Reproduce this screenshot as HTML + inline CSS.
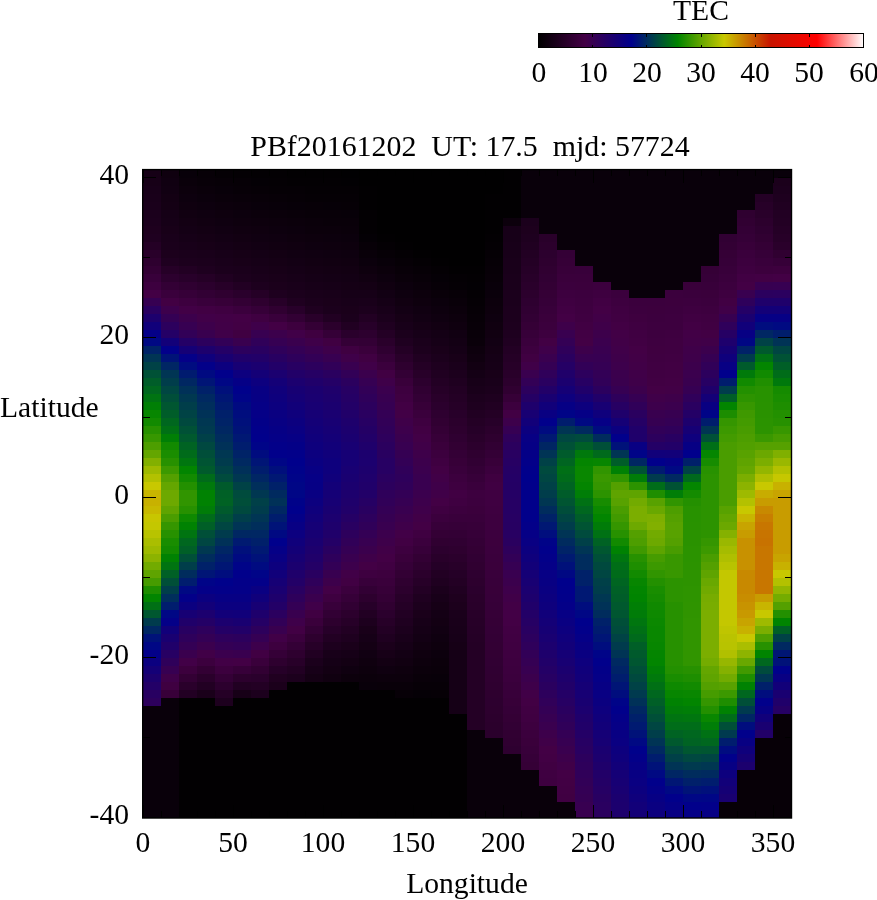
<!DOCTYPE html>
<html><head><meta charset="utf-8"><title>TEC</title>
<style>
html,body{margin:0;padding:0;background:#fff;}
body{width:877px;height:900px;overflow:hidden;position:relative;font-family:"Liberation Serif",serif;color:#000;}
svg{position:absolute;left:0;top:0;}
.t{will-change:transform;position:absolute;white-space:pre;font-size:29.6px;line-height:1;}
.c{transform:translateX(-50%);}
.r{transform:translateX(-100%);}
</style></head><body>
<svg width="877" height="900" viewBox="0 0 877 900" shape-rendering="crispEdges">
<defs><linearGradient id="cb" x1="0" x2="1" y1="0" y2="0"><stop offset="0.0000" stop-color="#000000"/><stop offset="0.1429" stop-color="#430045"/><stop offset="0.2857" stop-color="#00008c"/><stop offset="0.4286" stop-color="#008400"/><stop offset="0.5714" stop-color="#c8c800"/><stop offset="0.7143" stop-color="#c81400"/><stop offset="0.8571" stop-color="#ff0000"/><stop offset="1.0000" stop-color="#ffffff"/></linearGradient></defs>
<rect x="143" y="169.6" width="648" height="648.0" fill="#000"/>
<g>
<rect x="143" y="169.6" width="18.5" height="8.5" fill="#160016"/>
<rect x="143" y="177.6" width="18.5" height="8.5" fill="#170017"/>
<rect x="143" y="185.6" width="18.5" height="8.5" fill="#180019"/>
<rect x="143" y="193.6" width="18.5" height="8.5" fill="#19001a"/>
<rect x="143" y="201.6" width="18.5" height="8.5" fill="#1a001b"/>
<rect x="143" y="209.6" width="18.5" height="8.5" fill="#1b001c"/>
<rect x="143" y="217.6" width="18.5" height="8.5" fill="#1c001d"/>
<rect x="143" y="225.6" width="18.5" height="8.5" fill="#1e001e"/>
<rect x="143" y="233.6" width="18.5" height="8.5" fill="#1f0020"/>
<rect x="143" y="241.6" width="18.5" height="8.5" fill="#240025"/>
<rect x="143" y="249.6" width="18.5" height="8.5" fill="#29002a"/>
<rect x="143" y="257.6" width="18.5" height="8.5" fill="#2e002f"/>
<rect x="143" y="265.6" width="18.5" height="8.5" fill="#330034"/>
<rect x="143" y="273.6" width="18.5" height="8.5" fill="#38003a"/>
<rect x="143" y="281.6" width="18.5" height="8.5" fill="#3d003f"/>
<rect x="143" y="289.6" width="18.5" height="8.5" fill="#430045"/>
<rect x="143" y="297.6" width="18.5" height="8.5" fill="#360052"/>
<rect x="143" y="305.6" width="18.5" height="8.5" fill="#2a0060"/>
<rect x="143" y="313.6" width="18.5" height="8.5" fill="#1d006d"/>
<rect x="143" y="321.6" width="18.5" height="8.5" fill="#11007a"/>
<rect x="143" y="329.6" width="18.5" height="8.5" fill="#040088"/>
<rect x="143" y="337.6" width="18.5" height="8.5" fill="#000983"/>
<rect x="143" y="345.6" width="18.5" height="8.5" fill="#002367"/>
<rect x="143" y="353.6" width="18.5" height="8.5" fill="#003554"/>
<rect x="143" y="361.6" width="18.5" height="8.5" fill="#004246"/>
<rect x="143" y="369.6" width="18.5" height="8.5" fill="#005136"/>
<rect x="143" y="377.6" width="18.5" height="8.5" fill="#005d29"/>
<rect x="143" y="385.6" width="18.5" height="8.5" fill="#00671f"/>
<rect x="143" y="393.6" width="18.5" height="8.5" fill="#007312"/>
<rect x="143" y="401.6" width="18.5" height="8.5" fill="#007f05"/>
<rect x="143" y="409.6" width="18.5" height="8.5" fill="#078600"/>
<rect x="143" y="417.6" width="18.5" height="8.5" fill="#128a00"/>
<rect x="143" y="425.6" width="18.5" height="8.5" fill="#279100"/>
<rect x="143" y="433.6" width="18.5" height="8.5" fill="#379700"/>
<rect x="143" y="441.6" width="18.5" height="8.5" fill="#4d9e00"/>
<rect x="143" y="449.6" width="18.5" height="8.5" fill="#64a600"/>
<rect x="143" y="457.6" width="18.5" height="8.5" fill="#82b000"/>
<rect x="143" y="465.6" width="18.5" height="8.5" fill="#9eba00"/>
<rect x="143" y="473.6" width="18.5" height="8.5" fill="#b3c100"/>
<rect x="143" y="481.6" width="18.5" height="8.5" fill="#c8c800"/>
<rect x="143" y="489.6" width="18.5" height="8.5" fill="#c8b500"/>
<rect x="143" y="497.6" width="18.5" height="8.5" fill="#c8b100"/>
<rect x="143" y="505.6" width="18.5" height="8.5" fill="#c8b900"/>
<rect x="143" y="513.6" width="18.5" height="8.5" fill="#c8c600"/>
<rect x="143" y="521.6" width="18.5" height="8.5" fill="#c4c700"/>
<rect x="143" y="529.6" width="18.5" height="8.5" fill="#b8c300"/>
<rect x="143" y="537.6" width="18.5" height="8.5" fill="#aabe00"/>
<rect x="143" y="545.6" width="18.5" height="8.5" fill="#9eba00"/>
<rect x="143" y="553.6" width="18.5" height="8.5" fill="#8cb300"/>
<rect x="143" y="561.6" width="18.5" height="8.5" fill="#72ab00"/>
<rect x="143" y="569.6" width="18.5" height="8.5" fill="#5fa400"/>
<rect x="143" y="577.6" width="18.5" height="8.5" fill="#469c00"/>
<rect x="143" y="585.6" width="18.5" height="8.5" fill="#1e8e00"/>
<rect x="143" y="593.6" width="18.5" height="8.5" fill="#028500"/>
<rect x="143" y="601.6" width="18.5" height="8.5" fill="#007015"/>
<rect x="143" y="609.6" width="18.5" height="8.5" fill="#005730"/>
<rect x="143" y="617.6" width="18.5" height="8.5" fill="#003b4d"/>
<rect x="143" y="625.6" width="18.5" height="8.5" fill="#002762"/>
<rect x="143" y="633.6" width="18.5" height="8.5" fill="#001279"/>
<rect x="143" y="641.6" width="18.5" height="8.5" fill="#000785"/>
<rect x="143" y="649.6" width="18.5" height="8.5" fill="#030089"/>
<rect x="143" y="657.6" width="18.5" height="8.5" fill="#0b0080"/>
<rect x="143" y="665.6" width="18.5" height="8.5" fill="#140077"/>
<rect x="143" y="673.6" width="18.5" height="8.5" fill="#1c006e"/>
<rect x="143" y="681.6" width="18.5" height="8.5" fill="#230067"/>
<rect x="143" y="689.6" width="18.5" height="8.5" fill="#280061"/>
<rect x="143" y="697.6" width="18.5" height="8.5" fill="#2d005c"/>
<rect x="143" y="705.6" width="18.5" height="112.5" fill="#09000a"/>
<rect x="161" y="169.6" width="18.5" height="8.5" fill="#0f000f"/>
<rect x="161" y="177.6" width="18.5" height="8.5" fill="#100011"/>
<rect x="161" y="185.6" width="18.5" height="8.5" fill="#110012"/>
<rect x="161" y="193.6" width="18.5" height="8.5" fill="#130013"/>
<rect x="161" y="201.6" width="18.5" height="8.5" fill="#140014"/>
<rect x="161" y="209.6" width="18.5" height="8.5" fill="#150016"/>
<rect x="161" y="217.6" width="18.5" height="8.5" fill="#160017"/>
<rect x="161" y="225.6" width="18.5" height="8.5" fill="#180018"/>
<rect x="161" y="233.6" width="18.5" height="8.5" fill="#19001a"/>
<rect x="161" y="241.6" width="18.5" height="8.5" fill="#1a001b"/>
<rect x="161" y="249.6" width="18.5" height="8.5" fill="#1c001c"/>
<rect x="161" y="257.6" width="18.5" height="8.5" fill="#1f0020"/>
<rect x="161" y="265.6" width="18.5" height="8.5" fill="#260027"/>
<rect x="161" y="273.6" width="18.5" height="8.5" fill="#2c002e"/>
<rect x="161" y="281.6" width="18.5" height="8.5" fill="#330035"/>
<rect x="161" y="289.6" width="18.5" height="8.5" fill="#3a003c"/>
<rect x="161" y="297.6" width="18.5" height="8.5" fill="#420043"/>
<rect x="161" y="305.6" width="18.5" height="8.5" fill="#3d004c"/>
<rect x="161" y="313.6" width="18.5" height="8.5" fill="#340054"/>
<rect x="161" y="321.6" width="18.5" height="8.5" fill="#2c005d"/>
<rect x="161" y="329.6" width="18.5" height="8.5" fill="#240066"/>
<rect x="161" y="337.6" width="18.5" height="8.5" fill="#120079"/>
<rect x="161" y="345.6" width="18.5" height="8.5" fill="#02008a"/>
<rect x="161" y="353.6" width="18.5" height="8.5" fill="#001377"/>
<rect x="161" y="361.6" width="18.5" height="8.5" fill="#002664"/>
<rect x="161" y="369.6" width="18.5" height="8.5" fill="#003554"/>
<rect x="161" y="377.6" width="18.5" height="8.5" fill="#003d4b"/>
<rect x="161" y="385.6" width="18.5" height="8.5" fill="#004642"/>
<rect x="161" y="393.6" width="18.5" height="8.5" fill="#004e39"/>
<rect x="161" y="401.6" width="18.5" height="8.5" fill="#005631"/>
<rect x="161" y="409.6" width="18.5" height="8.5" fill="#005d29"/>
<rect x="161" y="417.6" width="18.5" height="8.5" fill="#00671f"/>
<rect x="161" y="425.6" width="18.5" height="8.5" fill="#007015"/>
<rect x="161" y="433.6" width="18.5" height="8.5" fill="#007f05"/>
<rect x="161" y="441.6" width="18.5" height="8.5" fill="#128a00"/>
<rect x="161" y="449.6" width="18.5" height="8.5" fill="#1a8d00"/>
<rect x="161" y="457.6" width="18.5" height="8.5" fill="#279100"/>
<rect x="161" y="465.6" width="18.5" height="8.5" fill="#3c9900"/>
<rect x="161" y="473.6" width="18.5" height="8.5" fill="#54a000"/>
<rect x="161" y="481.6" width="18.5" height="8.5" fill="#64a600"/>
<rect x="161" y="489.6" width="18.5" height="16.5" fill="#6da900"/>
<rect x="161" y="505.6" width="18.5" height="8.5" fill="#5fa400"/>
<rect x="161" y="513.6" width="18.5" height="8.5" fill="#4a9d00"/>
<rect x="161" y="521.6" width="18.5" height="8.5" fill="#359600"/>
<rect x="161" y="529.6" width="18.5" height="8.5" fill="#279100"/>
<rect x="161" y="537.6" width="18.5" height="8.5" fill="#198d00"/>
<rect x="161" y="545.6" width="18.5" height="8.5" fill="#128a00"/>
<rect x="161" y="553.6" width="18.5" height="8.5" fill="#008202"/>
<rect x="161" y="561.6" width="18.5" height="8.5" fill="#007411"/>
<rect x="161" y="569.6" width="18.5" height="8.5" fill="#006026"/>
<rect x="161" y="577.6" width="18.5" height="8.5" fill="#004f38"/>
<rect x="161" y="585.6" width="18.5" height="8.5" fill="#003e4a"/>
<rect x="161" y="593.6" width="18.5" height="8.5" fill="#002e5c"/>
<rect x="161" y="601.6" width="18.5" height="8.5" fill="#001d6e"/>
<rect x="161" y="609.6" width="18.5" height="8.5" fill="#000785"/>
<rect x="161" y="617.6" width="18.5" height="8.5" fill="#040088"/>
<rect x="161" y="625.6" width="18.5" height="8.5" fill="#11007a"/>
<rect x="161" y="633.6" width="18.5" height="8.5" fill="#190071"/>
<rect x="161" y="641.6" width="18.5" height="8.5" fill="#20006a"/>
<rect x="161" y="649.6" width="18.5" height="8.5" fill="#270063"/>
<rect x="161" y="657.6" width="18.5" height="8.5" fill="#2f005a"/>
<rect x="161" y="665.6" width="18.5" height="8.5" fill="#370052"/>
<rect x="161" y="673.6" width="18.5" height="8.5" fill="#3f0049"/>
<rect x="161" y="681.6" width="18.5" height="8.5" fill="#3f0041"/>
<rect x="161" y="689.6" width="18.5" height="8.5" fill="#380039"/>
<rect x="161" y="697.6" width="18.5" height="120.5" fill="#09000a"/>
<rect x="179" y="169.6" width="18.5" height="8.5" fill="#080009"/>
<rect x="179" y="177.6" width="18.5" height="8.5" fill="#0a000a"/>
<rect x="179" y="185.6" width="18.5" height="8.5" fill="#0c000c"/>
<rect x="179" y="193.6" width="18.5" height="8.5" fill="#0d000e"/>
<rect x="179" y="201.6" width="18.5" height="8.5" fill="#0f000f"/>
<rect x="179" y="209.6" width="18.5" height="8.5" fill="#110011"/>
<rect x="179" y="217.6" width="18.5" height="8.5" fill="#130013"/>
<rect x="179" y="225.6" width="18.5" height="8.5" fill="#140015"/>
<rect x="179" y="233.6" width="18.5" height="8.5" fill="#160017"/>
<rect x="179" y="241.6" width="18.5" height="8.5" fill="#180019"/>
<rect x="179" y="249.6" width="18.5" height="8.5" fill="#1a001b"/>
<rect x="179" y="257.6" width="18.5" height="8.5" fill="#1c001d"/>
<rect x="179" y="265.6" width="18.5" height="8.5" fill="#220023"/>
<rect x="179" y="273.6" width="18.5" height="8.5" fill="#28002a"/>
<rect x="179" y="281.6" width="18.5" height="8.5" fill="#2f0031"/>
<rect x="179" y="289.6" width="18.5" height="8.5" fill="#360038"/>
<rect x="179" y="297.6" width="18.5" height="8.5" fill="#3d003f"/>
<rect x="179" y="305.6" width="18.5" height="8.5" fill="#420046"/>
<rect x="179" y="313.6" width="18.5" height="8.5" fill="#3c004c"/>
<rect x="179" y="321.6" width="18.5" height="8.5" fill="#370052"/>
<rect x="179" y="329.6" width="18.5" height="8.5" fill="#320057"/>
<rect x="179" y="337.6" width="18.5" height="8.5" fill="#240066"/>
<rect x="179" y="345.6" width="18.5" height="8.5" fill="#150076"/>
<rect x="179" y="353.6" width="18.5" height="8.5" fill="#040088"/>
<rect x="179" y="361.6" width="18.5" height="8.5" fill="#000c80"/>
<rect x="179" y="369.6" width="18.5" height="8.5" fill="#001b6f"/>
<rect x="179" y="377.6" width="18.5" height="8.5" fill="#002762"/>
<rect x="179" y="385.6" width="18.5" height="8.5" fill="#003158"/>
<rect x="179" y="393.6" width="18.5" height="8.5" fill="#003850"/>
<rect x="179" y="401.6" width="18.5" height="8.5" fill="#003e4a"/>
<rect x="179" y="409.6" width="18.5" height="8.5" fill="#004345"/>
<rect x="179" y="417.6" width="18.5" height="8.5" fill="#00493e"/>
<rect x="179" y="425.6" width="18.5" height="8.5" fill="#005136"/>
<rect x="179" y="433.6" width="18.5" height="8.5" fill="#00592e"/>
<rect x="179" y="441.6" width="18.5" height="8.5" fill="#006323"/>
<rect x="179" y="449.6" width="18.5" height="8.5" fill="#006b1a"/>
<rect x="179" y="457.6" width="18.5" height="8.5" fill="#00760f"/>
<rect x="179" y="465.6" width="18.5" height="8.5" fill="#028500"/>
<rect x="179" y="473.6" width="18.5" height="8.5" fill="#128a00"/>
<rect x="179" y="481.6" width="18.5" height="8.5" fill="#239000"/>
<rect x="179" y="489.6" width="18.5" height="16.5" fill="#319500"/>
<rect x="179" y="505.6" width="18.5" height="8.5" fill="#279100"/>
<rect x="179" y="513.6" width="18.5" height="8.5" fill="#0e8900"/>
<rect x="179" y="521.6" width="18.5" height="8.5" fill="#008202"/>
<rect x="179" y="529.6" width="18.5" height="8.5" fill="#007411"/>
<rect x="179" y="537.6" width="18.5" height="8.5" fill="#00671f"/>
<rect x="179" y="545.6" width="18.5" height="8.5" fill="#005f27"/>
<rect x="179" y="553.6" width="18.5" height="8.5" fill="#004f38"/>
<rect x="179" y="561.6" width="18.5" height="8.5" fill="#003e4a"/>
<rect x="179" y="569.6" width="18.5" height="8.5" fill="#002c5d"/>
<rect x="179" y="577.6" width="18.5" height="8.5" fill="#001d6e"/>
<rect x="179" y="585.6" width="18.5" height="8.5" fill="#000983"/>
<rect x="179" y="593.6" width="18.5" height="8.5" fill="#030089"/>
<rect x="179" y="601.6" width="18.5" height="8.5" fill="#0b0080"/>
<rect x="179" y="609.6" width="18.5" height="8.5" fill="#170074"/>
<rect x="179" y="617.6" width="18.5" height="8.5" fill="#20006a"/>
<rect x="179" y="625.6" width="18.5" height="8.5" fill="#280061"/>
<rect x="179" y="633.6" width="18.5" height="8.5" fill="#2e005b"/>
<rect x="179" y="641.6" width="18.5" height="8.5" fill="#340055"/>
<rect x="179" y="649.6" width="18.5" height="8.5" fill="#3a004e"/>
<rect x="179" y="657.6" width="18.5" height="8.5" fill="#420047"/>
<rect x="179" y="665.6" width="18.5" height="8.5" fill="#3c003d"/>
<rect x="179" y="673.6" width="18.5" height="8.5" fill="#330034"/>
<rect x="179" y="681.6" width="18.5" height="8.5" fill="#2a002b"/>
<rect x="179" y="689.6" width="18.5" height="8.5" fill="#220023"/>
<rect x="179" y="697.6" width="18.5" height="120.5" fill="#020002"/>
<rect x="197" y="169.6" width="18.5" height="8.5" fill="#070007"/>
<rect x="197" y="177.6" width="18.5" height="8.5" fill="#080008"/>
<rect x="197" y="185.6" width="18.5" height="8.5" fill="#0a000a"/>
<rect x="197" y="193.6" width="18.5" height="8.5" fill="#0b000c"/>
<rect x="197" y="201.6" width="18.5" height="8.5" fill="#0d000e"/>
<rect x="197" y="209.6" width="18.5" height="8.5" fill="#0f0010"/>
<rect x="197" y="217.6" width="18.5" height="8.5" fill="#110011"/>
<rect x="197" y="225.6" width="18.5" height="8.5" fill="#130013"/>
<rect x="197" y="233.6" width="18.5" height="8.5" fill="#150015"/>
<rect x="197" y="241.6" width="18.5" height="8.5" fill="#170017"/>
<rect x="197" y="249.6" width="18.5" height="8.5" fill="#19001a"/>
<rect x="197" y="257.6" width="18.5" height="8.5" fill="#1b001c"/>
<rect x="197" y="265.6" width="18.5" height="8.5" fill="#1e001f"/>
<rect x="197" y="273.6" width="18.5" height="8.5" fill="#250026"/>
<rect x="197" y="281.6" width="18.5" height="8.5" fill="#2b002d"/>
<rect x="197" y="289.6" width="18.5" height="8.5" fill="#320034"/>
<rect x="197" y="297.6" width="18.5" height="8.5" fill="#39003b"/>
<rect x="197" y="305.6" width="18.5" height="8.5" fill="#410043"/>
<rect x="197" y="313.6" width="18.5" height="8.5" fill="#410048"/>
<rect x="197" y="321.6" width="18.5" height="8.5" fill="#3d004b"/>
<rect x="197" y="329.6" width="18.5" height="8.5" fill="#39004f"/>
<rect x="197" y="337.6" width="18.5" height="8.5" fill="#2c005d"/>
<rect x="197" y="345.6" width="18.5" height="8.5" fill="#1d006d"/>
<rect x="197" y="353.6" width="18.5" height="8.5" fill="#0f007c"/>
<rect x="197" y="361.6" width="18.5" height="8.5" fill="#030089"/>
<rect x="197" y="369.6" width="18.5" height="8.5" fill="#000a81"/>
<rect x="197" y="377.6" width="18.5" height="8.5" fill="#001576"/>
<rect x="197" y="385.6" width="18.5" height="8.5" fill="#002169"/>
<rect x="197" y="393.6" width="18.5" height="8.5" fill="#002961"/>
<rect x="197" y="401.6" width="18.5" height="8.5" fill="#002e5c"/>
<rect x="197" y="409.6" width="18.5" height="8.5" fill="#003257"/>
<rect x="197" y="417.6" width="18.5" height="8.5" fill="#003752"/>
<rect x="197" y="425.6" width="18.5" height="8.5" fill="#003a4f"/>
<rect x="197" y="433.6" width="18.5" height="8.5" fill="#004048"/>
<rect x="197" y="441.6" width="18.5" height="8.5" fill="#004840"/>
<rect x="197" y="449.6" width="18.5" height="8.5" fill="#004e39"/>
<rect x="197" y="457.6" width="18.5" height="8.5" fill="#005433"/>
<rect x="197" y="465.6" width="18.5" height="8.5" fill="#005a2c"/>
<rect x="197" y="473.6" width="18.5" height="8.5" fill="#006b1a"/>
<rect x="197" y="481.6" width="18.5" height="8.5" fill="#00790c"/>
<rect x="197" y="489.6" width="18.5" height="16.5" fill="#008202"/>
<rect x="197" y="505.6" width="18.5" height="8.5" fill="#007c08"/>
<rect x="197" y="513.6" width="18.5" height="8.5" fill="#006b1a"/>
<rect x="197" y="521.6" width="18.5" height="8.5" fill="#005f27"/>
<rect x="197" y="529.6" width="18.5" height="8.5" fill="#004f38"/>
<rect x="197" y="537.6" width="18.5" height="8.5" fill="#004642"/>
<rect x="197" y="545.6" width="18.5" height="8.5" fill="#003850"/>
<rect x="197" y="553.6" width="18.5" height="8.5" fill="#002c5d"/>
<rect x="197" y="561.6" width="18.5" height="8.5" fill="#002169"/>
<rect x="197" y="569.6" width="18.5" height="8.5" fill="#001576"/>
<rect x="197" y="577.6" width="18.5" height="8.5" fill="#000488"/>
<rect x="197" y="585.6" width="18.5" height="8.5" fill="#040088"/>
<rect x="197" y="593.6" width="18.5" height="8.5" fill="#0b0080"/>
<rect x="197" y="601.6" width="18.5" height="8.5" fill="#120079"/>
<rect x="197" y="609.6" width="18.5" height="8.5" fill="#1c006f"/>
<rect x="197" y="617.6" width="18.5" height="8.5" fill="#240066"/>
<rect x="197" y="625.6" width="18.5" height="8.5" fill="#2e005c"/>
<rect x="197" y="633.6" width="18.5" height="8.5" fill="#340055"/>
<rect x="197" y="641.6" width="18.5" height="8.5" fill="#3b004e"/>
<rect x="197" y="649.6" width="18.5" height="8.5" fill="#410047"/>
<rect x="197" y="657.6" width="18.5" height="8.5" fill="#3c003e"/>
<rect x="197" y="665.6" width="18.5" height="8.5" fill="#330034"/>
<rect x="197" y="673.6" width="18.5" height="8.5" fill="#2a002b"/>
<rect x="197" y="681.6" width="18.5" height="8.5" fill="#220023"/>
<rect x="197" y="689.6" width="18.5" height="8.5" fill="#1a001a"/>
<rect x="197" y="697.6" width="18.5" height="120.5" fill="#020002"/>
<rect x="215" y="169.6" width="18.5" height="8.5" fill="#050005"/>
<rect x="215" y="177.6" width="18.5" height="8.5" fill="#070007"/>
<rect x="215" y="185.6" width="18.5" height="8.5" fill="#080009"/>
<rect x="215" y="193.6" width="18.5" height="8.5" fill="#0a000a"/>
<rect x="215" y="201.6" width="18.5" height="8.5" fill="#0c000c"/>
<rect x="215" y="209.6" width="18.5" height="8.5" fill="#0e000e"/>
<rect x="215" y="217.6" width="18.5" height="8.5" fill="#0f0010"/>
<rect x="215" y="225.6" width="18.5" height="8.5" fill="#110012"/>
<rect x="215" y="233.6" width="18.5" height="8.5" fill="#130014"/>
<rect x="215" y="241.6" width="18.5" height="8.5" fill="#150016"/>
<rect x="215" y="249.6" width="18.5" height="8.5" fill="#170018"/>
<rect x="215" y="257.6" width="18.5" height="8.5" fill="#19001a"/>
<rect x="215" y="265.6" width="18.5" height="8.5" fill="#1b001c"/>
<rect x="215" y="273.6" width="18.5" height="8.5" fill="#200021"/>
<rect x="215" y="281.6" width="18.5" height="8.5" fill="#270028"/>
<rect x="215" y="289.6" width="18.5" height="8.5" fill="#2f0030"/>
<rect x="215" y="297.6" width="18.5" height="8.5" fill="#370038"/>
<rect x="215" y="305.6" width="18.5" height="8.5" fill="#3f0041"/>
<rect x="215" y="313.6" width="18.5" height="8.5" fill="#420046"/>
<rect x="215" y="321.6" width="18.5" height="8.5" fill="#410047"/>
<rect x="215" y="329.6" width="18.5" height="8.5" fill="#400049"/>
<rect x="215" y="337.6" width="18.5" height="8.5" fill="#320057"/>
<rect x="215" y="345.6" width="18.5" height="8.5" fill="#240066"/>
<rect x="215" y="353.6" width="18.5" height="8.5" fill="#190071"/>
<rect x="215" y="361.6" width="18.5" height="8.5" fill="#0c007f"/>
<rect x="215" y="369.6" width="18.5" height="8.5" fill="#01008b"/>
<rect x="215" y="377.6" width="18.5" height="8.5" fill="#000785"/>
<rect x="215" y="385.6" width="18.5" height="8.5" fill="#00107b"/>
<rect x="215" y="393.6" width="18.5" height="8.5" fill="#001674"/>
<rect x="215" y="401.6" width="18.5" height="8.5" fill="#001b6f"/>
<rect x="215" y="409.6" width="18.5" height="8.5" fill="#00206a"/>
<rect x="215" y="417.6" width="18.5" height="8.5" fill="#002367"/>
<rect x="215" y="425.6" width="18.5" height="8.5" fill="#002762"/>
<rect x="215" y="433.6" width="18.5" height="8.5" fill="#002c5d"/>
<rect x="215" y="441.6" width="18.5" height="8.5" fill="#003158"/>
<rect x="215" y="449.6" width="18.5" height="8.5" fill="#003752"/>
<rect x="215" y="457.6" width="18.5" height="8.5" fill="#003b4d"/>
<rect x="215" y="465.6" width="18.5" height="8.5" fill="#004246"/>
<rect x="215" y="473.6" width="18.5" height="8.5" fill="#004b3d"/>
<rect x="215" y="481.6" width="18.5" height="8.5" fill="#005a2c"/>
<rect x="215" y="489.6" width="18.5" height="8.5" fill="#006026"/>
<rect x="215" y="497.6" width="18.5" height="8.5" fill="#006224"/>
<rect x="215" y="505.6" width="18.5" height="8.5" fill="#005a2c"/>
<rect x="215" y="513.6" width="18.5" height="8.5" fill="#005136"/>
<rect x="215" y="521.6" width="18.5" height="8.5" fill="#004642"/>
<rect x="215" y="529.6" width="18.5" height="8.5" fill="#003b4d"/>
<rect x="215" y="537.6" width="18.5" height="8.5" fill="#003158"/>
<rect x="215" y="545.6" width="18.5" height="8.5" fill="#002664"/>
<rect x="215" y="553.6" width="18.5" height="8.5" fill="#001e6c"/>
<rect x="215" y="561.6" width="18.5" height="8.5" fill="#001674"/>
<rect x="215" y="569.6" width="18.5" height="8.5" fill="#000d7e"/>
<rect x="215" y="577.6" width="18.5" height="8.5" fill="#00018b"/>
<rect x="215" y="585.6" width="18.5" height="8.5" fill="#030089"/>
<rect x="215" y="593.6" width="18.5" height="8.5" fill="#070084"/>
<rect x="215" y="601.6" width="18.5" height="8.5" fill="#0b0080"/>
<rect x="215" y="609.6" width="18.5" height="8.5" fill="#120079"/>
<rect x="215" y="617.6" width="18.5" height="8.5" fill="#1c006f"/>
<rect x="215" y="625.6" width="18.5" height="8.5" fill="#240066"/>
<rect x="215" y="633.6" width="18.5" height="8.5" fill="#2e005c"/>
<rect x="215" y="641.6" width="18.5" height="8.5" fill="#340055"/>
<rect x="215" y="649.6" width="18.5" height="8.5" fill="#3b004e"/>
<rect x="215" y="657.6" width="18.5" height="8.5" fill="#420046"/>
<rect x="215" y="665.6" width="18.5" height="8.5" fill="#3c003e"/>
<rect x="215" y="673.6" width="18.5" height="8.5" fill="#340036"/>
<rect x="215" y="681.6" width="18.5" height="8.5" fill="#2c002e"/>
<rect x="215" y="689.6" width="18.5" height="8.5" fill="#250026"/>
<rect x="215" y="697.6" width="18.5" height="8.5" fill="#1d001e"/>
<rect x="215" y="705.6" width="18.5" height="112.5" fill="#020002"/>
<rect x="233" y="169.6" width="18.5" height="8.5" fill="#040004"/>
<rect x="233" y="177.6" width="18.5" height="8.5" fill="#060006"/>
<rect x="233" y="185.6" width="18.5" height="8.5" fill="#070007"/>
<rect x="233" y="193.6" width="18.5" height="8.5" fill="#090009"/>
<rect x="233" y="201.6" width="18.5" height="8.5" fill="#0b000b"/>
<rect x="233" y="209.6" width="18.5" height="8.5" fill="#0c000d"/>
<rect x="233" y="217.6" width="18.5" height="8.5" fill="#0e000e"/>
<rect x="233" y="225.6" width="18.5" height="8.5" fill="#100010"/>
<rect x="233" y="233.6" width="18.5" height="8.5" fill="#120012"/>
<rect x="233" y="241.6" width="18.5" height="8.5" fill="#140014"/>
<rect x="233" y="249.6" width="18.5" height="8.5" fill="#160016"/>
<rect x="233" y="257.6" width="18.5" height="8.5" fill="#180018"/>
<rect x="233" y="265.6" width="18.5" height="8.5" fill="#1a001b"/>
<rect x="233" y="273.6" width="18.5" height="8.5" fill="#1c001d"/>
<rect x="233" y="281.6" width="18.5" height="8.5" fill="#220023"/>
<rect x="233" y="289.6" width="18.5" height="8.5" fill="#2a002c"/>
<rect x="233" y="297.6" width="18.5" height="8.5" fill="#330034"/>
<rect x="233" y="305.6" width="18.5" height="8.5" fill="#3b003d"/>
<rect x="233" y="313.6" width="18.5" height="8.5" fill="#430045"/>
<rect x="233" y="321.6" width="18.5" height="8.5" fill="#420044"/>
<rect x="233" y="329.6" width="18.5" height="8.5" fill="#400042"/>
<rect x="233" y="337.6" width="18.5" height="8.5" fill="#39004f"/>
<rect x="233" y="345.6" width="18.5" height="8.5" fill="#2c005d"/>
<rect x="233" y="353.6" width="18.5" height="8.5" fill="#20006a"/>
<rect x="233" y="361.6" width="18.5" height="8.5" fill="#170074"/>
<rect x="233" y="369.6" width="18.5" height="8.5" fill="#0d007f"/>
<rect x="233" y="377.6" width="18.5" height="8.5" fill="#050086"/>
<rect x="233" y="385.6" width="18.5" height="8.5" fill="#00018b"/>
<rect x="233" y="393.6" width="18.5" height="8.5" fill="#000488"/>
<rect x="233" y="401.6" width="18.5" height="8.5" fill="#000a81"/>
<rect x="233" y="409.6" width="18.5" height="8.5" fill="#000d7e"/>
<rect x="233" y="417.6" width="18.5" height="8.5" fill="#00107b"/>
<rect x="233" y="425.6" width="18.5" height="8.5" fill="#001377"/>
<rect x="233" y="433.6" width="18.5" height="8.5" fill="#001873"/>
<rect x="233" y="441.6" width="18.5" height="8.5" fill="#001d6e"/>
<rect x="233" y="449.6" width="18.5" height="8.5" fill="#002367"/>
<rect x="233" y="457.6" width="18.5" height="8.5" fill="#002961"/>
<rect x="233" y="465.6" width="18.5" height="8.5" fill="#003059"/>
<rect x="233" y="473.6" width="18.5" height="8.5" fill="#003751"/>
<rect x="233" y="481.6" width="18.5" height="8.5" fill="#004246"/>
<rect x="233" y="489.6" width="18.5" height="8.5" fill="#004b3d"/>
<rect x="233" y="497.6" width="18.5" height="8.5" fill="#004e39"/>
<rect x="233" y="505.6" width="18.5" height="8.5" fill="#00493e"/>
<rect x="233" y="513.6" width="18.5" height="8.5" fill="#003e4a"/>
<rect x="233" y="521.6" width="18.5" height="8.5" fill="#003455"/>
<rect x="233" y="529.6" width="18.5" height="8.5" fill="#002762"/>
<rect x="233" y="537.6" width="18.5" height="8.5" fill="#001a71"/>
<rect x="233" y="545.6" width="18.5" height="8.5" fill="#00107b"/>
<rect x="233" y="553.6" width="18.5" height="8.5" fill="#000a81"/>
<rect x="233" y="561.6" width="18.5" height="8.5" fill="#000488"/>
<rect x="233" y="569.6" width="18.5" height="8.5" fill="#01008b"/>
<rect x="233" y="577.6" width="18.5" height="8.5" fill="#030089"/>
<rect x="233" y="585.6" width="18.5" height="8.5" fill="#040088"/>
<rect x="233" y="593.6" width="18.5" height="8.5" fill="#070084"/>
<rect x="233" y="601.6" width="18.5" height="8.5" fill="#0b0080"/>
<rect x="233" y="609.6" width="18.5" height="8.5" fill="#11007a"/>
<rect x="233" y="617.6" width="18.5" height="8.5" fill="#190071"/>
<rect x="233" y="625.6" width="18.5" height="8.5" fill="#220068"/>
<rect x="233" y="633.6" width="18.5" height="8.5" fill="#2c005d"/>
<rect x="233" y="641.6" width="18.5" height="8.5" fill="#320057"/>
<rect x="233" y="649.6" width="18.5" height="8.5" fill="#39004f"/>
<rect x="233" y="657.6" width="18.5" height="8.5" fill="#430045"/>
<rect x="233" y="665.6" width="18.5" height="8.5" fill="#370039"/>
<rect x="233" y="673.6" width="18.5" height="8.5" fill="#2c002d"/>
<rect x="233" y="681.6" width="18.5" height="8.5" fill="#210022"/>
<rect x="233" y="689.6" width="18.5" height="8.5" fill="#170017"/>
<rect x="233" y="697.6" width="18.5" height="120.5" fill="#020002"/>
<rect x="251" y="169.6" width="18.5" height="8.5" fill="#030003"/>
<rect x="251" y="177.6" width="18.5" height="8.5" fill="#040005"/>
<rect x="251" y="185.6" width="18.5" height="8.5" fill="#060006"/>
<rect x="251" y="193.6" width="18.5" height="8.5" fill="#080008"/>
<rect x="251" y="201.6" width="18.5" height="8.5" fill="#09000a"/>
<rect x="251" y="209.6" width="18.5" height="8.5" fill="#0b000b"/>
<rect x="251" y="217.6" width="18.5" height="8.5" fill="#0d000d"/>
<rect x="251" y="225.6" width="18.5" height="8.5" fill="#0f000f"/>
<rect x="251" y="233.6" width="18.5" height="8.5" fill="#100011"/>
<rect x="251" y="241.6" width="18.5" height="8.5" fill="#120013"/>
<rect x="251" y="249.6" width="18.5" height="8.5" fill="#140015"/>
<rect x="251" y="257.6" width="18.5" height="8.5" fill="#160017"/>
<rect x="251" y="265.6" width="18.5" height="8.5" fill="#180019"/>
<rect x="251" y="273.6" width="18.5" height="8.5" fill="#1a001b"/>
<rect x="251" y="281.6" width="18.5" height="8.5" fill="#1d001e"/>
<rect x="251" y="289.6" width="18.5" height="8.5" fill="#250026"/>
<rect x="251" y="297.6" width="18.5" height="8.5" fill="#2e002f"/>
<rect x="251" y="305.6" width="18.5" height="8.5" fill="#360038"/>
<rect x="251" y="313.6" width="18.5" height="8.5" fill="#3f0041"/>
<rect x="251" y="321.6" width="18.5" height="8.5" fill="#3f004a"/>
<rect x="251" y="329.6" width="18.5" height="8.5" fill="#380051"/>
<rect x="251" y="337.6" width="18.5" height="8.5" fill="#300059"/>
<rect x="251" y="345.6" width="18.5" height="8.5" fill="#290060"/>
<rect x="251" y="353.6" width="18.5" height="8.5" fill="#220068"/>
<rect x="251" y="361.6" width="18.5" height="8.5" fill="#1b0070"/>
<rect x="251" y="369.6" width="18.5" height="8.5" fill="#140077"/>
<rect x="251" y="377.6" width="18.5" height="8.5" fill="#0d007f"/>
<rect x="251" y="385.6" width="18.5" height="8.5" fill="#080083"/>
<rect x="251" y="393.6" width="18.5" height="8.5" fill="#070084"/>
<rect x="251" y="401.6" width="18.5" height="8.5" fill="#060086"/>
<rect x="251" y="409.6" width="18.5" height="8.5" fill="#050087"/>
<rect x="251" y="417.6" width="18.5" height="8.5" fill="#030088"/>
<rect x="251" y="425.6" width="18.5" height="8.5" fill="#02008a"/>
<rect x="251" y="433.6" width="18.5" height="8.5" fill="#01008b"/>
<rect x="251" y="441.6" width="18.5" height="8.5" fill="#000488"/>
<rect x="251" y="449.6" width="18.5" height="8.5" fill="#000c7f"/>
<rect x="251" y="457.6" width="18.5" height="8.5" fill="#001576"/>
<rect x="251" y="465.6" width="18.5" height="8.5" fill="#001d6d"/>
<rect x="251" y="473.6" width="18.5" height="8.5" fill="#002664"/>
<rect x="251" y="481.6" width="18.5" height="8.5" fill="#002f5b"/>
<rect x="251" y="489.6" width="18.5" height="8.5" fill="#003751"/>
<rect x="251" y="497.6" width="18.5" height="8.5" fill="#004048"/>
<rect x="251" y="505.6" width="18.5" height="8.5" fill="#003c4c"/>
<rect x="251" y="513.6" width="18.5" height="8.5" fill="#003554"/>
<rect x="251" y="521.6" width="18.5" height="8.5" fill="#002e5b"/>
<rect x="251" y="529.6" width="18.5" height="8.5" fill="#002763"/>
<rect x="251" y="537.6" width="18.5" height="8.5" fill="#00206a"/>
<rect x="251" y="545.6" width="18.5" height="8.5" fill="#001972"/>
<rect x="251" y="553.6" width="18.5" height="8.5" fill="#001279"/>
<rect x="251" y="561.6" width="18.5" height="8.5" fill="#000b81"/>
<rect x="251" y="569.6" width="18.5" height="8.5" fill="#000488"/>
<rect x="251" y="577.6" width="18.5" height="8.5" fill="#030089"/>
<rect x="251" y="585.6" width="18.5" height="8.5" fill="#0a0082"/>
<rect x="251" y="593.6" width="18.5" height="8.5" fill="#10007b"/>
<rect x="251" y="601.6" width="18.5" height="8.5" fill="#170074"/>
<rect x="251" y="609.6" width="18.5" height="8.5" fill="#1e006c"/>
<rect x="251" y="617.6" width="18.5" height="8.5" fill="#250065"/>
<rect x="251" y="625.6" width="18.5" height="8.5" fill="#2d005c"/>
<rect x="251" y="633.6" width="18.5" height="8.5" fill="#350054"/>
<rect x="251" y="641.6" width="18.5" height="8.5" fill="#3d004c"/>
<rect x="251" y="649.6" width="18.5" height="8.5" fill="#410043"/>
<rect x="251" y="657.6" width="18.5" height="8.5" fill="#3a003b"/>
<rect x="251" y="665.6" width="18.5" height="8.5" fill="#320033"/>
<rect x="251" y="673.6" width="18.5" height="8.5" fill="#2a002c"/>
<rect x="251" y="681.6" width="18.5" height="8.5" fill="#230024"/>
<rect x="251" y="689.6" width="18.5" height="8.5" fill="#1c001d"/>
<rect x="251" y="697.6" width="18.5" height="120.5" fill="#020002"/>
<rect x="269" y="169.6" width="18.5" height="8.5" fill="#030003"/>
<rect x="269" y="177.6" width="18.5" height="8.5" fill="#040004"/>
<rect x="269" y="185.6" width="18.5" height="8.5" fill="#050005"/>
<rect x="269" y="193.6" width="18.5" height="8.5" fill="#070007"/>
<rect x="269" y="201.6" width="18.5" height="8.5" fill="#080009"/>
<rect x="269" y="209.6" width="18.5" height="8.5" fill="#0a000a"/>
<rect x="269" y="217.6" width="18.5" height="8.5" fill="#0c000c"/>
<rect x="269" y="225.6" width="18.5" height="8.5" fill="#0d000e"/>
<rect x="269" y="233.6" width="18.5" height="8.5" fill="#0f0010"/>
<rect x="269" y="241.6" width="18.5" height="8.5" fill="#110011"/>
<rect x="269" y="249.6" width="18.5" height="8.5" fill="#130013"/>
<rect x="269" y="257.6" width="18.5" height="8.5" fill="#150015"/>
<rect x="269" y="265.6" width="18.5" height="8.5" fill="#170017"/>
<rect x="269" y="273.6" width="18.5" height="8.5" fill="#190019"/>
<rect x="269" y="281.6" width="18.5" height="8.5" fill="#1b001b"/>
<rect x="269" y="289.6" width="18.5" height="8.5" fill="#1e001f"/>
<rect x="269" y="297.6" width="18.5" height="8.5" fill="#270028"/>
<rect x="269" y="305.6" width="18.5" height="8.5" fill="#300031"/>
<rect x="269" y="313.6" width="18.5" height="8.5" fill="#39003b"/>
<rect x="269" y="321.6" width="18.5" height="8.5" fill="#430045"/>
<rect x="269" y="329.6" width="18.5" height="8.5" fill="#3c004c"/>
<rect x="269" y="337.6" width="18.5" height="8.5" fill="#360053"/>
<rect x="269" y="345.6" width="18.5" height="8.5" fill="#2f005a"/>
<rect x="269" y="353.6" width="18.5" height="8.5" fill="#280061"/>
<rect x="269" y="361.6" width="18.5" height="8.5" fill="#220068"/>
<rect x="269" y="369.6" width="18.5" height="8.5" fill="#1b0070"/>
<rect x="269" y="377.6" width="18.5" height="8.5" fill="#140077"/>
<rect x="269" y="385.6" width="18.5" height="8.5" fill="#10007b"/>
<rect x="269" y="393.6" width="18.5" height="8.5" fill="#0e007d"/>
<rect x="269" y="401.6" width="18.5" height="8.5" fill="#0c007f"/>
<rect x="269" y="409.6" width="18.5" height="8.5" fill="#0a0081"/>
<rect x="269" y="417.6" width="18.5" height="8.5" fill="#080083"/>
<rect x="269" y="425.6" width="18.5" height="8.5" fill="#060085"/>
<rect x="269" y="433.6" width="18.5" height="8.5" fill="#050087"/>
<rect x="269" y="441.6" width="18.5" height="8.5" fill="#030089"/>
<rect x="269" y="449.6" width="18.5" height="8.5" fill="#01008b"/>
<rect x="269" y="457.6" width="18.5" height="8.5" fill="#000686"/>
<rect x="269" y="465.6" width="18.5" height="8.5" fill="#000f7c"/>
<rect x="269" y="473.6" width="18.5" height="8.5" fill="#001873"/>
<rect x="269" y="481.6" width="18.5" height="8.5" fill="#002169"/>
<rect x="269" y="489.6" width="18.5" height="8.5" fill="#002a5f"/>
<rect x="269" y="497.6" width="18.5" height="8.5" fill="#003158"/>
<rect x="269" y="505.6" width="18.5" height="8.5" fill="#002762"/>
<rect x="269" y="513.6" width="18.5" height="8.5" fill="#001d6d"/>
<rect x="269" y="521.6" width="18.5" height="8.5" fill="#001378"/>
<rect x="269" y="529.6" width="18.5" height="8.5" fill="#000982"/>
<rect x="269" y="537.6" width="18.5" height="8.5" fill="#00008c"/>
<rect x="269" y="545.6" width="18.5" height="8.5" fill="#050087"/>
<rect x="269" y="553.6" width="18.5" height="8.5" fill="#090083"/>
<rect x="269" y="561.6" width="18.5" height="8.5" fill="#0d007e"/>
<rect x="269" y="569.6" width="18.5" height="8.5" fill="#11007a"/>
<rect x="269" y="577.6" width="18.5" height="8.5" fill="#160075"/>
<rect x="269" y="585.6" width="18.5" height="8.5" fill="#1a0071"/>
<rect x="269" y="593.6" width="18.5" height="8.5" fill="#1e006c"/>
<rect x="269" y="601.6" width="18.5" height="8.5" fill="#230067"/>
<rect x="269" y="609.6" width="18.5" height="8.5" fill="#2b005f"/>
<rect x="269" y="617.6" width="18.5" height="8.5" fill="#320057"/>
<rect x="269" y="625.6" width="18.5" height="8.5" fill="#39004f"/>
<rect x="269" y="633.6" width="18.5" height="8.5" fill="#410047"/>
<rect x="269" y="641.6" width="18.5" height="8.5" fill="#3d003f"/>
<rect x="269" y="649.6" width="18.5" height="8.5" fill="#350037"/>
<rect x="269" y="657.6" width="18.5" height="8.5" fill="#2e002f"/>
<rect x="269" y="665.6" width="18.5" height="8.5" fill="#260028"/>
<rect x="269" y="673.6" width="18.5" height="8.5" fill="#200020"/>
<rect x="269" y="681.6" width="18.5" height="8.5" fill="#1b001b"/>
<rect x="269" y="689.6" width="18.5" height="128.5" fill="#020002"/>
<rect x="287" y="169.6" width="18.5" height="8.5" fill="#020002"/>
<rect x="287" y="177.6" width="18.5" height="8.5" fill="#030003"/>
<rect x="287" y="185.6" width="18.5" height="8.5" fill="#050005"/>
<rect x="287" y="193.6" width="18.5" height="8.5" fill="#060006"/>
<rect x="287" y="201.6" width="18.5" height="8.5" fill="#070008"/>
<rect x="287" y="209.6" width="18.5" height="8.5" fill="#090009"/>
<rect x="287" y="217.6" width="18.5" height="8.5" fill="#0b000b"/>
<rect x="287" y="225.6" width="18.5" height="8.5" fill="#0c000d"/>
<rect x="287" y="233.6" width="18.5" height="8.5" fill="#0e000e"/>
<rect x="287" y="241.6" width="18.5" height="8.5" fill="#100010"/>
<rect x="287" y="249.6" width="18.5" height="8.5" fill="#110012"/>
<rect x="287" y="257.6" width="18.5" height="8.5" fill="#130014"/>
<rect x="287" y="265.6" width="18.5" height="8.5" fill="#150016"/>
<rect x="287" y="273.6" width="18.5" height="8.5" fill="#170018"/>
<rect x="287" y="281.6" width="18.5" height="8.5" fill="#19001a"/>
<rect x="287" y="289.6" width="18.5" height="8.5" fill="#1b001c"/>
<rect x="287" y="297.6" width="18.5" height="8.5" fill="#1f0020"/>
<rect x="287" y="305.6" width="18.5" height="8.5" fill="#28002a"/>
<rect x="287" y="313.6" width="18.5" height="8.5" fill="#320034"/>
<rect x="287" y="321.6" width="18.5" height="8.5" fill="#3d003e"/>
<rect x="287" y="329.6" width="18.5" height="8.5" fill="#410048"/>
<rect x="287" y="337.6" width="18.5" height="8.5" fill="#3a004e"/>
<rect x="287" y="345.6" width="18.5" height="8.5" fill="#340055"/>
<rect x="287" y="353.6" width="18.5" height="8.5" fill="#2e005b"/>
<rect x="287" y="361.6" width="18.5" height="8.5" fill="#280062"/>
<rect x="287" y="369.6" width="18.5" height="8.5" fill="#220068"/>
<rect x="287" y="377.6" width="18.5" height="8.5" fill="#1c006f"/>
<rect x="287" y="385.6" width="18.5" height="8.5" fill="#170073"/>
<rect x="287" y="393.6" width="18.5" height="8.5" fill="#150076"/>
<rect x="287" y="401.6" width="18.5" height="8.5" fill="#120079"/>
<rect x="287" y="409.6" width="18.5" height="8.5" fill="#0f007c"/>
<rect x="287" y="417.6" width="18.5" height="8.5" fill="#0c007f"/>
<rect x="287" y="425.6" width="18.5" height="8.5" fill="#0a0082"/>
<rect x="287" y="433.6" width="18.5" height="8.5" fill="#070085"/>
<rect x="287" y="441.6" width="18.5" height="8.5" fill="#040087"/>
<rect x="287" y="449.6" width="18.5" height="8.5" fill="#02008a"/>
<rect x="287" y="457.6" width="18.5" height="8.5" fill="#00008c"/>
<rect x="287" y="465.6" width="18.5" height="8.5" fill="#00028a"/>
<rect x="287" y="473.6" width="18.5" height="8.5" fill="#000488"/>
<rect x="287" y="481.6" width="18.5" height="16.5" fill="#000686"/>
<rect x="287" y="497.6" width="18.5" height="8.5" fill="#000289"/>
<rect x="287" y="505.6" width="18.5" height="8.5" fill="#00008c"/>
<rect x="287" y="513.6" width="18.5" height="8.5" fill="#040088"/>
<rect x="287" y="521.6" width="18.5" height="8.5" fill="#080084"/>
<rect x="287" y="529.6" width="18.5" height="8.5" fill="#0c0080"/>
<rect x="287" y="537.6" width="18.5" height="8.5" fill="#10007b"/>
<rect x="287" y="545.6" width="18.5" height="8.5" fill="#130077"/>
<rect x="287" y="553.6" width="18.5" height="8.5" fill="#170073"/>
<rect x="287" y="561.6" width="18.5" height="8.5" fill="#1b006f"/>
<rect x="287" y="569.6" width="18.5" height="8.5" fill="#1f006b"/>
<rect x="287" y="577.6" width="18.5" height="8.5" fill="#230067"/>
<rect x="287" y="585.6" width="18.5" height="8.5" fill="#290061"/>
<rect x="287" y="593.6" width="18.5" height="8.5" fill="#2e005b"/>
<rect x="287" y="601.6" width="18.5" height="8.5" fill="#340055"/>
<rect x="287" y="609.6" width="18.5" height="8.5" fill="#39004f"/>
<rect x="287" y="617.6" width="18.5" height="8.5" fill="#3f004a"/>
<rect x="287" y="625.6" width="18.5" height="8.5" fill="#420044"/>
<rect x="287" y="633.6" width="18.5" height="8.5" fill="#3b003d"/>
<rect x="287" y="641.6" width="18.5" height="8.5" fill="#340036"/>
<rect x="287" y="649.6" width="18.5" height="8.5" fill="#2e002f"/>
<rect x="287" y="657.6" width="18.5" height="8.5" fill="#280029"/>
<rect x="287" y="665.6" width="18.5" height="8.5" fill="#220023"/>
<rect x="287" y="673.6" width="18.5" height="8.5" fill="#1c001d"/>
<rect x="287" y="681.6" width="18.5" height="136.5" fill="#020002"/>
<rect x="305" y="169.6" width="18.5" height="8.5" fill="#020002"/>
<rect x="305" y="177.6" width="18.5" height="8.5" fill="#030003"/>
<rect x="305" y="185.6" width="18.5" height="8.5" fill="#040004"/>
<rect x="305" y="193.6" width="18.5" height="8.5" fill="#050005"/>
<rect x="305" y="201.6" width="18.5" height="8.5" fill="#070007"/>
<rect x="305" y="209.6" width="18.5" height="8.5" fill="#080008"/>
<rect x="305" y="217.6" width="18.5" height="8.5" fill="#0a000a"/>
<rect x="305" y="225.6" width="18.5" height="8.5" fill="#0b000b"/>
<rect x="305" y="233.6" width="18.5" height="8.5" fill="#0d000d"/>
<rect x="305" y="241.6" width="18.5" height="8.5" fill="#0e000f"/>
<rect x="305" y="249.6" width="18.5" height="8.5" fill="#100011"/>
<rect x="305" y="257.6" width="18.5" height="8.5" fill="#120012"/>
<rect x="305" y="265.6" width="18.5" height="8.5" fill="#140014"/>
<rect x="305" y="273.6" width="18.5" height="8.5" fill="#150016"/>
<rect x="305" y="281.6" width="18.5" height="8.5" fill="#170018"/>
<rect x="305" y="289.6" width="18.5" height="8.5" fill="#19001a"/>
<rect x="305" y="297.6" width="18.5" height="8.5" fill="#1b001c"/>
<rect x="305" y="305.6" width="18.5" height="8.5" fill="#1f0020"/>
<rect x="305" y="313.6" width="18.5" height="8.5" fill="#29002a"/>
<rect x="305" y="321.6" width="18.5" height="8.5" fill="#340035"/>
<rect x="305" y="329.6" width="18.5" height="8.5" fill="#3f0040"/>
<rect x="305" y="337.6" width="18.5" height="8.5" fill="#3f0049"/>
<rect x="305" y="345.6" width="18.5" height="8.5" fill="#390050"/>
<rect x="305" y="353.6" width="18.5" height="8.5" fill="#330056"/>
<rect x="305" y="361.6" width="18.5" height="8.5" fill="#2c005d"/>
<rect x="305" y="369.6" width="18.5" height="8.5" fill="#260064"/>
<rect x="305" y="377.6" width="18.5" height="8.5" fill="#20006a"/>
<rect x="305" y="385.6" width="18.5" height="8.5" fill="#1b006f"/>
<rect x="305" y="393.6" width="18.5" height="8.5" fill="#1a0071"/>
<rect x="305" y="401.6" width="18.5" height="8.5" fill="#180073"/>
<rect x="305" y="409.6" width="18.5" height="8.5" fill="#160075"/>
<rect x="305" y="417.6" width="18.5" height="8.5" fill="#140077"/>
<rect x="305" y="425.6" width="18.5" height="8.5" fill="#120079"/>
<rect x="305" y="433.6" width="18.5" height="8.5" fill="#10007b"/>
<rect x="305" y="441.6" width="18.5" height="8.5" fill="#0e007d"/>
<rect x="305" y="449.6" width="18.5" height="8.5" fill="#0c007f"/>
<rect x="305" y="457.6" width="18.5" height="8.5" fill="#0a0081"/>
<rect x="305" y="465.6" width="18.5" height="8.5" fill="#080084"/>
<rect x="305" y="473.6" width="18.5" height="8.5" fill="#060086"/>
<rect x="305" y="481.6" width="18.5" height="8.5" fill="#060085"/>
<rect x="305" y="489.6" width="18.5" height="8.5" fill="#090082"/>
<rect x="305" y="497.6" width="18.5" height="8.5" fill="#0c007f"/>
<rect x="305" y="505.6" width="18.5" height="8.5" fill="#0f007c"/>
<rect x="305" y="513.6" width="18.5" height="8.5" fill="#120079"/>
<rect x="305" y="521.6" width="18.5" height="8.5" fill="#150076"/>
<rect x="305" y="529.6" width="18.5" height="8.5" fill="#170073"/>
<rect x="305" y="537.6" width="18.5" height="8.5" fill="#1a0070"/>
<rect x="305" y="545.6" width="18.5" height="8.5" fill="#1d006d"/>
<rect x="305" y="553.6" width="18.5" height="8.5" fill="#20006a"/>
<rect x="305" y="561.6" width="18.5" height="8.5" fill="#240066"/>
<rect x="305" y="569.6" width="18.5" height="8.5" fill="#290060"/>
<rect x="305" y="577.6" width="18.5" height="8.5" fill="#2f005a"/>
<rect x="305" y="585.6" width="18.5" height="8.5" fill="#350054"/>
<rect x="305" y="593.6" width="18.5" height="8.5" fill="#3a004e"/>
<rect x="305" y="601.6" width="18.5" height="8.5" fill="#400049"/>
<rect x="305" y="609.6" width="18.5" height="8.5" fill="#400042"/>
<rect x="305" y="617.6" width="18.5" height="8.5" fill="#3a003b"/>
<rect x="305" y="625.6" width="18.5" height="8.5" fill="#330035"/>
<rect x="305" y="633.6" width="18.5" height="8.5" fill="#2d002e"/>
<rect x="305" y="641.6" width="18.5" height="8.5" fill="#270028"/>
<rect x="305" y="649.6" width="18.5" height="8.5" fill="#210022"/>
<rect x="305" y="657.6" width="18.5" height="8.5" fill="#1b001c"/>
<rect x="305" y="665.6" width="18.5" height="8.5" fill="#170018"/>
<rect x="305" y="673.6" width="18.5" height="8.5" fill="#140014"/>
<rect x="305" y="681.6" width="18.5" height="136.5" fill="#020002"/>
<rect x="323" y="169.6" width="18.5" height="8.5" fill="#020002"/>
<rect x="323" y="177.6" width="18.5" height="8.5" fill="#030003"/>
<rect x="323" y="185.6" width="18.5" height="8.5" fill="#040004"/>
<rect x="323" y="193.6" width="18.5" height="8.5" fill="#050005"/>
<rect x="323" y="201.6" width="18.5" height="8.5" fill="#060007"/>
<rect x="323" y="209.6" width="18.5" height="8.5" fill="#080008"/>
<rect x="323" y="217.6" width="18.5" height="8.5" fill="#090009"/>
<rect x="323" y="225.6" width="18.5" height="8.5" fill="#0b000b"/>
<rect x="323" y="233.6" width="18.5" height="8.5" fill="#0c000d"/>
<rect x="323" y="241.6" width="18.5" height="8.5" fill="#0e000e"/>
<rect x="323" y="249.6" width="18.5" height="8.5" fill="#0f0010"/>
<rect x="323" y="257.6" width="18.5" height="8.5" fill="#110011"/>
<rect x="323" y="265.6" width="18.5" height="8.5" fill="#130013"/>
<rect x="323" y="273.6" width="18.5" height="8.5" fill="#140015"/>
<rect x="323" y="281.6" width="18.5" height="8.5" fill="#160017"/>
<rect x="323" y="289.6" width="18.5" height="8.5" fill="#180019"/>
<rect x="323" y="297.6" width="18.5" height="8.5" fill="#1a001a"/>
<rect x="323" y="305.6" width="18.5" height="8.5" fill="#1b001c"/>
<rect x="323" y="313.6" width="18.5" height="8.5" fill="#210022"/>
<rect x="323" y="321.6" width="18.5" height="8.5" fill="#2b002c"/>
<rect x="323" y="329.6" width="18.5" height="8.5" fill="#350037"/>
<rect x="323" y="337.6" width="18.5" height="8.5" fill="#400042"/>
<rect x="323" y="345.6" width="18.5" height="8.5" fill="#3e004a"/>
<rect x="323" y="353.6" width="18.5" height="8.5" fill="#380051"/>
<rect x="323" y="361.6" width="18.5" height="8.5" fill="#310058"/>
<rect x="323" y="369.6" width="18.5" height="8.5" fill="#2a005f"/>
<rect x="323" y="377.6" width="18.5" height="8.5" fill="#240066"/>
<rect x="323" y="385.6" width="18.5" height="8.5" fill="#1f006b"/>
<rect x="323" y="393.6" width="18.5" height="8.5" fill="#1d006d"/>
<rect x="323" y="401.6" width="18.5" height="8.5" fill="#1b006f"/>
<rect x="323" y="409.6" width="18.5" height="8.5" fill="#1a0071"/>
<rect x="323" y="417.6" width="18.5" height="8.5" fill="#180073"/>
<rect x="323" y="425.6" width="18.5" height="8.5" fill="#160075"/>
<rect x="323" y="433.6" width="18.5" height="8.5" fill="#140077"/>
<rect x="323" y="441.6" width="18.5" height="8.5" fill="#120079"/>
<rect x="323" y="449.6" width="18.5" height="8.5" fill="#10007b"/>
<rect x="323" y="457.6" width="18.5" height="16.5" fill="#0e007d"/>
<rect x="323" y="473.6" width="18.5" height="8.5" fill="#10007b"/>
<rect x="323" y="481.6" width="18.5" height="8.5" fill="#130078"/>
<rect x="323" y="489.6" width="18.5" height="8.5" fill="#150076"/>
<rect x="323" y="497.6" width="18.5" height="8.5" fill="#170074"/>
<rect x="323" y="505.6" width="18.5" height="8.5" fill="#190071"/>
<rect x="323" y="513.6" width="18.5" height="8.5" fill="#1c006f"/>
<rect x="323" y="521.6" width="18.5" height="8.5" fill="#1e006c"/>
<rect x="323" y="529.6" width="18.5" height="8.5" fill="#20006a"/>
<rect x="323" y="537.6" width="18.5" height="8.5" fill="#240066"/>
<rect x="323" y="545.6" width="18.5" height="8.5" fill="#290060"/>
<rect x="323" y="553.6" width="18.5" height="8.5" fill="#2e005b"/>
<rect x="323" y="561.6" width="18.5" height="8.5" fill="#330056"/>
<rect x="323" y="569.6" width="18.5" height="8.5" fill="#380050"/>
<rect x="323" y="577.6" width="18.5" height="8.5" fill="#3d004b"/>
<rect x="323" y="585.6" width="18.5" height="8.5" fill="#430046"/>
<rect x="323" y="593.6" width="18.5" height="8.5" fill="#3e0040"/>
<rect x="323" y="601.6" width="18.5" height="8.5" fill="#38003a"/>
<rect x="323" y="609.6" width="18.5" height="8.5" fill="#320034"/>
<rect x="323" y="617.6" width="18.5" height="8.5" fill="#2d002e"/>
<rect x="323" y="625.6" width="18.5" height="8.5" fill="#270029"/>
<rect x="323" y="633.6" width="18.5" height="8.5" fill="#220023"/>
<rect x="323" y="641.6" width="18.5" height="8.5" fill="#1d001e"/>
<rect x="323" y="649.6" width="18.5" height="8.5" fill="#180019"/>
<rect x="323" y="657.6" width="18.5" height="8.5" fill="#150016"/>
<rect x="323" y="665.6" width="18.5" height="8.5" fill="#130013"/>
<rect x="323" y="673.6" width="18.5" height="8.5" fill="#100010"/>
<rect x="323" y="681.6" width="18.5" height="136.5" fill="#020002"/>
<rect x="341" y="169.6" width="18.5" height="8.5" fill="#010002"/>
<rect x="341" y="177.6" width="18.5" height="8.5" fill="#020003"/>
<rect x="341" y="185.6" width="18.5" height="8.5" fill="#040004"/>
<rect x="341" y="193.6" width="18.5" height="8.5" fill="#050005"/>
<rect x="341" y="201.6" width="18.5" height="8.5" fill="#060006"/>
<rect x="341" y="209.6" width="18.5" height="8.5" fill="#070008"/>
<rect x="341" y="217.6" width="18.5" height="8.5" fill="#090009"/>
<rect x="341" y="225.6" width="18.5" height="8.5" fill="#0a000a"/>
<rect x="341" y="233.6" width="18.5" height="8.5" fill="#0b000c"/>
<rect x="341" y="241.6" width="18.5" height="8.5" fill="#0d000d"/>
<rect x="341" y="249.6" width="18.5" height="8.5" fill="#0e000f"/>
<rect x="341" y="257.6" width="18.5" height="8.5" fill="#100010"/>
<rect x="341" y="265.6" width="18.5" height="8.5" fill="#120012"/>
<rect x="341" y="273.6" width="18.5" height="8.5" fill="#130014"/>
<rect x="341" y="281.6" width="18.5" height="8.5" fill="#150015"/>
<rect x="341" y="289.6" width="18.5" height="8.5" fill="#160017"/>
<rect x="341" y="297.6" width="18.5" height="8.5" fill="#180019"/>
<rect x="341" y="305.6" width="18.5" height="8.5" fill="#1a001a"/>
<rect x="341" y="313.6" width="18.5" height="8.5" fill="#1b001c"/>
<rect x="341" y="321.6" width="18.5" height="8.5" fill="#210022"/>
<rect x="341" y="329.6" width="18.5" height="8.5" fill="#2a002c"/>
<rect x="341" y="337.6" width="18.5" height="8.5" fill="#340036"/>
<rect x="341" y="345.6" width="18.5" height="8.5" fill="#3f0041"/>
<rect x="341" y="353.6" width="18.5" height="8.5" fill="#3f0049"/>
<rect x="341" y="361.6" width="18.5" height="8.5" fill="#390050"/>
<rect x="341" y="369.6" width="18.5" height="8.5" fill="#320057"/>
<rect x="341" y="377.6" width="18.5" height="8.5" fill="#2b005e"/>
<rect x="341" y="385.6" width="18.5" height="8.5" fill="#270063"/>
<rect x="341" y="393.6" width="18.5" height="8.5" fill="#250065"/>
<rect x="341" y="401.6" width="18.5" height="8.5" fill="#230067"/>
<rect x="341" y="409.6" width="18.5" height="8.5" fill="#210069"/>
<rect x="341" y="417.6" width="18.5" height="8.5" fill="#1e006c"/>
<rect x="341" y="425.6" width="18.5" height="8.5" fill="#1c006e"/>
<rect x="341" y="433.6" width="18.5" height="8.5" fill="#1a0070"/>
<rect x="341" y="441.6" width="18.5" height="8.5" fill="#180073"/>
<rect x="341" y="449.6" width="18.5" height="16.5" fill="#160075"/>
<rect x="341" y="465.6" width="18.5" height="8.5" fill="#180073"/>
<rect x="341" y="473.6" width="18.5" height="8.5" fill="#190071"/>
<rect x="341" y="481.6" width="18.5" height="8.5" fill="#1b006f"/>
<rect x="341" y="489.6" width="18.5" height="8.5" fill="#1d006d"/>
<rect x="341" y="497.6" width="18.5" height="8.5" fill="#1f006b"/>
<rect x="341" y="505.6" width="18.5" height="8.5" fill="#210069"/>
<rect x="341" y="513.6" width="18.5" height="8.5" fill="#250065"/>
<rect x="341" y="521.6" width="18.5" height="8.5" fill="#290061"/>
<rect x="341" y="529.6" width="18.5" height="8.5" fill="#2d005c"/>
<rect x="341" y="537.6" width="18.5" height="8.5" fill="#310058"/>
<rect x="341" y="545.6" width="18.5" height="8.5" fill="#350054"/>
<rect x="341" y="553.6" width="18.5" height="8.5" fill="#390050"/>
<rect x="341" y="561.6" width="18.5" height="8.5" fill="#3d004c"/>
<rect x="341" y="569.6" width="18.5" height="8.5" fill="#410047"/>
<rect x="341" y="577.6" width="18.5" height="8.5" fill="#410043"/>
<rect x="341" y="585.6" width="18.5" height="8.5" fill="#3b003d"/>
<rect x="341" y="593.6" width="18.5" height="8.5" fill="#360038"/>
<rect x="341" y="601.6" width="18.5" height="8.5" fill="#310033"/>
<rect x="341" y="609.6" width="18.5" height="8.5" fill="#2c002d"/>
<rect x="341" y="617.6" width="18.5" height="8.5" fill="#270028"/>
<rect x="341" y="625.6" width="18.5" height="8.5" fill="#220023"/>
<rect x="341" y="633.6" width="18.5" height="8.5" fill="#1e001f"/>
<rect x="341" y="641.6" width="18.5" height="8.5" fill="#1a001a"/>
<rect x="341" y="649.6" width="18.5" height="8.5" fill="#160017"/>
<rect x="341" y="657.6" width="18.5" height="8.5" fill="#130013"/>
<rect x="341" y="665.6" width="18.5" height="8.5" fill="#0f0010"/>
<rect x="341" y="673.6" width="18.5" height="8.5" fill="#0c000c"/>
<rect x="341" y="681.6" width="18.5" height="136.5" fill="#020002"/>
<rect x="359" y="169.6" width="18.5" height="16.5" fill="#010001"/>
<rect x="359" y="185.6" width="18.5" height="24.5" fill="#020002"/>
<rect x="359" y="209.6" width="18.5" height="24.5" fill="#030003"/>
<rect x="359" y="233.6" width="18.5" height="8.5" fill="#040005"/>
<rect x="359" y="241.6" width="18.5" height="8.5" fill="#070007"/>
<rect x="359" y="249.6" width="18.5" height="8.5" fill="#090009"/>
<rect x="359" y="257.6" width="18.5" height="8.5" fill="#0b000c"/>
<rect x="359" y="265.6" width="18.5" height="8.5" fill="#0e000e"/>
<rect x="359" y="273.6" width="18.5" height="8.5" fill="#110011"/>
<rect x="359" y="281.6" width="18.5" height="8.5" fill="#140014"/>
<rect x="359" y="289.6" width="18.5" height="8.5" fill="#160017"/>
<rect x="359" y="297.6" width="18.5" height="8.5" fill="#19001a"/>
<rect x="359" y="305.6" width="18.5" height="8.5" fill="#1c001d"/>
<rect x="359" y="313.6" width="18.5" height="8.5" fill="#220023"/>
<rect x="359" y="321.6" width="18.5" height="8.5" fill="#270029"/>
<rect x="359" y="329.6" width="18.5" height="8.5" fill="#2d002f"/>
<rect x="359" y="337.6" width="18.5" height="8.5" fill="#330035"/>
<rect x="359" y="345.6" width="18.5" height="8.5" fill="#3a003b"/>
<rect x="359" y="353.6" width="18.5" height="8.5" fill="#400042"/>
<rect x="359" y="361.6" width="18.5" height="8.5" fill="#400048"/>
<rect x="359" y="369.6" width="18.5" height="8.5" fill="#3b004d"/>
<rect x="359" y="377.6" width="18.5" height="8.5" fill="#360053"/>
<rect x="359" y="385.6" width="18.5" height="8.5" fill="#320057"/>
<rect x="359" y="393.6" width="18.5" height="8.5" fill="#2f005a"/>
<rect x="359" y="401.6" width="18.5" height="8.5" fill="#2c005d"/>
<rect x="359" y="409.6" width="18.5" height="8.5" fill="#2a0060"/>
<rect x="359" y="417.6" width="18.5" height="8.5" fill="#270063"/>
<rect x="359" y="425.6" width="18.5" height="8.5" fill="#240065"/>
<rect x="359" y="433.6" width="18.5" height="8.5" fill="#220068"/>
<rect x="359" y="441.6" width="18.5" height="8.5" fill="#1f006b"/>
<rect x="359" y="449.6" width="18.5" height="8.5" fill="#1c006e"/>
<rect x="359" y="457.6" width="18.5" height="8.5" fill="#1c006f"/>
<rect x="359" y="465.6" width="18.5" height="8.5" fill="#1d006d"/>
<rect x="359" y="473.6" width="18.5" height="8.5" fill="#1f006c"/>
<rect x="359" y="481.6" width="18.5" height="8.5" fill="#20006a"/>
<rect x="359" y="489.6" width="18.5" height="8.5" fill="#220068"/>
<rect x="359" y="497.6" width="18.5" height="8.5" fill="#260064"/>
<rect x="359" y="505.6" width="18.5" height="8.5" fill="#290060"/>
<rect x="359" y="513.6" width="18.5" height="8.5" fill="#2d005d"/>
<rect x="359" y="521.6" width="18.5" height="8.5" fill="#300059"/>
<rect x="359" y="529.6" width="18.5" height="8.5" fill="#340055"/>
<rect x="359" y="537.6" width="18.5" height="8.5" fill="#380051"/>
<rect x="359" y="545.6" width="18.5" height="8.5" fill="#3b004d"/>
<rect x="359" y="553.6" width="18.5" height="8.5" fill="#3f0049"/>
<rect x="359" y="561.6" width="18.5" height="8.5" fill="#430045"/>
<rect x="359" y="569.6" width="18.5" height="8.5" fill="#3e0040"/>
<rect x="359" y="577.6" width="18.5" height="8.5" fill="#38003a"/>
<rect x="359" y="585.6" width="18.5" height="8.5" fill="#320034"/>
<rect x="359" y="593.6" width="18.5" height="8.5" fill="#2d002e"/>
<rect x="359" y="601.6" width="18.5" height="8.5" fill="#270029"/>
<rect x="359" y="609.6" width="18.5" height="8.5" fill="#220023"/>
<rect x="359" y="617.6" width="18.5" height="8.5" fill="#1d001e"/>
<rect x="359" y="625.6" width="18.5" height="8.5" fill="#190019"/>
<rect x="359" y="633.6" width="18.5" height="8.5" fill="#160017"/>
<rect x="359" y="641.6" width="18.5" height="8.5" fill="#140014"/>
<rect x="359" y="649.6" width="18.5" height="8.5" fill="#110012"/>
<rect x="359" y="657.6" width="18.5" height="8.5" fill="#0f000f"/>
<rect x="359" y="665.6" width="18.5" height="8.5" fill="#0d000d"/>
<rect x="359" y="673.6" width="18.5" height="8.5" fill="#0b000b"/>
<rect x="359" y="681.6" width="18.5" height="8.5" fill="#09000a"/>
<rect x="359" y="689.6" width="18.5" height="128.5" fill="#020002"/>
<rect x="377" y="169.6" width="18.5" height="64.5" fill="#010001"/>
<rect x="377" y="233.6" width="18.5" height="8.5" fill="#020002"/>
<rect x="377" y="241.6" width="18.5" height="8.5" fill="#040004"/>
<rect x="377" y="249.6" width="18.5" height="8.5" fill="#060006"/>
<rect x="377" y="257.6" width="18.5" height="8.5" fill="#080009"/>
<rect x="377" y="265.6" width="18.5" height="8.5" fill="#0b000b"/>
<rect x="377" y="273.6" width="18.5" height="8.5" fill="#0d000e"/>
<rect x="377" y="281.6" width="18.5" height="8.5" fill="#100010"/>
<rect x="377" y="289.6" width="18.5" height="8.5" fill="#120013"/>
<rect x="377" y="297.6" width="18.5" height="8.5" fill="#150016"/>
<rect x="377" y="305.6" width="18.5" height="8.5" fill="#180019"/>
<rect x="377" y="313.6" width="18.5" height="8.5" fill="#1b001c"/>
<rect x="377" y="321.6" width="18.5" height="8.5" fill="#1f0020"/>
<rect x="377" y="329.6" width="18.5" height="8.5" fill="#240025"/>
<rect x="377" y="337.6" width="18.5" height="8.5" fill="#2a002b"/>
<rect x="377" y="345.6" width="18.5" height="8.5" fill="#2f0031"/>
<rect x="377" y="353.6" width="18.5" height="8.5" fill="#350037"/>
<rect x="377" y="361.6" width="18.5" height="8.5" fill="#3b003d"/>
<rect x="377" y="369.6" width="18.5" height="8.5" fill="#410043"/>
<rect x="377" y="377.6" width="18.5" height="8.5" fill="#3f0049"/>
<rect x="377" y="385.6" width="18.5" height="8.5" fill="#3b004e"/>
<rect x="377" y="393.6" width="18.5" height="8.5" fill="#380050"/>
<rect x="377" y="401.6" width="18.5" height="8.5" fill="#360052"/>
<rect x="377" y="409.6" width="18.5" height="8.5" fill="#340055"/>
<rect x="377" y="417.6" width="18.5" height="8.5" fill="#320057"/>
<rect x="377" y="425.6" width="18.5" height="8.5" fill="#300059"/>
<rect x="377" y="433.6" width="18.5" height="8.5" fill="#2e005c"/>
<rect x="377" y="441.6" width="18.5" height="8.5" fill="#2b005e"/>
<rect x="377" y="449.6" width="18.5" height="8.5" fill="#290060"/>
<rect x="377" y="457.6" width="18.5" height="16.5" fill="#270063"/>
<rect x="377" y="473.6" width="18.5" height="8.5" fill="#2a0060"/>
<rect x="377" y="481.6" width="18.5" height="8.5" fill="#2c005d"/>
<rect x="377" y="489.6" width="18.5" height="8.5" fill="#2f005a"/>
<rect x="377" y="497.6" width="18.5" height="8.5" fill="#310058"/>
<rect x="377" y="505.6" width="18.5" height="8.5" fill="#340055"/>
<rect x="377" y="513.6" width="18.5" height="8.5" fill="#360052"/>
<rect x="377" y="521.6" width="18.5" height="8.5" fill="#390050"/>
<rect x="377" y="529.6" width="18.5" height="8.5" fill="#3c004d"/>
<rect x="377" y="537.6" width="18.5" height="8.5" fill="#3e004a"/>
<rect x="377" y="545.6" width="18.5" height="8.5" fill="#410047"/>
<rect x="377" y="553.6" width="18.5" height="8.5" fill="#430045"/>
<rect x="377" y="561.6" width="18.5" height="8.5" fill="#400042"/>
<rect x="377" y="569.6" width="18.5" height="8.5" fill="#3d003e"/>
<rect x="377" y="577.6" width="18.5" height="8.5" fill="#3a003b"/>
<rect x="377" y="585.6" width="18.5" height="8.5" fill="#370038"/>
<rect x="377" y="593.6" width="18.5" height="8.5" fill="#340035"/>
<rect x="377" y="601.6" width="18.5" height="8.5" fill="#300031"/>
<rect x="377" y="609.6" width="18.5" height="8.5" fill="#2b002d"/>
<rect x="377" y="617.6" width="18.5" height="8.5" fill="#270028"/>
<rect x="377" y="625.6" width="18.5" height="8.5" fill="#230024"/>
<rect x="377" y="633.6" width="18.5" height="8.5" fill="#1f0020"/>
<rect x="377" y="641.6" width="18.5" height="8.5" fill="#1b001b"/>
<rect x="377" y="649.6" width="18.5" height="8.5" fill="#170017"/>
<rect x="377" y="657.6" width="18.5" height="8.5" fill="#130013"/>
<rect x="377" y="665.6" width="18.5" height="8.5" fill="#0f0010"/>
<rect x="377" y="673.6" width="18.5" height="8.5" fill="#0c000c"/>
<rect x="377" y="681.6" width="18.5" height="8.5" fill="#090009"/>
<rect x="377" y="689.6" width="18.5" height="128.5" fill="#020002"/>
<rect x="395" y="169.6" width="18.5" height="72.5" fill="#010001"/>
<rect x="395" y="241.6" width="18.5" height="8.5" fill="#020002"/>
<rect x="395" y="249.6" width="18.5" height="8.5" fill="#040004"/>
<rect x="395" y="257.6" width="18.5" height="8.5" fill="#060006"/>
<rect x="395" y="265.6" width="18.5" height="8.5" fill="#080008"/>
<rect x="395" y="273.6" width="18.5" height="8.5" fill="#0a000a"/>
<rect x="395" y="281.6" width="18.5" height="8.5" fill="#0c000d"/>
<rect x="395" y="289.6" width="18.5" height="8.5" fill="#0e000f"/>
<rect x="395" y="297.6" width="18.5" height="8.5" fill="#110011"/>
<rect x="395" y="305.6" width="18.5" height="8.5" fill="#130014"/>
<rect x="395" y="313.6" width="18.5" height="8.5" fill="#160016"/>
<rect x="395" y="321.6" width="18.5" height="8.5" fill="#180019"/>
<rect x="395" y="329.6" width="18.5" height="8.5" fill="#1b001c"/>
<rect x="395" y="337.6" width="18.5" height="8.5" fill="#1f0020"/>
<rect x="395" y="345.6" width="18.5" height="8.5" fill="#240025"/>
<rect x="395" y="353.6" width="18.5" height="8.5" fill="#29002a"/>
<rect x="395" y="361.6" width="18.5" height="8.5" fill="#2e002f"/>
<rect x="395" y="369.6" width="18.5" height="8.5" fill="#330035"/>
<rect x="395" y="377.6" width="18.5" height="8.5" fill="#39003a"/>
<rect x="395" y="385.6" width="18.5" height="8.5" fill="#3d003f"/>
<rect x="395" y="393.6" width="18.5" height="8.5" fill="#3f0041"/>
<rect x="395" y="401.6" width="18.5" height="8.5" fill="#420044"/>
<rect x="395" y="409.6" width="18.5" height="8.5" fill="#420046"/>
<rect x="395" y="417.6" width="18.5" height="8.5" fill="#3f0049"/>
<rect x="395" y="425.6" width="18.5" height="8.5" fill="#3d004c"/>
<rect x="395" y="433.6" width="18.5" height="8.5" fill="#3a004e"/>
<rect x="395" y="441.6" width="18.5" height="8.5" fill="#380051"/>
<rect x="395" y="449.6" width="18.5" height="8.5" fill="#350053"/>
<rect x="395" y="457.6" width="18.5" height="8.5" fill="#330056"/>
<rect x="395" y="465.6" width="18.5" height="8.5" fill="#300059"/>
<rect x="395" y="473.6" width="18.5" height="8.5" fill="#2e005b"/>
<rect x="395" y="481.6" width="18.5" height="8.5" fill="#300059"/>
<rect x="395" y="489.6" width="18.5" height="8.5" fill="#330056"/>
<rect x="395" y="497.6" width="18.5" height="8.5" fill="#360053"/>
<rect x="395" y="505.6" width="18.5" height="8.5" fill="#390050"/>
<rect x="395" y="513.6" width="18.5" height="8.5" fill="#3c004d"/>
<rect x="395" y="521.6" width="18.5" height="8.5" fill="#3f004a"/>
<rect x="395" y="529.6" width="18.5" height="8.5" fill="#420047"/>
<rect x="395" y="537.6" width="18.5" height="8.5" fill="#410043"/>
<rect x="395" y="545.6" width="18.5" height="8.5" fill="#3d003f"/>
<rect x="395" y="553.6" width="18.5" height="8.5" fill="#3a003b"/>
<rect x="395" y="561.6" width="18.5" height="8.5" fill="#360038"/>
<rect x="395" y="569.6" width="18.5" height="8.5" fill="#330034"/>
<rect x="395" y="577.6" width="18.5" height="8.5" fill="#2f0030"/>
<rect x="395" y="585.6" width="18.5" height="8.5" fill="#2c002d"/>
<rect x="395" y="593.6" width="18.5" height="8.5" fill="#280029"/>
<rect x="395" y="601.6" width="18.5" height="8.5" fill="#250026"/>
<rect x="395" y="609.6" width="18.5" height="8.5" fill="#220023"/>
<rect x="395" y="617.6" width="18.5" height="8.5" fill="#1f0020"/>
<rect x="395" y="625.6" width="18.5" height="8.5" fill="#1c001d"/>
<rect x="395" y="633.6" width="18.5" height="8.5" fill="#19001a"/>
<rect x="395" y="641.6" width="18.5" height="8.5" fill="#160017"/>
<rect x="395" y="649.6" width="18.5" height="8.5" fill="#130014"/>
<rect x="395" y="657.6" width="18.5" height="8.5" fill="#110011"/>
<rect x="395" y="665.6" width="18.5" height="8.5" fill="#0e000e"/>
<rect x="395" y="673.6" width="18.5" height="8.5" fill="#0c000c"/>
<rect x="395" y="681.6" width="18.5" height="8.5" fill="#090009"/>
<rect x="395" y="689.6" width="18.5" height="8.5" fill="#070007"/>
<rect x="395" y="697.6" width="18.5" height="120.5" fill="#020002"/>
<rect x="413" y="169.6" width="18.5" height="80.5" fill="#010001"/>
<rect x="413" y="249.6" width="18.5" height="8.5" fill="#020002"/>
<rect x="413" y="257.6" width="18.5" height="8.5" fill="#040004"/>
<rect x="413" y="265.6" width="18.5" height="8.5" fill="#060006"/>
<rect x="413" y="273.6" width="18.5" height="8.5" fill="#080008"/>
<rect x="413" y="281.6" width="18.5" height="8.5" fill="#0a000a"/>
<rect x="413" y="289.6" width="18.5" height="8.5" fill="#0c000c"/>
<rect x="413" y="297.6" width="18.5" height="8.5" fill="#0e000e"/>
<rect x="413" y="305.6" width="18.5" height="8.5" fill="#100011"/>
<rect x="413" y="313.6" width="18.5" height="8.5" fill="#120013"/>
<rect x="413" y="321.6" width="18.5" height="8.5" fill="#150015"/>
<rect x="413" y="329.6" width="18.5" height="8.5" fill="#170018"/>
<rect x="413" y="337.6" width="18.5" height="8.5" fill="#1a001b"/>
<rect x="413" y="345.6" width="18.5" height="8.5" fill="#1c001d"/>
<rect x="413" y="353.6" width="18.5" height="8.5" fill="#200021"/>
<rect x="413" y="361.6" width="18.5" height="8.5" fill="#240025"/>
<rect x="413" y="369.6" width="18.5" height="8.5" fill="#280029"/>
<rect x="413" y="377.6" width="18.5" height="8.5" fill="#2c002e"/>
<rect x="413" y="385.6" width="18.5" height="8.5" fill="#300032"/>
<rect x="413" y="393.6" width="18.5" height="8.5" fill="#330035"/>
<rect x="413" y="401.6" width="18.5" height="8.5" fill="#370038"/>
<rect x="413" y="409.6" width="18.5" height="8.5" fill="#3a003c"/>
<rect x="413" y="417.6" width="18.5" height="8.5" fill="#3e0040"/>
<rect x="413" y="425.6" width="18.5" height="8.5" fill="#410043"/>
<rect x="413" y="433.6" width="18.5" height="8.5" fill="#420046"/>
<rect x="413" y="441.6" width="18.5" height="8.5" fill="#400048"/>
<rect x="413" y="449.6" width="18.5" height="8.5" fill="#3e004a"/>
<rect x="413" y="457.6" width="18.5" height="8.5" fill="#3c004c"/>
<rect x="413" y="465.6" width="18.5" height="8.5" fill="#3b004e"/>
<rect x="413" y="473.6" width="18.5" height="16.5" fill="#390050"/>
<rect x="413" y="489.6" width="18.5" height="8.5" fill="#3b004e"/>
<rect x="413" y="497.6" width="18.5" height="8.5" fill="#3d004c"/>
<rect x="413" y="505.6" width="18.5" height="8.5" fill="#3f004a"/>
<rect x="413" y="513.6" width="18.5" height="8.5" fill="#410047"/>
<rect x="413" y="521.6" width="18.5" height="8.5" fill="#430045"/>
<rect x="413" y="529.6" width="18.5" height="8.5" fill="#3f0041"/>
<rect x="413" y="537.6" width="18.5" height="8.5" fill="#3b003d"/>
<rect x="413" y="545.6" width="18.5" height="8.5" fill="#370039"/>
<rect x="413" y="553.6" width="18.5" height="8.5" fill="#330034"/>
<rect x="413" y="561.6" width="18.5" height="8.5" fill="#2f0030"/>
<rect x="413" y="569.6" width="18.5" height="8.5" fill="#2b002c"/>
<rect x="413" y="577.6" width="18.5" height="8.5" fill="#270028"/>
<rect x="413" y="585.6" width="18.5" height="8.5" fill="#230024"/>
<rect x="413" y="593.6" width="18.5" height="8.5" fill="#1f0020"/>
<rect x="413" y="601.6" width="18.5" height="8.5" fill="#1c001d"/>
<rect x="413" y="609.6" width="18.5" height="8.5" fill="#1a001a"/>
<rect x="413" y="617.6" width="18.5" height="8.5" fill="#170018"/>
<rect x="413" y="625.6" width="18.5" height="8.5" fill="#150016"/>
<rect x="413" y="633.6" width="18.5" height="8.5" fill="#130014"/>
<rect x="413" y="641.6" width="18.5" height="8.5" fill="#110011"/>
<rect x="413" y="649.6" width="18.5" height="8.5" fill="#0f000f"/>
<rect x="413" y="657.6" width="18.5" height="8.5" fill="#0d000d"/>
<rect x="413" y="665.6" width="18.5" height="8.5" fill="#0b000b"/>
<rect x="413" y="673.6" width="18.5" height="8.5" fill="#090009"/>
<rect x="413" y="681.6" width="18.5" height="8.5" fill="#070007"/>
<rect x="413" y="689.6" width="18.5" height="8.5" fill="#050006"/>
<rect x="413" y="697.6" width="18.5" height="120.5" fill="#020002"/>
<rect x="431" y="169.6" width="18.5" height="88.5" fill="#010001"/>
<rect x="431" y="257.6" width="18.5" height="8.5" fill="#020002"/>
<rect x="431" y="265.6" width="18.5" height="8.5" fill="#040004"/>
<rect x="431" y="273.6" width="18.5" height="8.5" fill="#050006"/>
<rect x="431" y="281.6" width="18.5" height="8.5" fill="#070007"/>
<rect x="431" y="289.6" width="18.5" height="8.5" fill="#090009"/>
<rect x="431" y="297.6" width="18.5" height="8.5" fill="#0b000c"/>
<rect x="431" y="305.6" width="18.5" height="8.5" fill="#0d000e"/>
<rect x="431" y="313.6" width="18.5" height="8.5" fill="#0f0010"/>
<rect x="431" y="321.6" width="18.5" height="8.5" fill="#120012"/>
<rect x="431" y="329.6" width="18.5" height="8.5" fill="#140015"/>
<rect x="431" y="337.6" width="18.5" height="8.5" fill="#160017"/>
<rect x="431" y="345.6" width="18.5" height="8.5" fill="#190019"/>
<rect x="431" y="353.6" width="18.5" height="8.5" fill="#1b001c"/>
<rect x="431" y="361.6" width="18.5" height="8.5" fill="#1e001f"/>
<rect x="431" y="369.6" width="18.5" height="8.5" fill="#200021"/>
<rect x="431" y="377.6" width="18.5" height="8.5" fill="#230024"/>
<rect x="431" y="385.6" width="18.5" height="8.5" fill="#260027"/>
<rect x="431" y="393.6" width="18.5" height="8.5" fill="#29002a"/>
<rect x="431" y="401.6" width="18.5" height="8.5" fill="#2b002d"/>
<rect x="431" y="409.6" width="18.5" height="8.5" fill="#2e0030"/>
<rect x="431" y="417.6" width="18.5" height="8.5" fill="#310032"/>
<rect x="431" y="425.6" width="18.5" height="8.5" fill="#340035"/>
<rect x="431" y="433.6" width="18.5" height="8.5" fill="#370038"/>
<rect x="431" y="441.6" width="18.5" height="8.5" fill="#3a003b"/>
<rect x="431" y="449.6" width="18.5" height="8.5" fill="#3c003e"/>
<rect x="431" y="457.6" width="18.5" height="8.5" fill="#3f0041"/>
<rect x="431" y="465.6" width="18.5" height="8.5" fill="#420044"/>
<rect x="431" y="473.6" width="18.5" height="8.5" fill="#410047"/>
<rect x="431" y="481.6" width="18.5" height="8.5" fill="#3f0049"/>
<rect x="431" y="489.6" width="18.5" height="8.5" fill="#400048"/>
<rect x="431" y="497.6" width="18.5" height="8.5" fill="#430045"/>
<rect x="431" y="505.6" width="18.5" height="8.5" fill="#3f0041"/>
<rect x="431" y="513.6" width="18.5" height="8.5" fill="#3b003d"/>
<rect x="431" y="521.6" width="18.5" height="8.5" fill="#370039"/>
<rect x="431" y="529.6" width="18.5" height="8.5" fill="#340035"/>
<rect x="431" y="537.6" width="18.5" height="8.5" fill="#300031"/>
<rect x="431" y="545.6" width="18.5" height="8.5" fill="#2c002e"/>
<rect x="431" y="553.6" width="18.5" height="8.5" fill="#29002a"/>
<rect x="431" y="561.6" width="18.5" height="8.5" fill="#250027"/>
<rect x="431" y="569.6" width="18.5" height="8.5" fill="#220023"/>
<rect x="431" y="577.6" width="18.5" height="8.5" fill="#1f0020"/>
<rect x="431" y="585.6" width="18.5" height="8.5" fill="#1b001c"/>
<rect x="431" y="593.6" width="18.5" height="8.5" fill="#180019"/>
<rect x="431" y="601.6" width="18.5" height="8.5" fill="#160016"/>
<rect x="431" y="609.6" width="18.5" height="8.5" fill="#140015"/>
<rect x="431" y="617.6" width="18.5" height="8.5" fill="#130013"/>
<rect x="431" y="625.6" width="18.5" height="8.5" fill="#110012"/>
<rect x="431" y="633.6" width="18.5" height="8.5" fill="#0f0010"/>
<rect x="431" y="641.6" width="18.5" height="8.5" fill="#0e000e"/>
<rect x="431" y="649.6" width="18.5" height="8.5" fill="#0c000d"/>
<rect x="431" y="657.6" width="18.5" height="8.5" fill="#0b000b"/>
<rect x="431" y="665.6" width="18.5" height="8.5" fill="#0a000a"/>
<rect x="431" y="673.6" width="18.5" height="8.5" fill="#080009"/>
<rect x="431" y="681.6" width="18.5" height="8.5" fill="#070007"/>
<rect x="431" y="689.6" width="18.5" height="8.5" fill="#060006"/>
<rect x="431" y="697.6" width="18.5" height="120.5" fill="#020002"/>
<rect x="449" y="169.6" width="18.5" height="96.5" fill="#010001"/>
<rect x="449" y="265.6" width="18.5" height="8.5" fill="#020002"/>
<rect x="449" y="273.6" width="18.5" height="8.5" fill="#040004"/>
<rect x="449" y="281.6" width="18.5" height="8.5" fill="#050005"/>
<rect x="449" y="289.6" width="18.5" height="8.5" fill="#070007"/>
<rect x="449" y="297.6" width="18.5" height="8.5" fill="#090009"/>
<rect x="449" y="305.6" width="18.5" height="8.5" fill="#0b000b"/>
<rect x="449" y="313.6" width="18.5" height="8.5" fill="#0d000d"/>
<rect x="449" y="321.6" width="18.5" height="8.5" fill="#0f000f"/>
<rect x="449" y="329.6" width="18.5" height="8.5" fill="#110012"/>
<rect x="449" y="337.6" width="18.5" height="8.5" fill="#130014"/>
<rect x="449" y="345.6" width="18.5" height="8.5" fill="#150016"/>
<rect x="449" y="353.6" width="18.5" height="8.5" fill="#180018"/>
<rect x="449" y="361.6" width="18.5" height="8.5" fill="#1a001b"/>
<rect x="449" y="369.6" width="18.5" height="8.5" fill="#1c001d"/>
<rect x="449" y="377.6" width="18.5" height="8.5" fill="#1f0020"/>
<rect x="449" y="385.6" width="18.5" height="8.5" fill="#220023"/>
<rect x="449" y="393.6" width="18.5" height="8.5" fill="#240025"/>
<rect x="449" y="401.6" width="18.5" height="8.5" fill="#260027"/>
<rect x="449" y="409.6" width="18.5" height="8.5" fill="#28002a"/>
<rect x="449" y="417.6" width="18.5" height="8.5" fill="#2b002c"/>
<rect x="449" y="425.6" width="18.5" height="8.5" fill="#2d002e"/>
<rect x="449" y="433.6" width="18.5" height="8.5" fill="#2f0031"/>
<rect x="449" y="441.6" width="18.5" height="8.5" fill="#320033"/>
<rect x="449" y="449.6" width="18.5" height="8.5" fill="#340036"/>
<rect x="449" y="457.6" width="18.5" height="8.5" fill="#370038"/>
<rect x="449" y="465.6" width="18.5" height="8.5" fill="#39003b"/>
<rect x="449" y="473.6" width="18.5" height="8.5" fill="#3c003e"/>
<rect x="449" y="481.6" width="18.5" height="8.5" fill="#3e0040"/>
<rect x="449" y="489.6" width="18.5" height="8.5" fill="#410043"/>
<rect x="449" y="497.6" width="18.5" height="8.5" fill="#3f0041"/>
<rect x="449" y="505.6" width="18.5" height="8.5" fill="#3c003e"/>
<rect x="449" y="513.6" width="18.5" height="8.5" fill="#39003b"/>
<rect x="449" y="521.6" width="18.5" height="8.5" fill="#360038"/>
<rect x="449" y="529.6" width="18.5" height="8.5" fill="#330035"/>
<rect x="449" y="537.6" width="18.5" height="8.5" fill="#300032"/>
<rect x="449" y="545.6" width="18.5" height="8.5" fill="#2e002f"/>
<rect x="449" y="553.6" width="18.5" height="8.5" fill="#2b002c"/>
<rect x="449" y="561.6" width="18.5" height="8.5" fill="#280029"/>
<rect x="449" y="569.6" width="18.5" height="8.5" fill="#250027"/>
<rect x="449" y="577.6" width="18.5" height="8.5" fill="#230024"/>
<rect x="449" y="585.6" width="18.5" height="8.5" fill="#200021"/>
<rect x="449" y="593.6" width="18.5" height="8.5" fill="#1e001e"/>
<rect x="449" y="601.6" width="18.5" height="8.5" fill="#1c001c"/>
<rect x="449" y="609.6" width="18.5" height="8.5" fill="#1a001b"/>
<rect x="449" y="617.6" width="18.5" height="8.5" fill="#19001a"/>
<rect x="449" y="625.6" width="18.5" height="8.5" fill="#180019"/>
<rect x="449" y="633.6" width="18.5" height="8.5" fill="#170018"/>
<rect x="449" y="641.6" width="18.5" height="8.5" fill="#160016"/>
<rect x="449" y="649.6" width="18.5" height="64.5" fill="#150016"/>
<rect x="449" y="713.6" width="18.5" height="104.5" fill="#020002"/>
<rect x="467" y="169.6" width="18.5" height="96.5" fill="#010001"/>
<rect x="467" y="265.6" width="18.5" height="8.5" fill="#020002"/>
<rect x="467" y="273.6" width="18.5" height="8.5" fill="#030003"/>
<rect x="467" y="281.6" width="18.5" height="8.5" fill="#030004"/>
<rect x="467" y="289.6" width="18.5" height="8.5" fill="#040004"/>
<rect x="467" y="297.6" width="18.5" height="8.5" fill="#050005"/>
<rect x="467" y="305.6" width="18.5" height="8.5" fill="#060006"/>
<rect x="467" y="313.6" width="18.5" height="8.5" fill="#070007"/>
<rect x="467" y="321.6" width="18.5" height="8.5" fill="#080008"/>
<rect x="467" y="329.6" width="18.5" height="8.5" fill="#090009"/>
<rect x="467" y="337.6" width="18.5" height="8.5" fill="#0a000a"/>
<rect x="467" y="345.6" width="18.5" height="8.5" fill="#0d000d"/>
<rect x="467" y="353.6" width="18.5" height="8.5" fill="#0f000f"/>
<rect x="467" y="361.6" width="18.5" height="8.5" fill="#120012"/>
<rect x="467" y="369.6" width="18.5" height="8.5" fill="#140015"/>
<rect x="467" y="377.6" width="18.5" height="8.5" fill="#170018"/>
<rect x="467" y="385.6" width="18.5" height="8.5" fill="#19001a"/>
<rect x="467" y="393.6" width="18.5" height="8.5" fill="#1c001d"/>
<rect x="467" y="401.6" width="18.5" height="8.5" fill="#1e001f"/>
<rect x="467" y="409.6" width="18.5" height="8.5" fill="#210022"/>
<rect x="467" y="417.6" width="18.5" height="8.5" fill="#240025"/>
<rect x="467" y="425.6" width="18.5" height="8.5" fill="#260028"/>
<rect x="467" y="433.6" width="18.5" height="8.5" fill="#29002a"/>
<rect x="467" y="441.6" width="18.5" height="8.5" fill="#2c002d"/>
<rect x="467" y="449.6" width="18.5" height="8.5" fill="#2f0030"/>
<rect x="467" y="457.6" width="18.5" height="8.5" fill="#310033"/>
<rect x="467" y="465.6" width="18.5" height="8.5" fill="#340036"/>
<rect x="467" y="473.6" width="18.5" height="8.5" fill="#370039"/>
<rect x="467" y="481.6" width="18.5" height="8.5" fill="#3a003c"/>
<rect x="467" y="489.6" width="18.5" height="8.5" fill="#3d003f"/>
<rect x="467" y="497.6" width="18.5" height="8.5" fill="#3c003e"/>
<rect x="467" y="505.6" width="18.5" height="8.5" fill="#3b003c"/>
<rect x="467" y="513.6" width="18.5" height="8.5" fill="#39003b"/>
<rect x="467" y="521.6" width="18.5" height="8.5" fill="#370039"/>
<rect x="467" y="529.6" width="18.5" height="8.5" fill="#360038"/>
<rect x="467" y="537.6" width="18.5" height="8.5" fill="#340036"/>
<rect x="467" y="545.6" width="18.5" height="8.5" fill="#330034"/>
<rect x="467" y="553.6" width="18.5" height="8.5" fill="#310033"/>
<rect x="467" y="561.6" width="18.5" height="8.5" fill="#300031"/>
<rect x="467" y="569.6" width="18.5" height="8.5" fill="#2e0030"/>
<rect x="467" y="577.6" width="18.5" height="8.5" fill="#2d002e"/>
<rect x="467" y="585.6" width="18.5" height="8.5" fill="#2b002d"/>
<rect x="467" y="593.6" width="18.5" height="8.5" fill="#2a002b"/>
<rect x="467" y="601.6" width="18.5" height="8.5" fill="#29002a"/>
<rect x="467" y="609.6" width="18.5" height="8.5" fill="#280029"/>
<rect x="467" y="617.6" width="18.5" height="8.5" fill="#270028"/>
<rect x="467" y="625.6" width="18.5" height="8.5" fill="#260027"/>
<rect x="467" y="633.6" width="18.5" height="8.5" fill="#250026"/>
<rect x="467" y="641.6" width="18.5" height="88.5" fill="#240025"/>
<rect x="467" y="729.6" width="18.5" height="88.5" fill="#09000a"/>
<rect x="485" y="169.6" width="18.5" height="24.5" fill="#010001"/>
<rect x="485" y="193.6" width="18.5" height="40.5" fill="#020002"/>
<rect x="485" y="233.6" width="18.5" height="8.5" fill="#030003"/>
<rect x="485" y="241.6" width="18.5" height="8.5" fill="#040004"/>
<rect x="485" y="249.6" width="18.5" height="8.5" fill="#050005"/>
<rect x="485" y="257.6" width="18.5" height="8.5" fill="#060006"/>
<rect x="485" y="265.6" width="18.5" height="8.5" fill="#070007"/>
<rect x="485" y="273.6" width="18.5" height="8.5" fill="#080008"/>
<rect x="485" y="281.6" width="18.5" height="8.5" fill="#09000a"/>
<rect x="485" y="289.6" width="18.5" height="8.5" fill="#0a000b"/>
<rect x="485" y="297.6" width="18.5" height="8.5" fill="#0c000c"/>
<rect x="485" y="305.6" width="18.5" height="8.5" fill="#0d000d"/>
<rect x="485" y="313.6" width="18.5" height="8.5" fill="#0e000f"/>
<rect x="485" y="321.6" width="18.5" height="8.5" fill="#100010"/>
<rect x="485" y="329.6" width="18.5" height="8.5" fill="#110011"/>
<rect x="485" y="337.6" width="18.5" height="8.5" fill="#120013"/>
<rect x="485" y="345.6" width="18.5" height="8.5" fill="#140014"/>
<rect x="485" y="353.6" width="18.5" height="8.5" fill="#150016"/>
<rect x="485" y="361.6" width="18.5" height="8.5" fill="#160017"/>
<rect x="485" y="369.6" width="18.5" height="8.5" fill="#180018"/>
<rect x="485" y="377.6" width="18.5" height="8.5" fill="#19001a"/>
<rect x="485" y="385.6" width="18.5" height="8.5" fill="#1b001c"/>
<rect x="485" y="393.6" width="18.5" height="8.5" fill="#1e001f"/>
<rect x="485" y="401.6" width="18.5" height="8.5" fill="#210022"/>
<rect x="485" y="409.6" width="18.5" height="8.5" fill="#240025"/>
<rect x="485" y="417.6" width="18.5" height="8.5" fill="#270029"/>
<rect x="485" y="425.6" width="18.5" height="8.5" fill="#2b002c"/>
<rect x="485" y="433.6" width="18.5" height="8.5" fill="#2e002f"/>
<rect x="485" y="441.6" width="18.5" height="8.5" fill="#310033"/>
<rect x="485" y="449.6" width="18.5" height="8.5" fill="#340036"/>
<rect x="485" y="457.6" width="18.5" height="8.5" fill="#380039"/>
<rect x="485" y="465.6" width="18.5" height="8.5" fill="#3b003d"/>
<rect x="485" y="473.6" width="18.5" height="8.5" fill="#3f0040"/>
<rect x="485" y="481.6" width="18.5" height="8.5" fill="#400042"/>
<rect x="485" y="489.6" width="18.5" height="16.5" fill="#3f0041"/>
<rect x="485" y="505.6" width="18.5" height="8.5" fill="#3e0040"/>
<rect x="485" y="513.6" width="18.5" height="16.5" fill="#3d003f"/>
<rect x="485" y="529.6" width="18.5" height="8.5" fill="#3c003e"/>
<rect x="485" y="537.6" width="18.5" height="8.5" fill="#3c003d"/>
<rect x="485" y="545.6" width="18.5" height="8.5" fill="#3b003d"/>
<rect x="485" y="553.6" width="18.5" height="8.5" fill="#3a003c"/>
<rect x="485" y="561.6" width="18.5" height="8.5" fill="#3a003b"/>
<rect x="485" y="569.6" width="18.5" height="8.5" fill="#39003b"/>
<rect x="485" y="577.6" width="18.5" height="8.5" fill="#38003a"/>
<rect x="485" y="585.6" width="18.5" height="8.5" fill="#380039"/>
<rect x="485" y="593.6" width="18.5" height="8.5" fill="#370039"/>
<rect x="485" y="601.6" width="18.5" height="8.5" fill="#360038"/>
<rect x="485" y="609.6" width="18.5" height="8.5" fill="#360037"/>
<rect x="485" y="617.6" width="18.5" height="8.5" fill="#350036"/>
<rect x="485" y="625.6" width="18.5" height="8.5" fill="#340036"/>
<rect x="485" y="633.6" width="18.5" height="8.5" fill="#330035"/>
<rect x="485" y="641.6" width="18.5" height="8.5" fill="#330034"/>
<rect x="485" y="649.6" width="18.5" height="8.5" fill="#320033"/>
<rect x="485" y="657.6" width="18.5" height="8.5" fill="#310033"/>
<rect x="485" y="665.6" width="18.5" height="8.5" fill="#300032"/>
<rect x="485" y="673.6" width="18.5" height="8.5" fill="#300031"/>
<rect x="485" y="681.6" width="18.5" height="8.5" fill="#2f0030"/>
<rect x="485" y="689.6" width="18.5" height="8.5" fill="#2e002f"/>
<rect x="485" y="697.6" width="18.5" height="8.5" fill="#2d002f"/>
<rect x="485" y="705.6" width="18.5" height="8.5" fill="#2d002e"/>
<rect x="485" y="713.6" width="18.5" height="8.5" fill="#2c002d"/>
<rect x="485" y="721.6" width="18.5" height="8.5" fill="#2b002c"/>
<rect x="485" y="729.6" width="18.5" height="8.5" fill="#2a002c"/>
<rect x="485" y="737.6" width="18.5" height="80.5" fill="#09000a"/>
<rect x="503" y="169.6" width="18.5" height="48.5" fill="#020002"/>
<rect x="503" y="217.6" width="18.5" height="8.5" fill="#0c000c"/>
<rect x="503" y="225.6" width="18.5" height="16.5" fill="#170018"/>
<rect x="503" y="241.6" width="18.5" height="16.5" fill="#180019"/>
<rect x="503" y="257.6" width="18.5" height="16.5" fill="#19001a"/>
<rect x="503" y="273.6" width="18.5" height="16.5" fill="#1a001b"/>
<rect x="503" y="289.6" width="18.5" height="16.5" fill="#1b001c"/>
<rect x="503" y="305.6" width="18.5" height="16.5" fill="#1c001d"/>
<rect x="503" y="321.6" width="18.5" height="8.5" fill="#1d001e"/>
<rect x="503" y="329.6" width="18.5" height="8.5" fill="#1e001f"/>
<rect x="503" y="337.6" width="18.5" height="8.5" fill="#200021"/>
<rect x="503" y="345.6" width="18.5" height="8.5" fill="#230024"/>
<rect x="503" y="353.6" width="18.5" height="8.5" fill="#250026"/>
<rect x="503" y="361.6" width="18.5" height="8.5" fill="#270028"/>
<rect x="503" y="369.6" width="18.5" height="8.5" fill="#29002a"/>
<rect x="503" y="377.6" width="18.5" height="8.5" fill="#2c002d"/>
<rect x="503" y="385.6" width="18.5" height="8.5" fill="#300031"/>
<rect x="503" y="393.6" width="18.5" height="8.5" fill="#360037"/>
<rect x="503" y="401.6" width="18.5" height="8.5" fill="#3c003e"/>
<rect x="503" y="409.6" width="18.5" height="8.5" fill="#420044"/>
<rect x="503" y="417.6" width="18.5" height="8.5" fill="#3d004b"/>
<rect x="503" y="425.6" width="18.5" height="8.5" fill="#360053"/>
<rect x="503" y="433.6" width="18.5" height="8.5" fill="#2f005a"/>
<rect x="503" y="441.6" width="18.5" height="8.5" fill="#2b005e"/>
<rect x="503" y="449.6" width="18.5" height="8.5" fill="#290061"/>
<rect x="503" y="457.6" width="18.5" height="8.5" fill="#270063"/>
<rect x="503" y="465.6" width="18.5" height="8.5" fill="#250065"/>
<rect x="503" y="473.6" width="18.5" height="8.5" fill="#240066"/>
<rect x="503" y="481.6" width="18.5" height="8.5" fill="#240065"/>
<rect x="503" y="489.6" width="18.5" height="8.5" fill="#250065"/>
<rect x="503" y="497.6" width="18.5" height="16.5" fill="#260064"/>
<rect x="503" y="513.6" width="18.5" height="8.5" fill="#270063"/>
<rect x="503" y="521.6" width="18.5" height="8.5" fill="#270062"/>
<rect x="503" y="529.6" width="18.5" height="8.5" fill="#280062"/>
<rect x="503" y="537.6" width="18.5" height="8.5" fill="#2a005f"/>
<rect x="503" y="545.6" width="18.5" height="8.5" fill="#2e005b"/>
<rect x="503" y="553.6" width="18.5" height="8.5" fill="#320057"/>
<rect x="503" y="561.6" width="18.5" height="8.5" fill="#360053"/>
<rect x="503" y="569.6" width="18.5" height="8.5" fill="#390050"/>
<rect x="503" y="577.6" width="18.5" height="8.5" fill="#3b004d"/>
<rect x="503" y="585.6" width="18.5" height="8.5" fill="#3e004b"/>
<rect x="503" y="593.6" width="18.5" height="8.5" fill="#400048"/>
<rect x="503" y="601.6" width="18.5" height="8.5" fill="#420046"/>
<rect x="503" y="609.6" width="18.5" height="8.5" fill="#430046"/>
<rect x="503" y="617.6" width="18.5" height="8.5" fill="#430045"/>
<rect x="503" y="625.6" width="18.5" height="8.5" fill="#410043"/>
<rect x="503" y="633.6" width="18.5" height="8.5" fill="#400042"/>
<rect x="503" y="641.6" width="18.5" height="8.5" fill="#3f0041"/>
<rect x="503" y="649.6" width="18.5" height="8.5" fill="#3e0040"/>
<rect x="503" y="657.6" width="18.5" height="8.5" fill="#3d003f"/>
<rect x="503" y="665.6" width="18.5" height="8.5" fill="#3c003e"/>
<rect x="503" y="673.6" width="18.5" height="8.5" fill="#3b003d"/>
<rect x="503" y="681.6" width="18.5" height="8.5" fill="#39003b"/>
<rect x="503" y="689.6" width="18.5" height="8.5" fill="#38003a"/>
<rect x="503" y="697.6" width="18.5" height="8.5" fill="#370038"/>
<rect x="503" y="705.6" width="18.5" height="8.5" fill="#350037"/>
<rect x="503" y="713.6" width="18.5" height="8.5" fill="#340035"/>
<rect x="503" y="721.6" width="18.5" height="8.5" fill="#320034"/>
<rect x="503" y="729.6" width="18.5" height="8.5" fill="#310032"/>
<rect x="503" y="737.6" width="18.5" height="8.5" fill="#300031"/>
<rect x="503" y="745.6" width="18.5" height="8.5" fill="#2e0030"/>
<rect x="503" y="753.6" width="18.5" height="64.5" fill="#09000a"/>
<rect x="521" y="169.6" width="18.5" height="48.5" fill="#09000a"/>
<rect x="521" y="217.6" width="18.5" height="8.5" fill="#1b001c"/>
<rect x="521" y="225.6" width="18.5" height="8.5" fill="#1d001d"/>
<rect x="521" y="233.6" width="18.5" height="8.5" fill="#1e001f"/>
<rect x="521" y="241.6" width="18.5" height="8.5" fill="#200021"/>
<rect x="521" y="249.6" width="18.5" height="8.5" fill="#220023"/>
<rect x="521" y="257.6" width="18.5" height="8.5" fill="#240025"/>
<rect x="521" y="265.6" width="18.5" height="8.5" fill="#260027"/>
<rect x="521" y="273.6" width="18.5" height="8.5" fill="#280029"/>
<rect x="521" y="281.6" width="18.5" height="8.5" fill="#2a002b"/>
<rect x="521" y="289.6" width="18.5" height="8.5" fill="#2c002d"/>
<rect x="521" y="297.6" width="18.5" height="8.5" fill="#2e0030"/>
<rect x="521" y="305.6" width="18.5" height="8.5" fill="#300032"/>
<rect x="521" y="313.6" width="18.5" height="8.5" fill="#320034"/>
<rect x="521" y="321.6" width="18.5" height="8.5" fill="#350036"/>
<rect x="521" y="329.6" width="18.5" height="8.5" fill="#370039"/>
<rect x="521" y="337.6" width="18.5" height="8.5" fill="#3a003c"/>
<rect x="521" y="345.6" width="18.5" height="8.5" fill="#3d003f"/>
<rect x="521" y="353.6" width="18.5" height="8.5" fill="#400042"/>
<rect x="521" y="361.6" width="18.5" height="8.5" fill="#400048"/>
<rect x="521" y="369.6" width="18.5" height="8.5" fill="#3a004f"/>
<rect x="521" y="377.6" width="18.5" height="8.5" fill="#330056"/>
<rect x="521" y="385.6" width="18.5" height="8.5" fill="#2c005d"/>
<rect x="521" y="393.6" width="18.5" height="8.5" fill="#250064"/>
<rect x="521" y="401.6" width="18.5" height="8.5" fill="#1e006c"/>
<rect x="521" y="409.6" width="18.5" height="8.5" fill="#180073"/>
<rect x="521" y="417.6" width="18.5" height="8.5" fill="#120079"/>
<rect x="521" y="425.6" width="18.5" height="8.5" fill="#0c007f"/>
<rect x="521" y="433.6" width="18.5" height="8.5" fill="#080084"/>
<rect x="521" y="441.6" width="18.5" height="8.5" fill="#060085"/>
<rect x="521" y="449.6" width="18.5" height="8.5" fill="#040087"/>
<rect x="521" y="457.6" width="18.5" height="8.5" fill="#030089"/>
<rect x="521" y="465.6" width="18.5" height="8.5" fill="#01008b"/>
<rect x="521" y="473.6" width="18.5" height="8.5" fill="#00008c"/>
<rect x="521" y="481.6" width="18.5" height="40.5" fill="#01008b"/>
<rect x="521" y="521.6" width="18.5" height="8.5" fill="#030089"/>
<rect x="521" y="529.6" width="18.5" height="8.5" fill="#060086"/>
<rect x="521" y="537.6" width="18.5" height="8.5" fill="#090083"/>
<rect x="521" y="545.6" width="18.5" height="8.5" fill="#0c007f"/>
<rect x="521" y="553.6" width="18.5" height="8.5" fill="#0f007c"/>
<rect x="521" y="561.6" width="18.5" height="8.5" fill="#120079"/>
<rect x="521" y="569.6" width="18.5" height="8.5" fill="#150076"/>
<rect x="521" y="577.6" width="18.5" height="8.5" fill="#180073"/>
<rect x="521" y="585.6" width="18.5" height="8.5" fill="#1b0070"/>
<rect x="521" y="593.6" width="18.5" height="8.5" fill="#1d006d"/>
<rect x="521" y="601.6" width="18.5" height="8.5" fill="#20006a"/>
<rect x="521" y="609.6" width="18.5" height="8.5" fill="#230067"/>
<rect x="521" y="617.6" width="18.5" height="8.5" fill="#260064"/>
<rect x="521" y="625.6" width="18.5" height="8.5" fill="#290061"/>
<rect x="521" y="633.6" width="18.5" height="8.5" fill="#2c005e"/>
<rect x="521" y="641.6" width="18.5" height="8.5" fill="#2f005b"/>
<rect x="521" y="649.6" width="18.5" height="8.5" fill="#320057"/>
<rect x="521" y="657.6" width="18.5" height="8.5" fill="#350054"/>
<rect x="521" y="665.6" width="18.5" height="8.5" fill="#380051"/>
<rect x="521" y="673.6" width="18.5" height="8.5" fill="#3b004d"/>
<rect x="521" y="681.6" width="18.5" height="8.5" fill="#3e004a"/>
<rect x="521" y="689.6" width="18.5" height="8.5" fill="#410047"/>
<rect x="521" y="697.6" width="18.5" height="8.5" fill="#420044"/>
<rect x="521" y="705.6" width="18.5" height="8.5" fill="#400042"/>
<rect x="521" y="713.6" width="18.5" height="8.5" fill="#3f0041"/>
<rect x="521" y="721.6" width="18.5" height="8.5" fill="#3d003f"/>
<rect x="521" y="729.6" width="18.5" height="8.5" fill="#3b003d"/>
<rect x="521" y="737.6" width="18.5" height="8.5" fill="#3a003b"/>
<rect x="521" y="745.6" width="18.5" height="8.5" fill="#38003a"/>
<rect x="521" y="753.6" width="18.5" height="8.5" fill="#360038"/>
<rect x="521" y="761.6" width="18.5" height="8.5" fill="#350036"/>
<rect x="521" y="769.6" width="18.5" height="48.5" fill="#09000a"/>
<rect x="539" y="169.6" width="18.5" height="64.5" fill="#09000a"/>
<rect x="539" y="233.6" width="18.5" height="8.5" fill="#29002a"/>
<rect x="539" y="241.6" width="18.5" height="8.5" fill="#2b002c"/>
<rect x="539" y="249.6" width="18.5" height="8.5" fill="#2c002e"/>
<rect x="539" y="257.6" width="18.5" height="8.5" fill="#2e002f"/>
<rect x="539" y="265.6" width="18.5" height="8.5" fill="#300031"/>
<rect x="539" y="273.6" width="18.5" height="8.5" fill="#310033"/>
<rect x="539" y="281.6" width="18.5" height="8.5" fill="#330034"/>
<rect x="539" y="289.6" width="18.5" height="8.5" fill="#350036"/>
<rect x="539" y="297.6" width="18.5" height="8.5" fill="#360038"/>
<rect x="539" y="305.6" width="18.5" height="8.5" fill="#38003a"/>
<rect x="539" y="313.6" width="18.5" height="8.5" fill="#3a003b"/>
<rect x="539" y="321.6" width="18.5" height="8.5" fill="#3b003d"/>
<rect x="539" y="329.6" width="18.5" height="8.5" fill="#3d003f"/>
<rect x="539" y="337.6" width="18.5" height="8.5" fill="#420044"/>
<rect x="539" y="345.6" width="18.5" height="8.5" fill="#3f004a"/>
<rect x="539" y="353.6" width="18.5" height="8.5" fill="#3a004f"/>
<rect x="539" y="361.6" width="18.5" height="8.5" fill="#350054"/>
<rect x="539" y="369.6" width="18.5" height="8.5" fill="#30005a"/>
<rect x="539" y="377.6" width="18.5" height="8.5" fill="#2a0060"/>
<rect x="539" y="385.6" width="18.5" height="8.5" fill="#220068"/>
<rect x="539" y="393.6" width="18.5" height="8.5" fill="#190071"/>
<rect x="539" y="401.6" width="18.5" height="8.5" fill="#11007a"/>
<rect x="539" y="409.6" width="18.5" height="8.5" fill="#090082"/>
<rect x="539" y="417.6" width="18.5" height="8.5" fill="#01008b"/>
<rect x="539" y="425.6" width="18.5" height="8.5" fill="#000b80"/>
<rect x="539" y="433.6" width="18.5" height="8.5" fill="#001972"/>
<rect x="539" y="441.6" width="18.5" height="8.5" fill="#002663"/>
<rect x="539" y="449.6" width="18.5" height="8.5" fill="#003455"/>
<rect x="539" y="457.6" width="18.5" height="8.5" fill="#004147"/>
<rect x="539" y="465.6" width="18.5" height="8.5" fill="#004a3e"/>
<rect x="539" y="473.6" width="18.5" height="8.5" fill="#004642"/>
<rect x="539" y="481.6" width="18.5" height="8.5" fill="#004147"/>
<rect x="539" y="489.6" width="18.5" height="8.5" fill="#003d4b"/>
<rect x="539" y="497.6" width="18.5" height="8.5" fill="#003652"/>
<rect x="539" y="505.6" width="18.5" height="8.5" fill="#002c5d"/>
<rect x="539" y="513.6" width="18.5" height="8.5" fill="#002268"/>
<rect x="539" y="521.6" width="18.5" height="8.5" fill="#001873"/>
<rect x="539" y="529.6" width="18.5" height="8.5" fill="#000e7e"/>
<rect x="539" y="537.6" width="18.5" height="8.5" fill="#000388"/>
<rect x="539" y="545.6" width="18.5" height="8.5" fill="#01008b"/>
<rect x="539" y="553.6" width="18.5" height="8.5" fill="#030089"/>
<rect x="539" y="561.6" width="18.5" height="8.5" fill="#050087"/>
<rect x="539" y="569.6" width="18.5" height="8.5" fill="#070085"/>
<rect x="539" y="577.6" width="18.5" height="8.5" fill="#080083"/>
<rect x="539" y="585.6" width="18.5" height="8.5" fill="#0a0081"/>
<rect x="539" y="593.6" width="18.5" height="8.5" fill="#0c007f"/>
<rect x="539" y="601.6" width="18.5" height="8.5" fill="#0e007d"/>
<rect x="539" y="609.6" width="18.5" height="8.5" fill="#11007a"/>
<rect x="539" y="617.6" width="18.5" height="8.5" fill="#140077"/>
<rect x="539" y="625.6" width="18.5" height="8.5" fill="#160074"/>
<rect x="539" y="633.6" width="18.5" height="8.5" fill="#190072"/>
<rect x="539" y="641.6" width="18.5" height="8.5" fill="#1c006f"/>
<rect x="539" y="649.6" width="18.5" height="8.5" fill="#1e006c"/>
<rect x="539" y="657.6" width="18.5" height="8.5" fill="#210069"/>
<rect x="539" y="665.6" width="18.5" height="8.5" fill="#240066"/>
<rect x="539" y="673.6" width="18.5" height="8.5" fill="#270063"/>
<rect x="539" y="681.6" width="18.5" height="8.5" fill="#2a005f"/>
<rect x="539" y="689.6" width="18.5" height="8.5" fill="#2d005c"/>
<rect x="539" y="697.6" width="18.5" height="8.5" fill="#310059"/>
<rect x="539" y="705.6" width="18.5" height="8.5" fill="#340055"/>
<rect x="539" y="713.6" width="18.5" height="8.5" fill="#370052"/>
<rect x="539" y="721.6" width="18.5" height="8.5" fill="#3a004f"/>
<rect x="539" y="729.6" width="18.5" height="8.5" fill="#3d004b"/>
<rect x="539" y="737.6" width="18.5" height="8.5" fill="#400048"/>
<rect x="539" y="745.6" width="18.5" height="8.5" fill="#430045"/>
<rect x="539" y="753.6" width="18.5" height="8.5" fill="#420044"/>
<rect x="539" y="761.6" width="18.5" height="8.5" fill="#400042"/>
<rect x="539" y="769.6" width="18.5" height="8.5" fill="#3f0041"/>
<rect x="539" y="777.6" width="18.5" height="8.5" fill="#3e0040"/>
<rect x="539" y="785.6" width="18.5" height="32.5" fill="#09000a"/>
<rect x="557" y="169.6" width="18.5" height="80.5" fill="#09000a"/>
<rect x="557" y="249.6" width="18.5" height="8.5" fill="#340036"/>
<rect x="557" y="257.6" width="18.5" height="8.5" fill="#360037"/>
<rect x="557" y="265.6" width="18.5" height="8.5" fill="#380039"/>
<rect x="557" y="273.6" width="18.5" height="8.5" fill="#3a003b"/>
<rect x="557" y="281.6" width="18.5" height="8.5" fill="#3b003d"/>
<rect x="557" y="289.6" width="18.5" height="8.5" fill="#3d003f"/>
<rect x="557" y="297.6" width="18.5" height="8.5" fill="#3f0041"/>
<rect x="557" y="305.6" width="18.5" height="8.5" fill="#410043"/>
<rect x="557" y="313.6" width="18.5" height="8.5" fill="#430045"/>
<rect x="557" y="321.6" width="18.5" height="8.5" fill="#3e004a"/>
<rect x="557" y="329.6" width="18.5" height="8.5" fill="#390050"/>
<rect x="557" y="337.6" width="18.5" height="8.5" fill="#340055"/>
<rect x="557" y="345.6" width="18.5" height="8.5" fill="#2f005a"/>
<rect x="557" y="353.6" width="18.5" height="8.5" fill="#2a005f"/>
<rect x="557" y="361.6" width="18.5" height="8.5" fill="#250065"/>
<rect x="557" y="369.6" width="18.5" height="8.5" fill="#20006a"/>
<rect x="557" y="377.6" width="18.5" height="8.5" fill="#1b006f"/>
<rect x="557" y="385.6" width="18.5" height="8.5" fill="#150076"/>
<rect x="557" y="393.6" width="18.5" height="8.5" fill="#0e007e"/>
<rect x="557" y="401.6" width="18.5" height="8.5" fill="#060085"/>
<rect x="557" y="409.6" width="18.5" height="8.5" fill="#000487"/>
<rect x="557" y="417.6" width="18.5" height="8.5" fill="#001d6d"/>
<rect x="557" y="425.6" width="18.5" height="8.5" fill="#003553"/>
<rect x="557" y="433.6" width="18.5" height="8.5" fill="#004741"/>
<rect x="557" y="441.6" width="18.5" height="8.5" fill="#005136"/>
<rect x="557" y="449.6" width="18.5" height="8.5" fill="#005b2c"/>
<rect x="557" y="457.6" width="18.5" height="8.5" fill="#006521"/>
<rect x="557" y="465.6" width="18.5" height="8.5" fill="#006f16"/>
<rect x="557" y="473.6" width="18.5" height="8.5" fill="#006b1a"/>
<rect x="557" y="481.6" width="18.5" height="8.5" fill="#006422"/>
<rect x="557" y="489.6" width="18.5" height="8.5" fill="#005c2a"/>
<rect x="557" y="497.6" width="18.5" height="8.5" fill="#005532"/>
<rect x="557" y="505.6" width="18.5" height="8.5" fill="#004d3a"/>
<rect x="557" y="513.6" width="18.5" height="8.5" fill="#004542"/>
<rect x="557" y="521.6" width="18.5" height="8.5" fill="#003d4b"/>
<rect x="557" y="529.6" width="18.5" height="8.5" fill="#003455"/>
<rect x="557" y="537.6" width="18.5" height="8.5" fill="#002b5e"/>
<rect x="557" y="545.6" width="18.5" height="8.5" fill="#002367"/>
<rect x="557" y="553.6" width="18.5" height="8.5" fill="#001a71"/>
<rect x="557" y="561.6" width="18.5" height="8.5" fill="#00117a"/>
<rect x="557" y="569.6" width="18.5" height="8.5" fill="#000883"/>
<rect x="557" y="577.6" width="18.5" height="8.5" fill="#00008c"/>
<rect x="557" y="585.6" width="18.5" height="8.5" fill="#01008b"/>
<rect x="557" y="593.6" width="18.5" height="8.5" fill="#02008a"/>
<rect x="557" y="601.6" width="18.5" height="8.5" fill="#040088"/>
<rect x="557" y="609.6" width="18.5" height="8.5" fill="#070085"/>
<rect x="557" y="617.6" width="18.5" height="8.5" fill="#0a0082"/>
<rect x="557" y="625.6" width="18.5" height="8.5" fill="#0d007f"/>
<rect x="557" y="633.6" width="18.5" height="8.5" fill="#10007c"/>
<rect x="557" y="641.6" width="18.5" height="8.5" fill="#120079"/>
<rect x="557" y="649.6" width="18.5" height="8.5" fill="#150076"/>
<rect x="557" y="657.6" width="18.5" height="8.5" fill="#180073"/>
<rect x="557" y="665.6" width="18.5" height="8.5" fill="#1b006f"/>
<rect x="557" y="673.6" width="18.5" height="8.5" fill="#1e006c"/>
<rect x="557" y="681.6" width="18.5" height="8.5" fill="#210069"/>
<rect x="557" y="689.6" width="18.5" height="8.5" fill="#240066"/>
<rect x="557" y="697.6" width="18.5" height="8.5" fill="#270063"/>
<rect x="557" y="705.6" width="18.5" height="8.5" fill="#2a005f"/>
<rect x="557" y="713.6" width="18.5" height="8.5" fill="#2d005c"/>
<rect x="557" y="721.6" width="18.5" height="8.5" fill="#300059"/>
<rect x="557" y="729.6" width="18.5" height="8.5" fill="#340055"/>
<rect x="557" y="737.6" width="18.5" height="8.5" fill="#370052"/>
<rect x="557" y="745.6" width="18.5" height="8.5" fill="#3a004f"/>
<rect x="557" y="753.6" width="18.5" height="8.5" fill="#3d004b"/>
<rect x="557" y="761.6" width="18.5" height="8.5" fill="#400048"/>
<rect x="557" y="769.6" width="18.5" height="8.5" fill="#430045"/>
<rect x="557" y="777.6" width="18.5" height="8.5" fill="#420044"/>
<rect x="557" y="785.6" width="18.5" height="8.5" fill="#410043"/>
<rect x="557" y="793.6" width="18.5" height="8.5" fill="#400042"/>
<rect x="557" y="801.6" width="18.5" height="16.5" fill="#09000a"/>
<rect x="575" y="169.6" width="18.5" height="96.5" fill="#09000a"/>
<rect x="575" y="265.6" width="18.5" height="8.5" fill="#38003a"/>
<rect x="575" y="273.6" width="18.5" height="8.5" fill="#3a003b"/>
<rect x="575" y="281.6" width="18.5" height="8.5" fill="#3b003c"/>
<rect x="575" y="289.6" width="18.5" height="8.5" fill="#3c003e"/>
<rect x="575" y="297.6" width="18.5" height="8.5" fill="#3d003f"/>
<rect x="575" y="305.6" width="18.5" height="8.5" fill="#3e0040"/>
<rect x="575" y="313.6" width="18.5" height="8.5" fill="#3f0041"/>
<rect x="575" y="321.6" width="18.5" height="8.5" fill="#410043"/>
<rect x="575" y="329.6" width="18.5" height="8.5" fill="#420044"/>
<rect x="575" y="337.6" width="18.5" height="8.5" fill="#430045"/>
<rect x="575" y="345.6" width="18.5" height="8.5" fill="#3d004b"/>
<rect x="575" y="353.6" width="18.5" height="8.5" fill="#380051"/>
<rect x="575" y="361.6" width="18.5" height="8.5" fill="#320057"/>
<rect x="575" y="369.6" width="18.5" height="8.5" fill="#2d005d"/>
<rect x="575" y="377.6" width="18.5" height="8.5" fill="#270063"/>
<rect x="575" y="385.6" width="18.5" height="8.5" fill="#20006a"/>
<rect x="575" y="393.6" width="18.5" height="8.5" fill="#170074"/>
<rect x="575" y="401.6" width="18.5" height="8.5" fill="#0d007e"/>
<rect x="575" y="409.6" width="18.5" height="8.5" fill="#050086"/>
<rect x="575" y="417.6" width="18.5" height="8.5" fill="#000982"/>
<rect x="575" y="425.6" width="18.5" height="8.5" fill="#002a5f"/>
<rect x="575" y="433.6" width="18.5" height="8.5" fill="#004b3d"/>
<rect x="575" y="441.6" width="18.5" height="8.5" fill="#005f27"/>
<rect x="575" y="449.6" width="18.5" height="8.5" fill="#00790c"/>
<rect x="575" y="457.6" width="18.5" height="8.5" fill="#048500"/>
<rect x="575" y="465.6" width="18.5" height="16.5" fill="#098700"/>
<rect x="575" y="481.6" width="18.5" height="8.5" fill="#048500"/>
<rect x="575" y="489.6" width="18.5" height="8.5" fill="#007e07"/>
<rect x="575" y="497.6" width="18.5" height="8.5" fill="#007114"/>
<rect x="575" y="505.6" width="18.5" height="8.5" fill="#00671f"/>
<rect x="575" y="513.6" width="18.5" height="8.5" fill="#005d29"/>
<rect x="575" y="521.6" width="18.5" height="8.5" fill="#005433"/>
<rect x="575" y="529.6" width="18.5" height="8.5" fill="#004b3d"/>
<rect x="575" y="537.6" width="18.5" height="8.5" fill="#004048"/>
<rect x="575" y="545.6" width="18.5" height="8.5" fill="#003554"/>
<rect x="575" y="553.6" width="18.5" height="16.5" fill="#002c5d"/>
<rect x="575" y="569.6" width="18.5" height="16.5" fill="#002169"/>
<rect x="575" y="585.6" width="18.5" height="16.5" fill="#001873"/>
<rect x="575" y="601.6" width="18.5" height="8.5" fill="#000d7e"/>
<rect x="575" y="609.6" width="18.5" height="8.5" fill="#000785"/>
<rect x="575" y="617.6" width="18.5" height="8.5" fill="#00008c"/>
<rect x="575" y="625.6" width="18.5" height="8.5" fill="#02008a"/>
<rect x="575" y="633.6" width="18.5" height="8.5" fill="#050087"/>
<rect x="575" y="641.6" width="18.5" height="8.5" fill="#080083"/>
<rect x="575" y="649.6" width="18.5" height="8.5" fill="#0a0081"/>
<rect x="575" y="657.6" width="18.5" height="8.5" fill="#0e007e"/>
<rect x="575" y="665.6" width="18.5" height="8.5" fill="#10007b"/>
<rect x="575" y="673.6" width="18.5" height="8.5" fill="#120079"/>
<rect x="575" y="681.6" width="18.5" height="8.5" fill="#150076"/>
<rect x="575" y="689.6" width="18.5" height="8.5" fill="#170074"/>
<rect x="575" y="697.6" width="18.5" height="8.5" fill="#190071"/>
<rect x="575" y="705.6" width="18.5" height="8.5" fill="#1c006f"/>
<rect x="575" y="713.6" width="18.5" height="8.5" fill="#1f006b"/>
<rect x="575" y="721.6" width="18.5" height="8.5" fill="#210069"/>
<rect x="575" y="729.6" width="18.5" height="8.5" fill="#240066"/>
<rect x="575" y="737.6" width="18.5" height="8.5" fill="#270063"/>
<rect x="575" y="745.6" width="18.5" height="8.5" fill="#290061"/>
<rect x="575" y="753.6" width="18.5" height="8.5" fill="#2c005d"/>
<rect x="575" y="761.6" width="18.5" height="8.5" fill="#2e005b"/>
<rect x="575" y="769.6" width="18.5" height="8.5" fill="#300059"/>
<rect x="575" y="777.6" width="18.5" height="8.5" fill="#320057"/>
<rect x="575" y="785.6" width="18.5" height="8.5" fill="#340055"/>
<rect x="575" y="793.6" width="18.5" height="8.5" fill="#350053"/>
<rect x="575" y="801.6" width="18.5" height="8.5" fill="#380051"/>
<rect x="575" y="809.6" width="18.5" height="8.5" fill="#39004f"/>
<rect x="593" y="169.6" width="18.5" height="112.5" fill="#09000a"/>
<rect x="593" y="281.6" width="18.5" height="8.5" fill="#3c003e"/>
<rect x="593" y="289.6" width="18.5" height="8.5" fill="#3e0040"/>
<rect x="593" y="297.6" width="18.5" height="8.5" fill="#410043"/>
<rect x="593" y="305.6" width="18.5" height="8.5" fill="#430045"/>
<rect x="593" y="313.6" width="18.5" height="8.5" fill="#410047"/>
<rect x="593" y="321.6" width="18.5" height="8.5" fill="#3f0049"/>
<rect x="593" y="329.6" width="18.5" height="8.5" fill="#3d004b"/>
<rect x="593" y="337.6" width="18.5" height="8.5" fill="#3b004e"/>
<rect x="593" y="345.6" width="18.5" height="8.5" fill="#390050"/>
<rect x="593" y="353.6" width="18.5" height="8.5" fill="#370052"/>
<rect x="593" y="361.6" width="18.5" height="8.5" fill="#350054"/>
<rect x="593" y="369.6" width="18.5" height="8.5" fill="#330056"/>
<rect x="593" y="377.6" width="18.5" height="8.5" fill="#310058"/>
<rect x="593" y="385.6" width="18.5" height="8.5" fill="#2b005e"/>
<rect x="593" y="393.6" width="18.5" height="8.5" fill="#210069"/>
<rect x="593" y="401.6" width="18.5" height="8.5" fill="#180073"/>
<rect x="593" y="409.6" width="18.5" height="8.5" fill="#0f007c"/>
<rect x="593" y="417.6" width="18.5" height="8.5" fill="#060086"/>
<rect x="593" y="425.6" width="18.5" height="8.5" fill="#000c7f"/>
<rect x="593" y="433.6" width="18.5" height="8.5" fill="#002c5d"/>
<rect x="593" y="441.6" width="18.5" height="8.5" fill="#004f38"/>
<rect x="593" y="449.6" width="18.5" height="8.5" fill="#006a1c"/>
<rect x="593" y="457.6" width="18.5" height="8.5" fill="#078600"/>
<rect x="593" y="465.6" width="18.5" height="8.5" fill="#319500"/>
<rect x="593" y="473.6" width="18.5" height="8.5" fill="#3a9800"/>
<rect x="593" y="481.6" width="18.5" height="8.5" fill="#359600"/>
<rect x="593" y="489.6" width="18.5" height="8.5" fill="#2c9300"/>
<rect x="593" y="497.6" width="18.5" height="8.5" fill="#178c00"/>
<rect x="593" y="505.6" width="18.5" height="8.5" fill="#0b8800"/>
<rect x="593" y="513.6" width="18.5" height="8.5" fill="#028500"/>
<rect x="593" y="521.6" width="18.5" height="8.5" fill="#007c08"/>
<rect x="593" y="529.6" width="18.5" height="8.5" fill="#007114"/>
<rect x="593" y="537.6" width="18.5" height="8.5" fill="#006224"/>
<rect x="593" y="545.6" width="18.5" height="8.5" fill="#005730"/>
<rect x="593" y="553.6" width="18.5" height="8.5" fill="#004f38"/>
<rect x="593" y="561.6" width="18.5" height="8.5" fill="#00493e"/>
<rect x="593" y="569.6" width="18.5" height="8.5" fill="#004642"/>
<rect x="593" y="577.6" width="18.5" height="8.5" fill="#004048"/>
<rect x="593" y="585.6" width="18.5" height="8.5" fill="#003d4b"/>
<rect x="593" y="593.6" width="18.5" height="8.5" fill="#003752"/>
<rect x="593" y="601.6" width="18.5" height="8.5" fill="#003257"/>
<rect x="593" y="609.6" width="18.5" height="8.5" fill="#002c5d"/>
<rect x="593" y="617.6" width="18.5" height="8.5" fill="#002169"/>
<rect x="593" y="625.6" width="18.5" height="8.5" fill="#001b6f"/>
<rect x="593" y="633.6" width="18.5" height="8.5" fill="#001576"/>
<rect x="593" y="641.6" width="18.5" height="8.5" fill="#000d7e"/>
<rect x="593" y="649.6" width="18.5" height="8.5" fill="#000488"/>
<rect x="593" y="657.6" width="18.5" height="8.5" fill="#01008b"/>
<rect x="593" y="665.6" width="18.5" height="8.5" fill="#030088"/>
<rect x="593" y="673.6" width="18.5" height="8.5" fill="#050087"/>
<rect x="593" y="681.6" width="18.5" height="8.5" fill="#070084"/>
<rect x="593" y="689.6" width="18.5" height="8.5" fill="#090083"/>
<rect x="593" y="697.6" width="18.5" height="8.5" fill="#0b0080"/>
<rect x="593" y="705.6" width="18.5" height="8.5" fill="#0e007e"/>
<rect x="593" y="713.6" width="18.5" height="8.5" fill="#10007b"/>
<rect x="593" y="721.6" width="18.5" height="8.5" fill="#120079"/>
<rect x="593" y="729.6" width="18.5" height="8.5" fill="#150076"/>
<rect x="593" y="737.6" width="18.5" height="8.5" fill="#170074"/>
<rect x="593" y="745.6" width="18.5" height="8.5" fill="#1a0070"/>
<rect x="593" y="753.6" width="18.5" height="8.5" fill="#1c006e"/>
<rect x="593" y="761.6" width="18.5" height="8.5" fill="#1f006b"/>
<rect x="593" y="769.6" width="18.5" height="8.5" fill="#220068"/>
<rect x="593" y="777.6" width="18.5" height="8.5" fill="#240066"/>
<rect x="593" y="785.6" width="18.5" height="8.5" fill="#260064"/>
<rect x="593" y="793.6" width="18.5" height="8.5" fill="#280061"/>
<rect x="593" y="801.6" width="18.5" height="8.5" fill="#2a0060"/>
<rect x="593" y="809.6" width="18.5" height="8.5" fill="#2b005e"/>
<rect x="611" y="169.6" width="18.5" height="120.5" fill="#09000a"/>
<rect x="611" y="289.6" width="18.5" height="8.5" fill="#3b003d"/>
<rect x="611" y="297.6" width="18.5" height="8.5" fill="#3d003f"/>
<rect x="611" y="305.6" width="18.5" height="8.5" fill="#3f0041"/>
<rect x="611" y="313.6" width="18.5" height="8.5" fill="#400042"/>
<rect x="611" y="321.6" width="18.5" height="8.5" fill="#420044"/>
<rect x="611" y="329.6" width="18.5" height="8.5" fill="#420046"/>
<rect x="611" y="337.6" width="18.5" height="8.5" fill="#410047"/>
<rect x="611" y="345.6" width="18.5" height="8.5" fill="#400049"/>
<rect x="611" y="353.6" width="18.5" height="8.5" fill="#3e004a"/>
<rect x="611" y="361.6" width="18.5" height="8.5" fill="#3d004c"/>
<rect x="611" y="369.6" width="18.5" height="8.5" fill="#3b004d"/>
<rect x="611" y="377.6" width="18.5" height="8.5" fill="#3a004e"/>
<rect x="611" y="385.6" width="18.5" height="8.5" fill="#360053"/>
<rect x="611" y="393.6" width="18.5" height="8.5" fill="#2e005b"/>
<rect x="611" y="401.6" width="18.5" height="8.5" fill="#270063"/>
<rect x="611" y="409.6" width="18.5" height="8.5" fill="#1f006b"/>
<rect x="611" y="417.6" width="18.5" height="8.5" fill="#150076"/>
<rect x="611" y="425.6" width="18.5" height="8.5" fill="#0b0080"/>
<rect x="611" y="433.6" width="18.5" height="8.5" fill="#01008b"/>
<rect x="611" y="441.6" width="18.5" height="8.5" fill="#001279"/>
<rect x="611" y="449.6" width="18.5" height="8.5" fill="#003554"/>
<rect x="611" y="457.6" width="18.5" height="8.5" fill="#005d29"/>
<rect x="611" y="465.6" width="18.5" height="8.5" fill="#008104"/>
<rect x="611" y="473.6" width="18.5" height="8.5" fill="#319500"/>
<rect x="611" y="481.6" width="18.5" height="8.5" fill="#54a000"/>
<rect x="611" y="489.6" width="18.5" height="8.5" fill="#5fa400"/>
<rect x="611" y="497.6" width="18.5" height="8.5" fill="#58a200"/>
<rect x="611" y="505.6" width="18.5" height="8.5" fill="#4a9d00"/>
<rect x="611" y="513.6" width="18.5" height="8.5" fill="#419a00"/>
<rect x="611" y="521.6" width="18.5" height="8.5" fill="#359600"/>
<rect x="611" y="529.6" width="18.5" height="8.5" fill="#279100"/>
<rect x="611" y="537.6" width="18.5" height="8.5" fill="#128a00"/>
<rect x="611" y="545.6" width="18.5" height="8.5" fill="#008202"/>
<rect x="611" y="553.6" width="18.5" height="8.5" fill="#00760f"/>
<rect x="611" y="561.6" width="18.5" height="8.5" fill="#006e17"/>
<rect x="611" y="569.6" width="18.5" height="8.5" fill="#006b1a"/>
<rect x="611" y="577.6" width="18.5" height="8.5" fill="#006521"/>
<rect x="611" y="585.6" width="18.5" height="8.5" fill="#006026"/>
<rect x="611" y="593.6" width="18.5" height="8.5" fill="#005d29"/>
<rect x="611" y="601.6" width="18.5" height="8.5" fill="#00592e"/>
<rect x="611" y="609.6" width="18.5" height="8.5" fill="#005631"/>
<rect x="611" y="617.6" width="18.5" height="8.5" fill="#004f38"/>
<rect x="611" y="625.6" width="18.5" height="8.5" fill="#004b3d"/>
<rect x="611" y="633.6" width="18.5" height="8.5" fill="#004345"/>
<rect x="611" y="641.6" width="18.5" height="8.5" fill="#003b4d"/>
<rect x="611" y="649.6" width="18.5" height="8.5" fill="#003455"/>
<rect x="611" y="657.6" width="18.5" height="8.5" fill="#002961"/>
<rect x="611" y="665.6" width="18.5" height="8.5" fill="#002367"/>
<rect x="611" y="673.6" width="18.5" height="8.5" fill="#001d6e"/>
<rect x="611" y="681.6" width="18.5" height="8.5" fill="#001576"/>
<rect x="611" y="689.6" width="18.5" height="8.5" fill="#000d7e"/>
<rect x="611" y="697.6" width="18.5" height="8.5" fill="#000488"/>
<rect x="611" y="705.6" width="18.5" height="8.5" fill="#01008b"/>
<rect x="611" y="713.6" width="18.5" height="8.5" fill="#040088"/>
<rect x="611" y="721.6" width="18.5" height="8.5" fill="#060086"/>
<rect x="611" y="729.6" width="18.5" height="8.5" fill="#080083"/>
<rect x="611" y="737.6" width="18.5" height="8.5" fill="#0a0082"/>
<rect x="611" y="745.6" width="18.5" height="8.5" fill="#0d007e"/>
<rect x="611" y="753.6" width="18.5" height="8.5" fill="#0f007c"/>
<rect x="611" y="761.6" width="18.5" height="8.5" fill="#120079"/>
<rect x="611" y="769.6" width="18.5" height="8.5" fill="#150076"/>
<rect x="611" y="777.6" width="18.5" height="8.5" fill="#170074"/>
<rect x="611" y="785.6" width="18.5" height="8.5" fill="#190072"/>
<rect x="611" y="793.6" width="18.5" height="8.5" fill="#1b006f"/>
<rect x="611" y="801.6" width="18.5" height="8.5" fill="#1c006e"/>
<rect x="611" y="809.6" width="18.5" height="8.5" fill="#1e006c"/>
<rect x="629" y="169.6" width="18.5" height="128.5" fill="#09000a"/>
<rect x="629" y="297.6" width="18.5" height="8.5" fill="#3b003d"/>
<rect x="629" y="305.6" width="18.5" height="8.5" fill="#3c003e"/>
<rect x="629" y="313.6" width="18.5" height="8.5" fill="#3e003f"/>
<rect x="629" y="321.6" width="18.5" height="8.5" fill="#3f0041"/>
<rect x="629" y="329.6" width="18.5" height="8.5" fill="#400042"/>
<rect x="629" y="337.6" width="18.5" height="8.5" fill="#410043"/>
<rect x="629" y="345.6" width="18.5" height="8.5" fill="#430045"/>
<rect x="629" y="353.6" width="18.5" height="8.5" fill="#420046"/>
<rect x="629" y="361.6" width="18.5" height="8.5" fill="#410047"/>
<rect x="629" y="369.6" width="18.5" height="8.5" fill="#400048"/>
<rect x="629" y="377.6" width="18.5" height="8.5" fill="#3f0049"/>
<rect x="629" y="385.6" width="18.5" height="8.5" fill="#3c004c"/>
<rect x="629" y="393.6" width="18.5" height="8.5" fill="#360053"/>
<rect x="629" y="401.6" width="18.5" height="8.5" fill="#300059"/>
<rect x="629" y="409.6" width="18.5" height="8.5" fill="#2a005f"/>
<rect x="629" y="417.6" width="18.5" height="8.5" fill="#250065"/>
<rect x="629" y="425.6" width="18.5" height="8.5" fill="#20006a"/>
<rect x="629" y="433.6" width="18.5" height="8.5" fill="#1f006b"/>
<rect x="629" y="441.6" width="18.5" height="8.5" fill="#090083"/>
<rect x="629" y="449.6" width="18.5" height="8.5" fill="#000488"/>
<rect x="629" y="457.6" width="18.5" height="8.5" fill="#002762"/>
<rect x="629" y="465.6" width="18.5" height="8.5" fill="#005234"/>
<rect x="629" y="473.6" width="18.5" height="8.5" fill="#007c08"/>
<rect x="629" y="481.6" width="18.5" height="8.5" fill="#2c9300"/>
<rect x="629" y="489.6" width="18.5" height="8.5" fill="#5fa400"/>
<rect x="629" y="497.6" width="18.5" height="8.5" fill="#72ab00"/>
<rect x="629" y="505.6" width="18.5" height="16.5" fill="#7bae00"/>
<rect x="629" y="521.6" width="18.5" height="8.5" fill="#6da900"/>
<rect x="629" y="529.6" width="18.5" height="8.5" fill="#54a000"/>
<rect x="629" y="537.6" width="18.5" height="8.5" fill="#4d9e00"/>
<rect x="629" y="545.6" width="18.5" height="8.5" fill="#3f9900"/>
<rect x="629" y="553.6" width="18.5" height="8.5" fill="#279100"/>
<rect x="629" y="561.6" width="18.5" height="8.5" fill="#1e8e00"/>
<rect x="629" y="569.6" width="18.5" height="8.5" fill="#128a00"/>
<rect x="629" y="577.6" width="18.5" height="8.5" fill="#078600"/>
<rect x="629" y="585.6" width="18.5" height="8.5" fill="#028500"/>
<rect x="629" y="593.6" width="18.5" height="8.5" fill="#008400"/>
<rect x="629" y="601.6" width="18.5" height="8.5" fill="#007f05"/>
<rect x="629" y="609.6" width="18.5" height="8.5" fill="#007c08"/>
<rect x="629" y="617.6" width="18.5" height="8.5" fill="#00760f"/>
<rect x="629" y="625.6" width="18.5" height="8.5" fill="#007015"/>
<rect x="629" y="633.6" width="18.5" height="8.5" fill="#006a1c"/>
<rect x="629" y="641.6" width="18.5" height="8.5" fill="#005f27"/>
<rect x="629" y="649.6" width="18.5" height="8.5" fill="#005a2c"/>
<rect x="629" y="657.6" width="18.5" height="8.5" fill="#005631"/>
<rect x="629" y="665.6" width="18.5" height="8.5" fill="#004f38"/>
<rect x="629" y="673.6" width="18.5" height="8.5" fill="#00493e"/>
<rect x="629" y="681.6" width="18.5" height="8.5" fill="#004246"/>
<rect x="629" y="689.6" width="18.5" height="8.5" fill="#003a4f"/>
<rect x="629" y="697.6" width="18.5" height="8.5" fill="#003158"/>
<rect x="629" y="705.6" width="18.5" height="8.5" fill="#002762"/>
<rect x="629" y="713.6" width="18.5" height="8.5" fill="#00206a"/>
<rect x="629" y="721.6" width="18.5" height="8.5" fill="#001a71"/>
<rect x="629" y="729.6" width="18.5" height="8.5" fill="#001279"/>
<rect x="629" y="737.6" width="18.5" height="8.5" fill="#000983"/>
<rect x="629" y="745.6" width="18.5" height="8.5" fill="#00018b"/>
<rect x="629" y="753.6" width="18.5" height="8.5" fill="#030089"/>
<rect x="629" y="761.6" width="18.5" height="8.5" fill="#060086"/>
<rect x="629" y="769.6" width="18.5" height="8.5" fill="#080083"/>
<rect x="629" y="777.6" width="18.5" height="8.5" fill="#0a0082"/>
<rect x="629" y="785.6" width="18.5" height="8.5" fill="#0c007f"/>
<rect x="629" y="793.6" width="18.5" height="8.5" fill="#0f007c"/>
<rect x="629" y="801.6" width="18.5" height="8.5" fill="#120079"/>
<rect x="629" y="809.6" width="18.5" height="8.5" fill="#140077"/>
<rect x="647" y="169.6" width="18.5" height="128.5" fill="#09000a"/>
<rect x="647" y="297.6" width="18.5" height="8.5" fill="#3b003d"/>
<rect x="647" y="305.6" width="18.5" height="8.5" fill="#3c003d"/>
<rect x="647" y="313.6" width="18.5" height="8.5" fill="#3c003e"/>
<rect x="647" y="321.6" width="18.5" height="16.5" fill="#3d003f"/>
<rect x="647" y="337.6" width="18.5" height="8.5" fill="#3e0040"/>
<rect x="647" y="345.6" width="18.5" height="8.5" fill="#3f0040"/>
<rect x="647" y="353.6" width="18.5" height="8.5" fill="#3f0041"/>
<rect x="647" y="361.6" width="18.5" height="16.5" fill="#400042"/>
<rect x="647" y="377.6" width="18.5" height="8.5" fill="#410043"/>
<rect x="647" y="385.6" width="18.5" height="8.5" fill="#430045"/>
<rect x="647" y="393.6" width="18.5" height="8.5" fill="#400049"/>
<rect x="647" y="401.6" width="18.5" height="8.5" fill="#3d004c"/>
<rect x="647" y="409.6" width="18.5" height="8.5" fill="#39004f"/>
<rect x="647" y="417.6" width="18.5" height="8.5" fill="#360052"/>
<rect x="647" y="425.6" width="18.5" height="8.5" fill="#310058"/>
<rect x="647" y="433.6" width="18.5" height="8.5" fill="#2c005d"/>
<rect x="647" y="441.6" width="18.5" height="8.5" fill="#240066"/>
<rect x="647" y="449.6" width="18.5" height="8.5" fill="#11007a"/>
<rect x="647" y="457.6" width="18.5" height="8.5" fill="#01008b"/>
<rect x="647" y="465.6" width="18.5" height="8.5" fill="#001b6f"/>
<rect x="647" y="473.6" width="18.5" height="8.5" fill="#003b4d"/>
<rect x="647" y="481.6" width="18.5" height="8.5" fill="#006d19"/>
<rect x="647" y="489.6" width="18.5" height="8.5" fill="#1e8e00"/>
<rect x="647" y="497.6" width="18.5" height="8.5" fill="#58a200"/>
<rect x="647" y="505.6" width="18.5" height="8.5" fill="#69a800"/>
<rect x="647" y="513.6" width="18.5" height="8.5" fill="#7eaf00"/>
<rect x="647" y="521.6" width="18.5" height="8.5" fill="#82b000"/>
<rect x="647" y="529.6" width="18.5" height="8.5" fill="#72ab00"/>
<rect x="647" y="537.6" width="18.5" height="8.5" fill="#6da900"/>
<rect x="647" y="545.6" width="18.5" height="8.5" fill="#5da400"/>
<rect x="647" y="553.6" width="18.5" height="8.5" fill="#469c00"/>
<rect x="647" y="561.6" width="18.5" height="8.5" fill="#3c9900"/>
<rect x="647" y="569.6" width="18.5" height="8.5" fill="#319500"/>
<rect x="647" y="577.6" width="18.5" height="8.5" fill="#239000"/>
<rect x="647" y="585.6" width="18.5" height="8.5" fill="#198d00"/>
<rect x="647" y="593.6" width="18.5" height="8.5" fill="#158b00"/>
<rect x="647" y="601.6" width="18.5" height="8.5" fill="#108900"/>
<rect x="647" y="609.6" width="18.5" height="8.5" fill="#0e8900"/>
<rect x="647" y="617.6" width="18.5" height="8.5" fill="#0b8800"/>
<rect x="647" y="625.6" width="18.5" height="16.5" fill="#098700"/>
<rect x="647" y="641.6" width="18.5" height="8.5" fill="#078600"/>
<rect x="647" y="649.6" width="18.5" height="8.5" fill="#048500"/>
<rect x="647" y="657.6" width="18.5" height="8.5" fill="#028500"/>
<rect x="647" y="665.6" width="18.5" height="8.5" fill="#007f05"/>
<rect x="647" y="673.6" width="18.5" height="8.5" fill="#00790c"/>
<rect x="647" y="681.6" width="18.5" height="8.5" fill="#007015"/>
<rect x="647" y="689.6" width="18.5" height="8.5" fill="#00671f"/>
<rect x="647" y="697.6" width="18.5" height="8.5" fill="#005f27"/>
<rect x="647" y="705.6" width="18.5" height="8.5" fill="#005730"/>
<rect x="647" y="713.6" width="18.5" height="8.5" fill="#004f38"/>
<rect x="647" y="721.6" width="18.5" height="8.5" fill="#004642"/>
<rect x="647" y="729.6" width="18.5" height="8.5" fill="#003e4a"/>
<rect x="647" y="737.6" width="18.5" height="8.5" fill="#003455"/>
<rect x="647" y="745.6" width="18.5" height="8.5" fill="#002961"/>
<rect x="647" y="753.6" width="18.5" height="8.5" fill="#001d6e"/>
<rect x="647" y="761.6" width="18.5" height="8.5" fill="#001279"/>
<rect x="647" y="769.6" width="18.5" height="8.5" fill="#000983"/>
<rect x="647" y="777.6" width="18.5" height="8.5" fill="#01008b"/>
<rect x="647" y="785.6" width="18.5" height="8.5" fill="#040088"/>
<rect x="647" y="793.6" width="18.5" height="8.5" fill="#070084"/>
<rect x="647" y="801.6" width="18.5" height="8.5" fill="#0a0081"/>
<rect x="647" y="809.6" width="18.5" height="8.5" fill="#0e007e"/>
<rect x="665" y="169.6" width="18.5" height="120.5" fill="#09000a"/>
<rect x="665" y="289.6" width="18.5" height="8.5" fill="#3b003d"/>
<rect x="665" y="297.6" width="18.5" height="8.5" fill="#3c003d"/>
<rect x="665" y="305.6" width="18.5" height="8.5" fill="#3c003e"/>
<rect x="665" y="313.6" width="18.5" height="16.5" fill="#3d003f"/>
<rect x="665" y="329.6" width="18.5" height="8.5" fill="#3e0040"/>
<rect x="665" y="337.6" width="18.5" height="16.5" fill="#3f0041"/>
<rect x="665" y="353.6" width="18.5" height="8.5" fill="#400042"/>
<rect x="665" y="361.6" width="18.5" height="16.5" fill="#410043"/>
<rect x="665" y="377.6" width="18.5" height="8.5" fill="#420044"/>
<rect x="665" y="385.6" width="18.5" height="8.5" fill="#420046"/>
<rect x="665" y="393.6" width="18.5" height="8.5" fill="#3e004a"/>
<rect x="665" y="401.6" width="18.5" height="8.5" fill="#3b004e"/>
<rect x="665" y="409.6" width="18.5" height="8.5" fill="#370051"/>
<rect x="665" y="417.6" width="18.5" height="8.5" fill="#340055"/>
<rect x="665" y="425.6" width="18.5" height="8.5" fill="#2f005a"/>
<rect x="665" y="433.6" width="18.5" height="8.5" fill="#280061"/>
<rect x="665" y="441.6" width="18.5" height="8.5" fill="#220068"/>
<rect x="665" y="449.6" width="18.5" height="8.5" fill="#120079"/>
<rect x="665" y="457.6" width="18.5" height="8.5" fill="#050087"/>
<rect x="665" y="465.6" width="18.5" height="8.5" fill="#000983"/>
<rect x="665" y="473.6" width="18.5" height="8.5" fill="#002961"/>
<rect x="665" y="481.6" width="18.5" height="8.5" fill="#005234"/>
<rect x="665" y="489.6" width="18.5" height="8.5" fill="#007e07"/>
<rect x="665" y="497.6" width="18.5" height="8.5" fill="#319500"/>
<rect x="665" y="505.6" width="18.5" height="8.5" fill="#4d9e00"/>
<rect x="665" y="513.6" width="18.5" height="8.5" fill="#54a000"/>
<rect x="665" y="521.6" width="18.5" height="16.5" fill="#58a200"/>
<rect x="665" y="537.6" width="18.5" height="8.5" fill="#54a000"/>
<rect x="665" y="545.6" width="18.5" height="8.5" fill="#489c00"/>
<rect x="665" y="553.6" width="18.5" height="24.5" fill="#389700"/>
<rect x="665" y="577.6" width="18.5" height="24.5" fill="#2c9300"/>
<rect x="665" y="601.6" width="18.5" height="64.5" fill="#279100"/>
<rect x="665" y="665.6" width="18.5" height="8.5" fill="#239000"/>
<rect x="665" y="673.6" width="18.5" height="8.5" fill="#198d00"/>
<rect x="665" y="681.6" width="18.5" height="8.5" fill="#0e8900"/>
<rect x="665" y="689.6" width="18.5" height="8.5" fill="#078600"/>
<rect x="665" y="697.6" width="18.5" height="8.5" fill="#008202"/>
<rect x="665" y="705.6" width="18.5" height="8.5" fill="#007c08"/>
<rect x="665" y="713.6" width="18.5" height="8.5" fill="#007411"/>
<rect x="665" y="721.6" width="18.5" height="8.5" fill="#006d19"/>
<rect x="665" y="729.6" width="18.5" height="8.5" fill="#006323"/>
<rect x="665" y="737.6" width="18.5" height="8.5" fill="#00592e"/>
<rect x="665" y="745.6" width="18.5" height="8.5" fill="#004b3d"/>
<rect x="665" y="753.6" width="18.5" height="8.5" fill="#004048"/>
<rect x="665" y="761.6" width="18.5" height="8.5" fill="#003455"/>
<rect x="665" y="769.6" width="18.5" height="8.5" fill="#002664"/>
<rect x="665" y="777.6" width="18.5" height="8.5" fill="#001674"/>
<rect x="665" y="785.6" width="18.5" height="8.5" fill="#000983"/>
<rect x="665" y="793.6" width="18.5" height="8.5" fill="#01008b"/>
<rect x="665" y="801.6" width="18.5" height="8.5" fill="#050087"/>
<rect x="665" y="809.6" width="18.5" height="8.5" fill="#090083"/>
<rect x="683" y="169.6" width="18.5" height="112.5" fill="#09000a"/>
<rect x="683" y="281.6" width="18.5" height="8.5" fill="#39003a"/>
<rect x="683" y="289.6" width="18.5" height="8.5" fill="#3a003c"/>
<rect x="683" y="297.6" width="18.5" height="8.5" fill="#3c003e"/>
<rect x="683" y="305.6" width="18.5" height="8.5" fill="#3e0040"/>
<rect x="683" y="313.6" width="18.5" height="8.5" fill="#400042"/>
<rect x="683" y="321.6" width="18.5" height="8.5" fill="#420044"/>
<rect x="683" y="329.6" width="18.5" height="8.5" fill="#420046"/>
<rect x="683" y="337.6" width="18.5" height="8.5" fill="#410047"/>
<rect x="683" y="345.6" width="18.5" height="8.5" fill="#3f0049"/>
<rect x="683" y="353.6" width="18.5" height="8.5" fill="#3e004a"/>
<rect x="683" y="361.6" width="18.5" height="8.5" fill="#3c004c"/>
<rect x="683" y="369.6" width="18.5" height="8.5" fill="#3b004e"/>
<rect x="683" y="377.6" width="18.5" height="8.5" fill="#39004f"/>
<rect x="683" y="385.6" width="18.5" height="8.5" fill="#360053"/>
<rect x="683" y="393.6" width="18.5" height="8.5" fill="#30005a"/>
<rect x="683" y="401.6" width="18.5" height="8.5" fill="#2a0060"/>
<rect x="683" y="409.6" width="18.5" height="8.5" fill="#240066"/>
<rect x="683" y="417.6" width="18.5" height="8.5" fill="#1d006d"/>
<rect x="683" y="425.6" width="18.5" height="8.5" fill="#160075"/>
<rect x="683" y="433.6" width="18.5" height="8.5" fill="#0f007d"/>
<rect x="683" y="441.6" width="18.5" height="8.5" fill="#070084"/>
<rect x="683" y="449.6" width="18.5" height="8.5" fill="#00008c"/>
<rect x="683" y="457.6" width="18.5" height="8.5" fill="#00206a"/>
<rect x="683" y="465.6" width="18.5" height="8.5" fill="#004246"/>
<rect x="683" y="473.6" width="18.5" height="8.5" fill="#00691d"/>
<rect x="683" y="481.6" width="18.5" height="8.5" fill="#048600"/>
<rect x="683" y="489.6" width="18.5" height="8.5" fill="#148b00"/>
<rect x="683" y="497.6" width="18.5" height="8.5" fill="#249000"/>
<rect x="683" y="505.6" width="18.5" height="16.5" fill="#289200"/>
<rect x="683" y="521.6" width="18.5" height="8.5" fill="#299200"/>
<rect x="683" y="529.6" width="18.5" height="16.5" fill="#2a9200"/>
<rect x="683" y="545.6" width="18.5" height="16.5" fill="#2b9300"/>
<rect x="683" y="561.6" width="18.5" height="8.5" fill="#2c9300"/>
<rect x="683" y="569.6" width="18.5" height="16.5" fill="#2d9300"/>
<rect x="683" y="585.6" width="18.5" height="16.5" fill="#2e9400"/>
<rect x="683" y="601.6" width="18.5" height="8.5" fill="#2f9400"/>
<rect x="683" y="609.6" width="18.5" height="8.5" fill="#309400"/>
<rect x="683" y="617.6" width="18.5" height="48.5" fill="#319500"/>
<rect x="683" y="665.6" width="18.5" height="8.5" fill="#279100"/>
<rect x="683" y="673.6" width="18.5" height="8.5" fill="#1e8e00"/>
<rect x="683" y="681.6" width="18.5" height="8.5" fill="#128a00"/>
<rect x="683" y="689.6" width="18.5" height="8.5" fill="#098700"/>
<rect x="683" y="697.6" width="18.5" height="8.5" fill="#028500"/>
<rect x="683" y="705.6" width="18.5" height="8.5" fill="#007e07"/>
<rect x="683" y="713.6" width="18.5" height="8.5" fill="#00760f"/>
<rect x="683" y="721.6" width="18.5" height="8.5" fill="#006d19"/>
<rect x="683" y="729.6" width="18.5" height="8.5" fill="#00671f"/>
<rect x="683" y="737.6" width="18.5" height="8.5" fill="#006323"/>
<rect x="683" y="745.6" width="18.5" height="8.5" fill="#005730"/>
<rect x="683" y="753.6" width="18.5" height="8.5" fill="#004840"/>
<rect x="683" y="761.6" width="18.5" height="8.5" fill="#003a4f"/>
<rect x="683" y="769.6" width="18.5" height="8.5" fill="#002c5d"/>
<rect x="683" y="777.6" width="18.5" height="8.5" fill="#00206a"/>
<rect x="683" y="785.6" width="18.5" height="8.5" fill="#001377"/>
<rect x="683" y="793.6" width="18.5" height="8.5" fill="#000785"/>
<rect x="683" y="801.6" width="18.5" height="8.5" fill="#01008b"/>
<rect x="683" y="809.6" width="18.5" height="8.5" fill="#050087"/>
<rect x="701" y="169.6" width="18.5" height="96.5" fill="#09000a"/>
<rect x="701" y="265.6" width="18.5" height="8.5" fill="#350036"/>
<rect x="701" y="273.6" width="18.5" height="8.5" fill="#360038"/>
<rect x="701" y="281.6" width="18.5" height="8.5" fill="#38003a"/>
<rect x="701" y="289.6" width="18.5" height="8.5" fill="#3a003b"/>
<rect x="701" y="297.6" width="18.5" height="8.5" fill="#3b003d"/>
<rect x="701" y="305.6" width="18.5" height="8.5" fill="#3d003f"/>
<rect x="701" y="313.6" width="18.5" height="8.5" fill="#3f0041"/>
<rect x="701" y="321.6" width="18.5" height="8.5" fill="#400042"/>
<rect x="701" y="329.6" width="18.5" height="8.5" fill="#420044"/>
<rect x="701" y="337.6" width="18.5" height="8.5" fill="#400048"/>
<rect x="701" y="345.6" width="18.5" height="8.5" fill="#3b004d"/>
<rect x="701" y="353.6" width="18.5" height="8.5" fill="#360053"/>
<rect x="701" y="361.6" width="18.5" height="8.5" fill="#310058"/>
<rect x="701" y="369.6" width="18.5" height="8.5" fill="#2c005d"/>
<rect x="701" y="377.6" width="18.5" height="8.5" fill="#270063"/>
<rect x="701" y="385.6" width="18.5" height="8.5" fill="#1f006b"/>
<rect x="701" y="393.6" width="18.5" height="8.5" fill="#140077"/>
<rect x="701" y="401.6" width="18.5" height="8.5" fill="#090082"/>
<rect x="701" y="409.6" width="18.5" height="8.5" fill="#000487"/>
<rect x="701" y="417.6" width="18.5" height="8.5" fill="#001d6d"/>
<rect x="701" y="425.6" width="18.5" height="8.5" fill="#003553"/>
<rect x="701" y="433.6" width="18.5" height="8.5" fill="#005137"/>
<rect x="701" y="441.6" width="18.5" height="8.5" fill="#006f17"/>
<rect x="701" y="449.6" width="18.5" height="8.5" fill="#058600"/>
<rect x="701" y="457.6" width="18.5" height="8.5" fill="#178c00"/>
<rect x="701" y="465.6" width="18.5" height="8.5" fill="#289200"/>
<rect x="701" y="473.6" width="18.5" height="56.5" fill="#2c9300"/>
<rect x="701" y="529.6" width="18.5" height="8.5" fill="#2d9300"/>
<rect x="701" y="537.6" width="18.5" height="8.5" fill="#359600"/>
<rect x="701" y="545.6" width="18.5" height="8.5" fill="#3c9900"/>
<rect x="701" y="553.6" width="18.5" height="8.5" fill="#4a9d00"/>
<rect x="701" y="561.6" width="18.5" height="8.5" fill="#54a000"/>
<rect x="701" y="569.6" width="18.5" height="8.5" fill="#5fa400"/>
<rect x="701" y="577.6" width="18.5" height="8.5" fill="#69a800"/>
<rect x="701" y="585.6" width="18.5" height="8.5" fill="#70aa00"/>
<rect x="701" y="593.6" width="18.5" height="8.5" fill="#77ac00"/>
<rect x="701" y="601.6" width="18.5" height="8.5" fill="#79ad00"/>
<rect x="701" y="609.6" width="18.5" height="48.5" fill="#7bae00"/>
<rect x="701" y="657.6" width="18.5" height="8.5" fill="#74ac00"/>
<rect x="701" y="665.6" width="18.5" height="8.5" fill="#64a600"/>
<rect x="701" y="673.6" width="18.5" height="8.5" fill="#5fa400"/>
<rect x="701" y="681.6" width="18.5" height="8.5" fill="#54a000"/>
<rect x="701" y="689.6" width="18.5" height="8.5" fill="#469c00"/>
<rect x="701" y="697.6" width="18.5" height="8.5" fill="#359600"/>
<rect x="701" y="705.6" width="18.5" height="8.5" fill="#239000"/>
<rect x="701" y="713.6" width="18.5" height="8.5" fill="#098700"/>
<rect x="701" y="721.6" width="18.5" height="8.5" fill="#007e07"/>
<rect x="701" y="729.6" width="18.5" height="8.5" fill="#007114"/>
<rect x="701" y="737.6" width="18.5" height="8.5" fill="#00671f"/>
<rect x="701" y="745.6" width="18.5" height="8.5" fill="#005631"/>
<rect x="701" y="753.6" width="18.5" height="8.5" fill="#004543"/>
<rect x="701" y="761.6" width="18.5" height="8.5" fill="#003752"/>
<rect x="701" y="769.6" width="18.5" height="8.5" fill="#002a5f"/>
<rect x="701" y="777.6" width="18.5" height="8.5" fill="#001d6e"/>
<rect x="701" y="785.6" width="18.5" height="8.5" fill="#00107b"/>
<rect x="701" y="793.6" width="18.5" height="8.5" fill="#000686"/>
<rect x="701" y="801.6" width="18.5" height="8.5" fill="#02008a"/>
<rect x="701" y="809.6" width="18.5" height="8.5" fill="#070084"/>
<rect x="719" y="169.6" width="18.5" height="64.5" fill="#09000a"/>
<rect x="719" y="233.6" width="18.5" height="8.5" fill="#310033"/>
<rect x="719" y="241.6" width="18.5" height="8.5" fill="#330034"/>
<rect x="719" y="249.6" width="18.5" height="8.5" fill="#350036"/>
<rect x="719" y="257.6" width="18.5" height="8.5" fill="#360038"/>
<rect x="719" y="265.6" width="18.5" height="8.5" fill="#38003a"/>
<rect x="719" y="273.6" width="18.5" height="8.5" fill="#3a003c"/>
<rect x="719" y="281.6" width="18.5" height="8.5" fill="#3c003e"/>
<rect x="719" y="289.6" width="18.5" height="8.5" fill="#3e0040"/>
<rect x="719" y="297.6" width="18.5" height="8.5" fill="#410043"/>
<rect x="719" y="305.6" width="18.5" height="8.5" fill="#400048"/>
<rect x="719" y="313.6" width="18.5" height="8.5" fill="#370051"/>
<rect x="719" y="321.6" width="18.5" height="8.5" fill="#2f005b"/>
<rect x="719" y="329.6" width="18.5" height="8.5" fill="#260064"/>
<rect x="719" y="337.6" width="18.5" height="8.5" fill="#1e006d"/>
<rect x="719" y="345.6" width="18.5" height="8.5" fill="#160074"/>
<rect x="719" y="353.6" width="18.5" height="8.5" fill="#0f007c"/>
<rect x="719" y="361.6" width="18.5" height="8.5" fill="#080084"/>
<rect x="719" y="369.6" width="18.5" height="8.5" fill="#00008c"/>
<rect x="719" y="377.6" width="18.5" height="8.5" fill="#001d6d"/>
<rect x="719" y="385.6" width="18.5" height="8.5" fill="#003d4c"/>
<rect x="719" y="393.6" width="18.5" height="8.5" fill="#005e28"/>
<rect x="719" y="401.6" width="18.5" height="8.5" fill="#028500"/>
<rect x="719" y="409.6" width="18.5" height="8.5" fill="#1c8d00"/>
<rect x="719" y="417.6" width="18.5" height="8.5" fill="#359600"/>
<rect x="719" y="425.6" width="18.5" height="8.5" fill="#3c9900"/>
<rect x="719" y="433.6" width="18.5" height="8.5" fill="#439b00"/>
<rect x="719" y="441.6" width="18.5" height="64.5" fill="#4a9d00"/>
<rect x="719" y="505.6" width="18.5" height="8.5" fill="#58a200"/>
<rect x="719" y="513.6" width="18.5" height="8.5" fill="#62a500"/>
<rect x="719" y="521.6" width="18.5" height="8.5" fill="#6ba800"/>
<rect x="719" y="529.6" width="18.5" height="8.5" fill="#85b100"/>
<rect x="719" y="537.6" width="18.5" height="8.5" fill="#9ab800"/>
<rect x="719" y="545.6" width="18.5" height="8.5" fill="#a5bc00"/>
<rect x="719" y="553.6" width="18.5" height="8.5" fill="#afbf00"/>
<rect x="719" y="561.6" width="18.5" height="8.5" fill="#b8c300"/>
<rect x="719" y="569.6" width="18.5" height="56.5" fill="#c4c700"/>
<rect x="719" y="625.6" width="18.5" height="8.5" fill="#bfc500"/>
<rect x="719" y="633.6" width="18.5" height="8.5" fill="#bac300"/>
<rect x="719" y="641.6" width="18.5" height="8.5" fill="#b8c300"/>
<rect x="719" y="649.6" width="18.5" height="8.5" fill="#b1c000"/>
<rect x="719" y="657.6" width="18.5" height="8.5" fill="#97b700"/>
<rect x="719" y="665.6" width="18.5" height="8.5" fill="#85b100"/>
<rect x="719" y="673.6" width="18.5" height="8.5" fill="#72ab00"/>
<rect x="719" y="681.6" width="18.5" height="8.5" fill="#58a200"/>
<rect x="719" y="689.6" width="18.5" height="8.5" fill="#3c9900"/>
<rect x="719" y="697.6" width="18.5" height="8.5" fill="#1e8e00"/>
<rect x="719" y="705.6" width="18.5" height="8.5" fill="#008202"/>
<rect x="719" y="713.6" width="18.5" height="8.5" fill="#006d19"/>
<rect x="719" y="721.6" width="18.5" height="8.5" fill="#004f38"/>
<rect x="719" y="729.6" width="18.5" height="8.5" fill="#003a4f"/>
<rect x="719" y="737.6" width="18.5" height="8.5" fill="#001d6e"/>
<rect x="719" y="745.6" width="18.5" height="8.5" fill="#000c80"/>
<rect x="719" y="753.6" width="18.5" height="8.5" fill="#01008b"/>
<rect x="719" y="761.6" width="18.5" height="8.5" fill="#070084"/>
<rect x="719" y="769.6" width="18.5" height="8.5" fill="#0d007e"/>
<rect x="719" y="777.6" width="18.5" height="8.5" fill="#120079"/>
<rect x="719" y="785.6" width="18.5" height="8.5" fill="#150075"/>
<rect x="719" y="793.6" width="18.5" height="8.5" fill="#190071"/>
<rect x="719" y="801.6" width="18.5" height="16.5" fill="#070007"/>
<rect x="737" y="169.6" width="18.5" height="40.5" fill="#09000a"/>
<rect x="737" y="209.6" width="18.5" height="8.5" fill="#2f0030"/>
<rect x="737" y="217.6" width="18.5" height="8.5" fill="#310032"/>
<rect x="737" y="225.6" width="18.5" height="8.5" fill="#330035"/>
<rect x="737" y="233.6" width="18.5" height="8.5" fill="#350037"/>
<rect x="737" y="241.6" width="18.5" height="8.5" fill="#380039"/>
<rect x="737" y="249.6" width="18.5" height="8.5" fill="#3a003c"/>
<rect x="737" y="257.6" width="18.5" height="8.5" fill="#3c003e"/>
<rect x="737" y="265.6" width="18.5" height="8.5" fill="#3e0040"/>
<rect x="737" y="273.6" width="18.5" height="8.5" fill="#410043"/>
<rect x="737" y="281.6" width="18.5" height="8.5" fill="#430045"/>
<rect x="737" y="289.6" width="18.5" height="8.5" fill="#390050"/>
<rect x="737" y="297.6" width="18.5" height="8.5" fill="#2e005b"/>
<rect x="737" y="305.6" width="18.5" height="8.5" fill="#240066"/>
<rect x="737" y="313.6" width="18.5" height="8.5" fill="#1a0070"/>
<rect x="737" y="321.6" width="18.5" height="8.5" fill="#11007a"/>
<rect x="737" y="329.6" width="18.5" height="8.5" fill="#070084"/>
<rect x="737" y="337.6" width="18.5" height="8.5" fill="#000784"/>
<rect x="737" y="345.6" width="18.5" height="8.5" fill="#002268"/>
<rect x="737" y="353.6" width="18.5" height="8.5" fill="#003c4c"/>
<rect x="737" y="361.6" width="18.5" height="8.5" fill="#005b2c"/>
<rect x="737" y="369.6" width="18.5" height="8.5" fill="#007a0a"/>
<rect x="737" y="377.6" width="18.5" height="8.5" fill="#118a00"/>
<rect x="737" y="385.6" width="18.5" height="8.5" fill="#239000"/>
<rect x="737" y="393.6" width="18.5" height="8.5" fill="#2d9300"/>
<rect x="737" y="401.6" width="18.5" height="8.5" fill="#379700"/>
<rect x="737" y="409.6" width="18.5" height="8.5" fill="#3f9900"/>
<rect x="737" y="417.6" width="18.5" height="8.5" fill="#439b00"/>
<rect x="737" y="425.6" width="18.5" height="8.5" fill="#489c00"/>
<rect x="737" y="433.6" width="18.5" height="8.5" fill="#4d9e00"/>
<rect x="737" y="441.6" width="18.5" height="8.5" fill="#51a000"/>
<rect x="737" y="449.6" width="18.5" height="8.5" fill="#58a200"/>
<rect x="737" y="457.6" width="18.5" height="8.5" fill="#5fa400"/>
<rect x="737" y="465.6" width="18.5" height="8.5" fill="#66a700"/>
<rect x="737" y="473.6" width="18.5" height="8.5" fill="#7bae00"/>
<rect x="737" y="481.6" width="18.5" height="8.5" fill="#8cb300"/>
<rect x="737" y="489.6" width="18.5" height="8.5" fill="#9eba00"/>
<rect x="737" y="497.6" width="18.5" height="8.5" fill="#b3c100"/>
<rect x="737" y="505.6" width="18.5" height="8.5" fill="#c8c800"/>
<rect x="737" y="513.6" width="18.5" height="8.5" fill="#c8b500"/>
<rect x="737" y="521.6" width="18.5" height="8.5" fill="#c8a400"/>
<rect x="737" y="529.6" width="18.5" height="8.5" fill="#c89c00"/>
<rect x="737" y="537.6" width="18.5" height="32.5" fill="#c89100"/>
<rect x="737" y="569.6" width="18.5" height="24.5" fill="#c88900"/>
<rect x="737" y="593.6" width="18.5" height="8.5" fill="#c88d00"/>
<rect x="737" y="601.6" width="18.5" height="8.5" fill="#c89300"/>
<rect x="737" y="609.6" width="18.5" height="8.5" fill="#c89900"/>
<rect x="737" y="617.6" width="18.5" height="8.5" fill="#c8a400"/>
<rect x="737" y="625.6" width="18.5" height="8.5" fill="#c8b100"/>
<rect x="737" y="633.6" width="18.5" height="8.5" fill="#c8c800"/>
<rect x="737" y="641.6" width="18.5" height="8.5" fill="#aabe00"/>
<rect x="737" y="649.6" width="18.5" height="8.5" fill="#8eb400"/>
<rect x="737" y="657.6" width="18.5" height="8.5" fill="#69a800"/>
<rect x="737" y="665.6" width="18.5" height="8.5" fill="#419a00"/>
<rect x="737" y="673.6" width="18.5" height="8.5" fill="#1e8e00"/>
<rect x="737" y="681.6" width="18.5" height="8.5" fill="#008202"/>
<rect x="737" y="689.6" width="18.5" height="8.5" fill="#00671f"/>
<rect x="737" y="697.6" width="18.5" height="8.5" fill="#004f38"/>
<rect x="737" y="705.6" width="18.5" height="8.5" fill="#003a4f"/>
<rect x="737" y="713.6" width="18.5" height="8.5" fill="#002664"/>
<rect x="737" y="721.6" width="18.5" height="8.5" fill="#000d7e"/>
<rect x="737" y="729.6" width="18.5" height="8.5" fill="#01008b"/>
<rect x="737" y="737.6" width="18.5" height="8.5" fill="#080083"/>
<rect x="737" y="745.6" width="18.5" height="8.5" fill="#0f007c"/>
<rect x="737" y="753.6" width="18.5" height="8.5" fill="#150075"/>
<rect x="737" y="761.6" width="18.5" height="8.5" fill="#1c006e"/>
<rect x="737" y="769.6" width="18.5" height="48.5" fill="#070007"/>
<rect x="755" y="169.6" width="18.5" height="24.5" fill="#09000a"/>
<rect x="755" y="193.6" width="18.5" height="8.5" fill="#240025"/>
<rect x="755" y="201.6" width="18.5" height="8.5" fill="#270028"/>
<rect x="755" y="209.6" width="18.5" height="8.5" fill="#29002a"/>
<rect x="755" y="217.6" width="18.5" height="8.5" fill="#2c002d"/>
<rect x="755" y="225.6" width="18.5" height="8.5" fill="#2e0030"/>
<rect x="755" y="233.6" width="18.5" height="8.5" fill="#310032"/>
<rect x="755" y="241.6" width="18.5" height="8.5" fill="#340035"/>
<rect x="755" y="249.6" width="18.5" height="8.5" fill="#360038"/>
<rect x="755" y="257.6" width="18.5" height="8.5" fill="#39003b"/>
<rect x="755" y="265.6" width="18.5" height="8.5" fill="#3c003d"/>
<rect x="755" y="273.6" width="18.5" height="8.5" fill="#420044"/>
<rect x="755" y="281.6" width="18.5" height="8.5" fill="#370051"/>
<rect x="755" y="289.6" width="18.5" height="8.5" fill="#2b005e"/>
<rect x="755" y="297.6" width="18.5" height="8.5" fill="#1f006b"/>
<rect x="755" y="305.6" width="18.5" height="8.5" fill="#130078"/>
<rect x="755" y="313.6" width="18.5" height="8.5" fill="#060085"/>
<rect x="755" y="321.6" width="18.5" height="8.5" fill="#000d7f"/>
<rect x="755" y="329.6" width="18.5" height="8.5" fill="#002763"/>
<rect x="755" y="337.6" width="18.5" height="8.5" fill="#004246"/>
<rect x="755" y="345.6" width="18.5" height="8.5" fill="#00592d"/>
<rect x="755" y="353.6" width="18.5" height="8.5" fill="#007114"/>
<rect x="755" y="361.6" width="18.5" height="8.5" fill="#038500"/>
<rect x="755" y="369.6" width="18.5" height="8.5" fill="#118a00"/>
<rect x="755" y="377.6" width="18.5" height="8.5" fill="#208f00"/>
<rect x="755" y="385.6" width="18.5" height="16.5" fill="#289200"/>
<rect x="755" y="401.6" width="18.5" height="8.5" fill="#299200"/>
<rect x="755" y="409.6" width="18.5" height="8.5" fill="#2a9200"/>
<rect x="755" y="417.6" width="18.5" height="8.5" fill="#2b9300"/>
<rect x="755" y="425.6" width="18.5" height="8.5" fill="#2c9300"/>
<rect x="755" y="433.6" width="18.5" height="8.5" fill="#3a9800"/>
<rect x="755" y="441.6" width="18.5" height="8.5" fill="#56a100"/>
<rect x="755" y="449.6" width="18.5" height="8.5" fill="#6ba800"/>
<rect x="755" y="457.6" width="18.5" height="8.5" fill="#7bae00"/>
<rect x="755" y="465.6" width="18.5" height="8.5" fill="#93b600"/>
<rect x="755" y="473.6" width="18.5" height="8.5" fill="#afbf00"/>
<rect x="755" y="481.6" width="18.5" height="8.5" fill="#c8c800"/>
<rect x="755" y="489.6" width="18.5" height="8.5" fill="#c8ac00"/>
<rect x="755" y="497.6" width="18.5" height="8.5" fill="#c89c00"/>
<rect x="755" y="505.6" width="18.5" height="8.5" fill="#c88900"/>
<rect x="755" y="513.6" width="18.5" height="8.5" fill="#c87e00"/>
<rect x="755" y="521.6" width="18.5" height="8.5" fill="#c87600"/>
<rect x="755" y="529.6" width="18.5" height="8.5" fill="#c87400"/>
<rect x="755" y="537.6" width="18.5" height="8.5" fill="#c87200"/>
<rect x="755" y="545.6" width="18.5" height="48.5" fill="#c87600"/>
<rect x="755" y="593.6" width="18.5" height="8.5" fill="#c89c00"/>
<rect x="755" y="601.6" width="18.5" height="8.5" fill="#c8b500"/>
<rect x="755" y="609.6" width="18.5" height="8.5" fill="#c8c800"/>
<rect x="755" y="617.6" width="18.5" height="8.5" fill="#9eba00"/>
<rect x="755" y="625.6" width="18.5" height="8.5" fill="#7bae00"/>
<rect x="755" y="633.6" width="18.5" height="8.5" fill="#4f9f00"/>
<rect x="755" y="641.6" width="18.5" height="8.5" fill="#279100"/>
<rect x="755" y="649.6" width="18.5" height="8.5" fill="#008400"/>
<rect x="755" y="657.6" width="18.5" height="8.5" fill="#00671f"/>
<rect x="755" y="665.6" width="18.5" height="8.5" fill="#004b3d"/>
<rect x="755" y="673.6" width="18.5" height="8.5" fill="#003752"/>
<rect x="755" y="681.6" width="18.5" height="8.5" fill="#00206a"/>
<rect x="755" y="689.6" width="18.5" height="8.5" fill="#000d7e"/>
<rect x="755" y="697.6" width="18.5" height="8.5" fill="#01008b"/>
<rect x="755" y="705.6" width="18.5" height="8.5" fill="#070084"/>
<rect x="755" y="713.6" width="18.5" height="8.5" fill="#11007a"/>
<rect x="755" y="721.6" width="18.5" height="8.5" fill="#190071"/>
<rect x="755" y="729.6" width="18.5" height="8.5" fill="#220068"/>
<rect x="755" y="737.6" width="18.5" height="80.5" fill="#070007"/>
<rect x="773" y="169.6" width="18" height="8.5" fill="#09000a"/>
<rect x="773" y="177.6" width="18" height="8.5" fill="#1b001b"/>
<rect x="773" y="185.6" width="18" height="8.5" fill="#1c001d"/>
<rect x="773" y="193.6" width="18" height="8.5" fill="#1e001f"/>
<rect x="773" y="201.6" width="18" height="8.5" fill="#200021"/>
<rect x="773" y="209.6" width="18" height="8.5" fill="#220023"/>
<rect x="773" y="217.6" width="18" height="8.5" fill="#230024"/>
<rect x="773" y="225.6" width="18" height="8.5" fill="#250026"/>
<rect x="773" y="233.6" width="18" height="8.5" fill="#270028"/>
<rect x="773" y="241.6" width="18" height="8.5" fill="#2a002b"/>
<rect x="773" y="249.6" width="18" height="8.5" fill="#300031"/>
<rect x="773" y="257.6" width="18" height="8.5" fill="#360038"/>
<rect x="773" y="265.6" width="18" height="8.5" fill="#3d003e"/>
<rect x="773" y="273.6" width="18" height="8.5" fill="#430045"/>
<rect x="773" y="281.6" width="18" height="8.5" fill="#370052"/>
<rect x="773" y="289.6" width="18" height="8.5" fill="#2b005f"/>
<rect x="773" y="297.6" width="18" height="8.5" fill="#1f006b"/>
<rect x="773" y="305.6" width="18" height="8.5" fill="#130078"/>
<rect x="773" y="313.6" width="18" height="8.5" fill="#060085"/>
<rect x="773" y="321.6" width="18" height="8.5" fill="#000a82"/>
<rect x="773" y="329.6" width="18" height="8.5" fill="#001e6c"/>
<rect x="773" y="337.6" width="18" height="8.5" fill="#003356"/>
<rect x="773" y="345.6" width="18" height="8.5" fill="#004542"/>
<rect x="773" y="353.6" width="18" height="8.5" fill="#005235"/>
<rect x="773" y="361.6" width="18" height="8.5" fill="#005f27"/>
<rect x="773" y="369.6" width="18" height="8.5" fill="#006c19"/>
<rect x="773" y="377.6" width="18" height="8.5" fill="#00790c"/>
<rect x="773" y="385.6" width="18" height="8.5" fill="#158b00"/>
<rect x="773" y="393.6" width="18" height="8.5" fill="#198d00"/>
<rect x="773" y="401.6" width="18" height="8.5" fill="#1e8e00"/>
<rect x="773" y="409.6" width="18" height="8.5" fill="#239000"/>
<rect x="773" y="417.6" width="18" height="8.5" fill="#279100"/>
<rect x="773" y="425.6" width="18" height="8.5" fill="#379700"/>
<rect x="773" y="433.6" width="18" height="8.5" fill="#469c00"/>
<rect x="773" y="441.6" width="18" height="8.5" fill="#56a100"/>
<rect x="773" y="449.6" width="18" height="8.5" fill="#80b000"/>
<rect x="773" y="457.6" width="18" height="8.5" fill="#9ab800"/>
<rect x="773" y="465.6" width="18" height="8.5" fill="#b3c100"/>
<rect x="773" y="473.6" width="18" height="8.5" fill="#c6c700"/>
<rect x="773" y="481.6" width="18" height="8.5" fill="#c8b100"/>
<rect x="773" y="489.6" width="18" height="8.5" fill="#c8a400"/>
<rect x="773" y="497.6" width="18" height="56.5" fill="#c89c00"/>
<rect x="773" y="553.6" width="18" height="8.5" fill="#c8a400"/>
<rect x="773" y="561.6" width="18" height="8.5" fill="#c8b100"/>
<rect x="773" y="569.6" width="18" height="8.5" fill="#c8c800"/>
<rect x="773" y="577.6" width="18" height="8.5" fill="#b3c100"/>
<rect x="773" y="585.6" width="18" height="8.5" fill="#93b600"/>
<rect x="773" y="593.6" width="18" height="8.5" fill="#74ac00"/>
<rect x="773" y="601.6" width="18" height="8.5" fill="#54a000"/>
<rect x="773" y="609.6" width="18" height="8.5" fill="#239000"/>
<rect x="773" y="617.6" width="18" height="8.5" fill="#008400"/>
<rect x="773" y="625.6" width="18" height="8.5" fill="#006026"/>
<rect x="773" y="633.6" width="18" height="8.5" fill="#004246"/>
<rect x="773" y="641.6" width="18" height="8.5" fill="#002961"/>
<rect x="773" y="649.6" width="18" height="8.5" fill="#001674"/>
<rect x="773" y="657.6" width="18" height="8.5" fill="#001279"/>
<rect x="773" y="665.6" width="18" height="8.5" fill="#00018b"/>
<rect x="773" y="673.6" width="18" height="8.5" fill="#090083"/>
<rect x="773" y="681.6" width="18" height="8.5" fill="#120079"/>
<rect x="773" y="689.6" width="18" height="8.5" fill="#190071"/>
<rect x="773" y="697.6" width="18" height="8.5" fill="#20006a"/>
<rect x="773" y="705.6" width="18" height="8.5" fill="#260064"/>
<rect x="773" y="713.6" width="18" height="104.5" fill="#070007"/>
</g>
<g stroke="#000" stroke-width="1" fill="none"><path d="M143 817.6 v-13 M143 169.6 v13"/><path d="M161 817.6 v-6.5 M161 169.6 v6.5"/><path d="M179 817.6 v-6.5 M179 169.6 v6.5"/><path d="M197 817.6 v-6.5 M197 169.6 v6.5"/><path d="M215 817.6 v-6.5 M215 169.6 v6.5"/><path d="M233 817.6 v-13 M233 169.6 v13"/><path d="M251 817.6 v-6.5 M251 169.6 v6.5"/><path d="M269 817.6 v-6.5 M269 169.6 v6.5"/><path d="M287 817.6 v-6.5 M287 169.6 v6.5"/><path d="M305 817.6 v-6.5 M305 169.6 v6.5"/><path d="M323 817.6 v-13 M323 169.6 v13"/><path d="M341 817.6 v-6.5 M341 169.6 v6.5"/><path d="M359 817.6 v-6.5 M359 169.6 v6.5"/><path d="M377 817.6 v-6.5 M377 169.6 v6.5"/><path d="M395 817.6 v-6.5 M395 169.6 v6.5"/><path d="M413 817.6 v-13 M413 169.6 v13"/><path d="M431 817.6 v-6.5 M431 169.6 v6.5"/><path d="M449 817.6 v-6.5 M449 169.6 v6.5"/><path d="M467 817.6 v-6.5 M467 169.6 v6.5"/><path d="M485 817.6 v-6.5 M485 169.6 v6.5"/><path d="M503 817.6 v-13 M503 169.6 v13"/><path d="M521 817.6 v-6.5 M521 169.6 v6.5"/><path d="M539 817.6 v-6.5 M539 169.6 v6.5"/><path d="M557 817.6 v-6.5 M557 169.6 v6.5"/><path d="M575 817.6 v-6.5 M575 169.6 v6.5"/><path d="M593 817.6 v-13 M593 169.6 v13"/><path d="M611 817.6 v-6.5 M611 169.6 v6.5"/><path d="M629 817.6 v-6.5 M629 169.6 v6.5"/><path d="M647 817.6 v-6.5 M647 169.6 v6.5"/><path d="M665 817.6 v-6.5 M665 169.6 v6.5"/><path d="M683 817.6 v-13 M683 169.6 v13"/><path d="M701 817.6 v-6.5 M701 169.6 v6.5"/><path d="M719 817.6 v-6.5 M719 169.6 v6.5"/><path d="M737 817.6 v-6.5 M737 169.6 v6.5"/><path d="M755 817.6 v-6.5 M755 169.6 v6.5"/><path d="M773 817.6 v-13 M773 169.6 v13"/><path d="M791 817.6 v-6.5 M791 169.6 v6.5"/><path d="M143 817.6 h13 M791 817.6 h-13"/><path d="M143 737.6 h6.5 M791 737.6 h-6.5"/><path d="M143 657.6 h13 M791 657.6 h-13"/><path d="M143 577.6 h6.5 M791 577.6 h-6.5"/><path d="M143 497.6 h13 M791 497.6 h-13"/><path d="M143 417.6 h6.5 M791 417.6 h-6.5"/><path d="M143 337.6 h13 M791 337.6 h-13"/><path d="M143 257.6 h6.5 M791 257.6 h-6.5"/><path d="M143 177.6 h13 M791 177.6 h-13"/></g>
<rect x="142.7" y="169.6" width="648.8" height="648.4" fill="none" stroke="#000" stroke-width="1.4" shape-rendering="geometricPrecision"/>
<rect x="538.5" y="33.5" width="325.0" height="14.0" fill="url(#cb)"/>
<path d="M592.667 33.5 v3 M592.667 47.5 v-3" stroke="#000" stroke-width="1"/><path d="M646.833 33.5 v3 M646.833 47.5 v-3" stroke="#000" stroke-width="1"/><path d="M701 33.5 v3 M701 47.5 v-3" stroke="#000" stroke-width="1"/><path d="M755.167 33.5 v3 M755.167 47.5 v-3" stroke="#000" stroke-width="1"/><path d="M809.333 33.5 v3 M809.333 47.5 v-3" stroke="#000" stroke-width="1"/>
<rect x="538.5" y="33.5" width="325.0" height="14.0" fill="none" stroke="#000" stroke-width="1.4"/>
</svg>
<div class="t c" style="left:701px;top:-4px">TEC</div>
<div class="t c" style="left:538.5px;top:57.8px">0</div>
<div class="t c" style="left:592.7px;top:57.8px">10</div>
<div class="t c" style="left:646.8px;top:57.8px">20</div>
<div class="t c" style="left:701.0px;top:57.8px">30</div>
<div class="t c" style="left:755.2px;top:57.8px">40</div>
<div class="t c" style="left:809.3px;top:57.8px">50</div>
<div class="t c" style="left:863.5px;top:57.8px">60</div>
<div class="t c" style="left:469.9px;top:131px;font-size:29.9px">PBf20161202  UT: 17.5  mjd: 57724</div>
<div class="t r" style="left:128.8px;top:800.1px">-40</div>
<div class="t r" style="left:128.8px;top:640.1px">-20</div>
<div class="t r" style="left:128.8px;top:480.1px">0</div>
<div class="t r" style="left:128.8px;top:320.1px">20</div>
<div class="t r" style="left:128.8px;top:160.1px">40</div>
<div class="t c" style="left:143.0px;top:827.5px">0</div>
<div class="t c" style="left:233.0px;top:827.5px">50</div>
<div class="t c" style="left:323.0px;top:827.5px">100</div>
<div class="t c" style="left:413.0px;top:827.5px">150</div>
<div class="t c" style="left:503.0px;top:827.5px">200</div>
<div class="t c" style="left:593.0px;top:827.5px">250</div>
<div class="t c" style="left:683.0px;top:827.5px">300</div>
<div class="t c" style="left:773.0px;top:827.5px">350</div>
<div class="t" style="left:0px;top:393px">Latitude</div>
<div class="t c" style="left:466.5px;top:869px">Longitude</div>
</body></html>
